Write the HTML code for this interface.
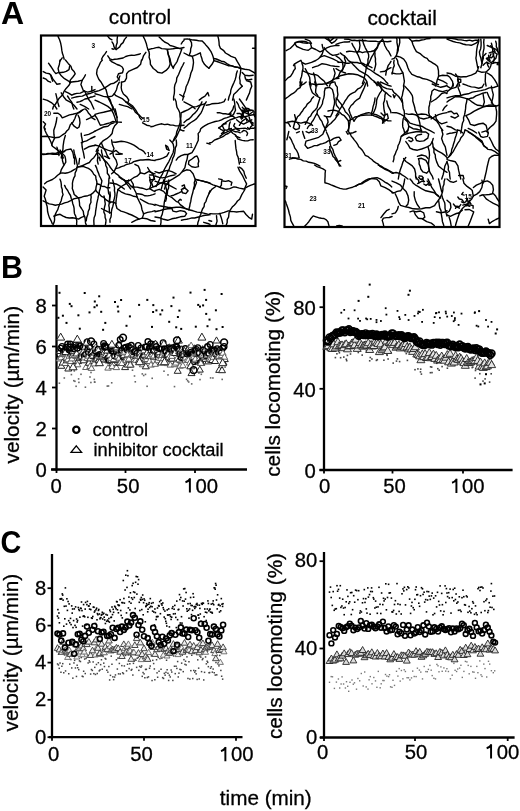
<!DOCTYPE html>
<html><head><meta charset="utf-8"><style>
html,body{margin:0;padding:0;background:#fff;width:520px;height:811px;overflow:hidden}
svg{display:block;font-family:"Liberation Sans",sans-serif;will-change:transform}
</style></head><body>
<svg width="520" height="811" viewBox="0 0 520 811">
<text transform="translate(1.1,24.3)" font-size="32" font-weight="bold">A</text>
<text transform="translate(1.07,278.1) scale(0.95,1)" font-size="32" font-weight="bold">B</text>
<text transform="translate(0.52,552.8) scale(0.9,1)" font-size="32" font-weight="bold">C</text>
<text x="140" y="23.5" font-size="20.8" text-anchor="middle" font-weight="normal" stroke="#000" stroke-width="0.3" >control</text>
<text x="402.1" y="24.5" font-size="20.8" text-anchor="middle" font-weight="normal" stroke="#000" stroke-width="0.3" >cocktail</text>
<text x="265.8" y="804.5" font-size="20.7" text-anchor="middle" font-weight="normal" stroke="#000" stroke-width="0.3" >time (min)</text>
<defs><clipPath id="cb1"><rect x="41" y="35.5" width="214.5" height="190.5"/></clipPath><clipPath id="cb2"><rect x="284.5" y="37.5" width="215" height="189.5"/></clipPath></defs>
<g fill="none" stroke="#000" stroke-width="1.4" stroke-linejoin="round" stroke-linecap="round" clip-path="url(#cb1)">
<polyline points="58.0,36.4 59.6,39.8 60.7,43.3 61.4,46.8 61.8,50.2 62.3,53.0 63.2,55.6 64.2,59.2"/>
<polyline points="62.2,57.8 59.7,61.3"/>
<polyline points="106.5,51.6 104.8,54.1 102.9,56.5 101.5,59.2"/>
<polyline points="107.8,36.4 109.8,38.7 112.0,39.8"/>
<polyline points="107.8,55.8 109.8,58.8 112.0,59.6"/>
<polyline points="117.5,36.4 117.1,39.5 117.2,42.7 116.2,45.4 116.0,48.3 113.5,49.2 112.0,48.8"/>
<polyline points="126.5,37.1 124.4,39.6 123.1,42.6 121.0,44.4 119.7,46.9 116.2,49.5"/>
<polyline points="112.0,41.9 113.4,44.2 114.0,46.8 116.2,49.5"/>
<polyline points="143.2,36.4 144.9,39.7 146.2,43.2 147.0,46.4 147.9,49.6 149.0,51.6 149.4,54.3 149.1,57.2 150.2,60.6 150.4,64.3 153.3,68.5 155.7,70.2 157.7,72.3 161.9,73.1 166.1,70.4 168.8,67.6 170.2,64.1 169.6,60.6 169.2,57.1 168.1,53.7 167.4,50.2"/>
<polyline points="148.7,49.5 151.1,48.8 153.6,48.4 156.3,47.6 159.1,47.3 161.7,48.6 164.6,48.9 167.4,49.2 170.0,49.1 172.9,48.8 175.7,48.2 179.7,48.4 184.0,47.5"/>
<polyline points="159.1,37.1 161.8,39.6 164.6,42.0 167.6,43.3 170.1,45.5 173.6,46.4 177.0,47.6 180.5,48.8"/>
<polyline points="181.2,44.0 182.5,41.8 184.0,40.5"/>
<polyline points="167.4,50.2 167.9,53.0 168.6,55.8 169.9,58.4 170.5,61.2 171.4,64.8 173.3,68.4 174.1,65.8 175.7,63.6 177.2,61.3 178.1,58.5 179.3,55.7 180.4,52.9 181.9,48.8"/>
<polyline points="184.0,62.7 182.7,65.5 181.2,68.2 180.0,71.1 178.6,74.5 176.8,77.9 176.4,81.5 174.9,84.8 174.4,87.6 174.5,90.4 174.3,93.6 173.6,96.8 173.6,100.1"/>
<polyline points="112.0,59.9 114.7,59.3 117.5,59.0 120.3,58.5 123.1,58.0 125.7,56.5 128.6,55.6 131.4,55.3 134.2,55.4 139.0,54.3 140.4,53.7"/>
<polyline points="145.9,52.3 143.6,55.6 142.1,60.0"/>
<polyline points="179.8,94.5 182.5,96.2 184.0,96.6"/>
<polyline points="184.0,39.2 187.3,38.9 191.6,39.8 196.4,40.2 199.1,40.9 202.2,41.0 204.6,43.4 206.3,45.6 208.1,47.5 211.0,51.6 212.2,54.3 213.2,57.1 214.0,60.7 212.0,64.3 208.9,68.2"/>
<polyline points="184.0,53.0 188.1,55.2 192.2,56.3 196.6,54.6 200.3,52.8 201.0,55.9 201.8,58.2 202.4,60.8 204.5,64.3 206.6,66.4 208.9,68.2"/>
<polyline points="189.5,39.2 191.5,42.6 191.7,45.8 190.7,48.8 190.5,51.7 189.5,54.4"/>
<polyline points="192.3,56.5 193.2,59.5 193.5,62.7 193.0,66.1 192.4,69.6 190.9,73.0 190.1,76.5 189.0,80.1 187.7,83.5 186.1,86.8 185.4,90.4 183.8,94.5 183.4,97.3 182.6,100.1"/>
<polyline points="213.8,58.5 216.3,59.0 218.6,60.0 221.3,61.2 224.3,61.7 226.8,63.6 229.6,65.1 232.4,66.1 235.2,67.1 237.8,67.1 240.1,68.3 244.8,69.2 249.3,69.9 253.3,72.2 256.0,73.8"/>
<polyline points="213.8,60.6 217.0,61.5 220.0,62.7 222.8,63.7 225.5,64.7 228.2,65.7 231.2,65.7 233.9,66.5 236.7,67.2 240.1,68.2"/>
<polyline points="217.9,36.4 218.6,39.1 219.0,41.8 219.2,45.2 220.5,48.4 223.4,50.3 225.5,53.0 228.4,54.6 231.1,56.3 235.3,57.8 237.2,61.4 239.3,64.8 240.9,68.2 240.4,73.1 239.5,77.9 240.1,80.7 240.0,83.5 242.2,86.2"/>
<polyline points="237.3,71.0 236.4,73.7 236.0,76.6 235.2,79.4 234.1,82.2 232.9,84.9 231.7,87.6 230.8,90.3 230.5,93.2 229.1,96.5 228.3,100.1"/>
<polyline points="242.2,72.4 244.9,75.3 249.1,75.8 253.2,75.2"/>
<polyline points="244.9,76.5 245.6,79.2 248.4,80.0 251.8,79.3"/>
<polyline points="242.2,86.2 239.3,88.9 236.7,91.8 233.7,94.5 233.2,97.3 232.5,100.1"/>
<polyline points="246.3,80.7 250.7,82.0 251.8,86.2 250.3,89.6 249.4,93.3 247.8,96.6 246.3,100.1"/>
<polyline points="199.2,100.1 202.0,97.9 205.0,96.2 207.8,92.5 208.9,95.9"/>
<polyline points="252.5,48.2 256.0,48.2"/>
<polyline points="97.7,157.6 97.4,160.9 98.2,164.1"/>
<polyline points="62.2,157.1 62.5,160.7 63.5,164.1"/>
<polyline points="79.6,158.5 79.2,161.3 78.8,164.1"/>
<polyline points="99.5,157.2 100.1,160.6"/>
<polyline points="74.8,157.2 74.5,160.6 74.6,164.1"/>
<polyline points="150.8,126.7 153.6,126.2 156.3,125.2 159.0,124.4 161.9,123.8 164.6,124.6 167.4,124.2 170.2,125.0 173.0,125.1 175.7,125.9 178.4,125.9 181.2,125.5 184.0,125.3"/>
<polyline points="173.9,140.3 175.9,137.9 177.2,135.1 178.5,132.2 179.9,129.5 180.5,126.7 181.0,124.0 180.9,120.5 180.1,117.1 179.8,112.8 178.6,110.0 177.0,107.3 176.4,104.5 176.1,101.7 175.0,99.0"/>
<polyline points="184.0,111.5 181.1,112.8 180.9,117.1 180.3,119.8 180.1,122.6 178.8,126.8 177.7,129.5 176.7,132.1 176.2,135.1 174.7,137.6 172.8,141.9"/>
<polyline points="179.8,129.5 182.6,130.7 184.0,130.8"/>
<polyline points="206.2,101.8 204.6,104.4 203.4,107.3 202.3,110.2 200.9,113.1 198.8,115.8 196.6,118.6 193.9,120.7 190.9,122.5 188.7,124.1 186.7,126.0 184.0,128.1"/>
<polyline points="202.0,101.8 200.7,104.6 199.1,107.2 197.3,110.2 195.1,112.9 192.8,114.8 191.0,117.1 189.0,119.0 186.6,120.2 184.0,122.5"/>
<polyline points="225.5,99.0 224.1,101.6 221.4,102.6 218.6,103.3 215.2,103.5 211.7,103.8 209.0,104.8 206.2,105.2"/>
<polyline points="184.0,101.8 188.4,104.1 192.5,106.4 195.1,108.7"/>
<polyline points="184.0,111.5 188.3,109.6 192.3,107.0 196.5,106.6 200.5,105.0 204.8,103.8"/>
<polyline points="233.8,99.0 234.5,101.7 234.8,104.5 235.0,107.3 235.5,110.2 233.4,114.6 229.8,116.6 227.0,117.6 224.2,118.4 221.5,119.8 218.7,120.9 215.2,121.5 211.7,122.6 208.2,123.8 205.0,125.6 202.7,127.1 200.7,128.8 200.0,131.4 198.1,133.6 198.4,136.4 198.2,139.2"/>
<polyline points="217.2,112.8 220.1,112.8 222.7,113.7 225.6,113.7 228.5,114.4 231.0,112.1 232.8,109.5 233.8,105.9"/>
<polyline points="218.6,128.1 222.7,125.2 224.7,123.4 226.8,121.7 229.8,120.0 233.9,118.5 236.6,117.6 239.3,116.6 242.2,116.8 245.0,116.7 247.7,116.0 250.4,115.2 253.2,114.8 256.0,114.9"/>
<polyline points="220.0,136.4 224.0,133.3 228.2,131.3 232.3,129.8 236.6,128.4 239.4,128.6 242.1,128.4 245.0,128.2 247.7,129.2 250.5,128.4 253.3,128.3 256.0,127.4"/>
<polyline points="209.4,143.0 211.9,142.3 214.3,140.2 217.2,139.0 220.0,137.9 222.9,136.7 225.4,134.7 228.2,133.5 231.1,131.5"/>
<polyline points="231.1,131.5 233.0,133.5 235.5,134.8 238.0,139.1 242.2,140.4 244.9,140.7 247.7,140.9 250.4,139.9 253.2,139.8"/>
<polyline points="235.2,140.5 235.4,143.3 235.7,146.1 236.0,148.9 236.6,151.6 236.9,154.5 238.1,157.1 238.8,160.6 239.4,164.1"/>
<polyline points="236.6,101.8 238.2,104.4 239.2,107.4 242.2,111.5 243.5,115.6"/>
<polyline points="239.4,99.0 242.3,103.0 245.2,107.1 247.7,111.5"/>
<polyline points="236.6,119.8 239.5,122.2 243.6,124.1 247.5,122.2 251.8,119.8"/>
<polyline points="239.4,125.3 242.1,121.1 246.1,118.5 248.3,120.6 250.7,122.3 253.2,125.3"/>
<polyline points="242.2,110.1 245.0,112.6 249.2,114.5 253.2,111.5"/>
<polyline points="249.1,117.0 250.4,121.3 253.2,123.2"/>
<polyline points="210.3,183.6 213.0,184.8 217.1,186.1 221.4,188.0 225.5,189.2 229.7,188.6 233.9,186.9 236.7,187.3 239.4,188.1 243.7,189.0 247.7,186.6 250.4,185.4 253.2,184.3 256.0,183.8"/>
<polyline points="218.6,178.9 222.1,179.6 221.5,182.4 221.4,185.2 220.0,187.2"/>
<polyline points="222.8,181.0 225.5,181.4 228.4,180.7 231.9,182.4 231.1,185.2"/>
<polyline points="215.8,186.5 211.7,189.3 209.0,193.5"/>
<polyline points="244.9,189.3 243.4,192.0 241.8,194.6 239.7,199.2 237.5,201.0 236.0,203.2 234.2,205.2 232.2,207.1 229.3,211.4 228.9,214.2 228.6,217.1 227.2,219.7 227.2,222.6 225.5,227.0"/>
<polyline points="229.7,211.5 233.8,211.6 236.6,212.0 239.4,211.6 243.7,211.3 246.0,214.5 248.8,217.3 251.7,219.1 252.5,214.2"/>
<polyline points="210.3,213.6 213.0,213.9 215.8,213.9 218.7,213.8 221.5,213.1 224.2,212.3 228.3,210.8"/>
<polyline points="208.9,220.5 211.7,221.2"/>
<polyline points="238.0,167.2 239.7,171.1 242.4,175.3 244.5,179.7 246.6,183.9 244.9,187.9"/>
<polyline points="239.4,167.2 241.8,168.7 243.8,171.2 244.5,174.2 246.3,178.2"/>
<polyline points="216.5,215.6 216.7,218.4 217.1,221.1 215.8,225.3"/>
<polyline points="220.0,214.2 221.0,216.9 221.8,219.6 222.8,223.9"/>
<polyline points="125.5,101.8 128.8,103.2 132.4,105.8 135.4,109.6 137.8,113.7 140.8,116.8 143.2,118.6"/>
<polyline points="60.1,60.0 59.4,64.2 58.1,68.5 59.0,72.7 61.3,75.8 64.5,78.7 68.6,81.1 70.7,82.2"/>
<polyline points="65.4,60.0 68.2,63.4 70.9,66.2 71.9,69.3 74.1,71.5 75.2,73.9 72.9,77.0 70.4,79.9 69.6,82.2"/>
<polyline points="59.0,72.7 63.2,72.3 66.2,71.4 69.0,69.6 69.6,66.3"/>
<polyline points="48.5,63.2 50.2,65.5 52.3,68.6 54.0,71.4 55.8,73.6 58.0,72.7"/>
<polyline points="43.2,71.6 46.2,73.1 49.5,73.7 51.4,76.0 52.8,78.9 55.1,81.9 56.9,84.2 60.1,83.8"/>
<polyline points="43.2,78.0 46.1,79.2 48.4,81.4 50.6,82.2"/>
<polyline points="50.6,74.8 51.5,78.0 52.7,81.2"/>
<polyline points="69.6,82.2 73.8,81.7 78.1,81.2 82.3,80.1 84.4,76.9 85.5,74.8"/>
<polyline points="82.3,80.1 80.9,84.4 82.5,88.5 83.4,90.8 87.7,92.1 91.9,91.0 95.0,89.6"/>
<polyline points="70.7,82.2 68.8,85.6 66.1,88.4 64.0,91.5 62.4,95.1 59.2,98.2 57.1,101.5 55.2,104.6 53.4,106.5 52.7,109.0"/>
<polyline points="65.4,91.7 68.6,93.2 71.8,95.2 74.3,94.0 76.9,93.4 80.3,93.1 83.4,91.7"/>
<polyline points="43.2,99.1 47.3,100.4 51.3,102.6 54.7,105.6 56.9,109.0"/>
<polyline points="55.9,93.8 56.9,98.1 57.8,102.4 59.0,106.5"/>
<polyline points="61.2,92.8 63.6,96.7 66.4,100.2 70.7,102.3 74.0,105.3 77.0,109.0"/>
<polyline points="67.5,96.0 69.5,99.1 71.9,102.3 72.8,106.5 73.8,109.0"/>
<polyline points="71.7,98.1 74.3,97.4 77.0,96.8 79.6,96.4 82.3,96.1 86.6,94.2 90.9,93.2 95.0,91.7"/>
<polyline points="77.0,102.3 79.8,101.6 82.4,100.5 84.9,99.0 87.7,98.5 90.2,97.3 92.8,96.7 95.0,96.0"/>
<polyline points="84.4,90.7 86.5,94.9 88.5,99.2 90.9,102.2 92.8,106.5 93.9,109.0"/>
<polyline points="91.8,86.4 91.8,90.7"/>
<polyline points="80.2,104.4 84.5,106.3 88.7,109.0"/>
<polyline points="102.4,60.0 100.4,62.4 99.2,65.3 97.1,69.5 96.6,73.7 97.6,76.5 98.8,79.2 100.8,81.7 102.4,84.3 103.9,87.0 106.0,89.5 106.7,92.2 107.4,95.0 108.5,97.6 110.2,100.0 111.6,104.5 113.0,106.7 113.6,109.1 115.2,113.1 117.2,117.5"/>
<polyline points="109.8,60.0 112.0,61.9 114.5,63.2 117.0,64.5 119.9,65.5 122.2,67.0 123.4,69.4 122.5,72.8 118.5,73.8 117.2,76.9 119.3,80.1"/>
<polyline points="141.5,60.0 140.6,64.3 137.4,67.5 133.0,69.4 128.6,71.4 126.6,73.7 126.5,78.1 124.7,81.4 121.4,82.2"/>
<polyline points="95.0,91.7 99.1,90.6 103.5,88.7 107.5,86.1 110.8,83.9 113.9,83.2 117.1,81.1 118.9,78.9 119.9,75.9"/>
<polyline points="95.0,93.8 99.2,94.9 103.4,96.4 107.7,97.0 112.1,96.1 114.3,93.9 116.5,89.7 117.5,85.6 119.3,82.2"/>
<polyline points="121.4,82.2 121.5,84.8 121.2,87.5 121.7,90.5 123.4,94.0 126.8,96.9 128.8,100.2 127.8,102.3"/>
<polyline points="114.0,93.8 115.9,95.7 118.4,96.8 122.7,98.9 125.5,101.5 128.7,104.5 132.3,107.4 133.9,109.7 135.3,112.1 138.8,115.0 139.7,117.6 141.5,119.6"/>
<polyline points="95.0,100.2 99.3,102.0 103.6,104.2 107.8,106.4 110.9,109.0"/>
<polyline points="107.7,97.0 109.8,101.3 112.0,105.5 113.0,109.0"/>
<polyline points="119.3,104.4 123.6,105.6 127.7,106.6 132.0,109.0"/>
<polyline points="53.8,113.2 58.0,113.2 60.4,115.0 62.3,117.9 65.4,116.6 69.5,114.9 72.8,114.3 76.1,113.4 79.3,112.6 82.3,110.1"/>
<polyline points="56.9,117.5 56.3,121.8 55.2,126.0 53.8,130.2 53.9,134.4 54.5,138.4 52.4,142.7 51.6,145.0"/>
<polyline points="42.1,136.5 46.3,136.3 50.6,136.9 54.8,137.7 59.2,137.3 62.1,135.2 65.3,133.2 66.7,131.0 68.7,129.2 70.3,124.7 73.1,121.9 74.9,118.5 76.0,115.3 77.9,112.9 81.1,110.9 84.4,109.0"/>
<polyline points="71.7,122.8 73.8,125.9 77.1,128.3 79.1,127.0 80.0,122.8 79.5,118.4 78.1,115.3"/>
<polyline points="44.2,128.0 45.1,130.7 46.3,133.3 48.7,137.5 50.8,141.7 52.4,146.3 56.1,148.9 59.0,151.3 61.1,153.4 62.4,155.6 63.3,158.0"/>
<polyline points="65.4,135.4 64.6,138.0 63.9,140.6 63.5,143.3 63.1,146.0 63.0,148.7 62.6,151.4 61.8,154.7 61.2,158.0"/>
<polyline points="56.9,147.1 58.2,151.3 59.0,155.5"/>
<polyline points="40.0,154.5 42.6,154.0 45.3,154.3 47.9,153.4 50.5,153.7 53.2,154.3 55.8,154.2 58.6,154.3 61.2,153.3 63.7,151.6 66.3,149.9 71.0,149.0 72.8,152.4 73.4,155.2 73.8,158.0"/>
<polyline points="81.2,133.3 81.4,136.0 82.0,138.6 82.4,141.3 81.9,143.9 82.1,146.5 82.6,149.1 83.6,153.4 84.4,158.0"/>
<polyline points="81.2,142.8 83.8,141.6 86.6,140.9 90.7,138.5 95.0,136.5"/>
<polyline points="84.4,149.2 88.6,146.8 92.8,145.8 95.0,145.5"/>
<polyline points="84.4,135.4 88.7,134.4 92.9,132.4 95.0,131.2"/>
<polyline points="85.5,109.0 87.3,111.0 88.6,113.3 90.5,115.2 91.7,117.6 95.0,119.6"/>
<polyline points="86.5,119.6 90.8,117.6 95.0,115.3"/>
<polyline points="43.2,121.7 45.6,123.9 44.0,127.1 45.3,129.1"/>
<polyline points="95.0,114.3 99.2,113.1 103.5,112.2 107.7,111.2 112.0,110.2 114.0,109.0"/>
<polyline points="95.0,115.3 97.1,118.5 98.5,121.5 100.3,125.2 103.6,124.6 106.6,123.8 109.8,122.9 113.0,121.5 116.2,122.1 118.8,122.1 121.4,122.2"/>
<polyline points="110.9,109.0 113.2,113.1 114.8,117.6 115.8,120.8 117.3,122.9 114.7,125.7 113.0,129.1 112.1,133.5 109.7,136.3 106.7,138.7 103.4,140.6 100.2,143.9 98.5,147.3 96.1,151.3"/>
<polyline points="115.1,109.0 116.2,113.2 116.9,117.5 117.2,121.7"/>
<polyline points="95.0,131.2 99.2,129.1 103.5,127.0 107.9,126.2 110.9,123.8 114.0,122.8"/>
<polyline points="142.6,122.8 146.7,125.2 150.0,125.9"/>
<polyline points="101.3,142.8 103.2,147.3 105.6,151.3 107.3,155.7 108.8,158.0"/>
<polyline points="95.0,145.0 99.1,146.1 103.4,148.3 107.7,150.1 111.9,151.3"/>
<polyline points="97.1,149.2 97.3,153.3 98.2,158.0"/>
<polyline points="76.9,166.9 80.0,166.7 83.1,166.3 85.7,167.4 88.4,168.4 90.8,170.0 92.5,172.0 93.7,174.3 95.7,176.1 96.0,178.7 96.7,181.2 97.0,183.8 96.1,186.9 95.7,190.3 93.4,192.6 90.8,194.6 87.8,195.7 84.6,196.2 81.6,197.2 78.3,198.0 76.2,196.1 74.2,194.5 73.4,191.5 72.3,188.5 72.5,185.9 72.4,183.3 72.9,180.7 73.7,178.2 75.0,175.8 75.1,173.0 76.5,170.1 76.9,166.9"/>
<polyline points="43.1,154.6 46.1,154.2 49.2,153.7 52.3,153.2 55.5,153.5 60.0,152.0 64.6,151.5"/>
<polyline points="60.0,150.0 61.5,152.1 63.1,154.1 64.9,156.1 65.6,159.2 65.8,162.1 64.4,164.5 62.9,166.8 61.2,169.8 60.3,173.4 57.6,175.3 55.3,177.5 52.4,179.5 49.2,180.8 46.7,181.9 44.6,183.8"/>
<polyline points="60.0,173.1 62.6,172.9 65.1,173.3 67.6,172.8 70.8,171.7 73.7,169.8 76.2,168.5 78.5,166.8 83.1,165.4"/>
<polyline points="73.8,150.0 74.3,153.2 75.2,156.3 76.1,159.3 76.7,162.3 77.7,166.9"/>
<polyline points="83.1,165.4 86.1,163.8 89.4,162.5 91.3,159.8 93.8,157.7 95.4,155.4 96.8,153.1 98.5,150.0"/>
<polyline points="60.0,179.2 60.9,181.7 61.3,184.3 61.4,186.9 62.3,189.4 62.3,192.1 63.1,194.6 61.9,197.6 61.2,200.7 59.8,203.8 58.6,206.9 57.8,209.6 56.4,212.0 55.2,214.6 54.5,217.1 54.6,219.8 54.1,222.3 53.0,225.1 53.0,228.0"/>
<polyline points="64.6,185.4 65.9,188.1 67.7,190.5 69.0,193.2 70.5,195.5 71.2,198.2 72.2,200.8 72.7,203.4 73.6,205.9 74.1,208.4 74.2,211.1 74.5,213.7 75.7,216.1 76.3,218.6 76.8,221.2 76.6,223.8 77.0,228.0"/>
<polyline points="78.5,197.7 79.1,200.2 79.5,202.8 79.6,205.6 81.5,208.5 83.3,211.4 83.7,214.6 85.0,217.6 85.3,220.2 85.5,222.9 86.5,225.4 86.5,228.0"/>
<polyline points="90.8,194.6 91.2,197.2 90.8,199.7 91.0,202.3 89.6,205.3 89.5,208.6 88.2,211.5 87.8,214.6 86.7,217.6 86.2,220.8"/>
<polyline points="43.1,200.8 46.2,202.3 49.2,203.9 52.3,204.4 55.3,205.2 58.4,204.6 61.6,204.1 64.6,202.9 67.6,202.1 70.7,200.7 73.7,198.9 78.5,197.7"/>
<polyline points="95.4,165.4 96.6,167.9 97.4,170.6 98.5,173.1 99.4,175.7 100.7,178.2 101.9,180.9 101.4,183.4 100.6,186.0 100.3,188.6 99.4,191.1 99.2,193.7 98.3,196.2 97.9,198.7 97.3,201.2 96.7,203.8 96.4,206.4 96.0,208.9 95.6,211.5 95.3,214.7 94.1,217.7 93.8,220.8 94.0,224.4 93.5,228.0"/>
<polyline points="101.5,150.0 101.7,152.6 102.5,155.1 103.0,157.7 104.2,160.2 105.5,162.7 105.8,165.5 107.0,167.9 107.3,170.5 107.3,173.3 109.0,175.5 109.8,178.2"/>
<polyline points="96.9,183.8 99.6,184.5 101.9,186.3 104.7,186.5 107.1,187.8 109.8,187.7"/>
<polyline points="95.4,190.0 97.3,192.2 99.5,194.1 101.4,196.3 103.8,197.4 105.5,199.4 107.7,200.8 110.6,202.7"/>
<polyline points="104.6,156.2 107.1,157.3 109.6,158.6"/>
<polyline points="98.5,153.1 100.5,155.3 102.4,157.7 104.2,160.1 106.5,162.0 108.2,164.1 109.8,166.3"/>
<polyline points="43.1,186.9 46.1,190.0 45.2,193.0 44.2,196.3 45.2,198.7 45.9,201.2 46.3,203.8 47.1,206.3 47.4,208.9 47.6,211.5 48.4,214.6 49.4,217.6 51.0,220.6 52.3,223.8"/>
<polyline points="53.8,216.2 56.8,215.0 60.1,214.3 63.1,216.2 66.2,217.5 69.2,218.0 72.3,217.8 75.4,218.3 78.5,219.1 81.4,217.3 84.6,216.2"/>
<polyline points="101.5,208.5 104.5,210.2 107.6,211.7 110.8,212.9"/>
<polyline points="104.0,196.0 104.6,198.6 104.9,201.3 105.3,204.0 104.6,206.7 104.2,209.3 103.8,212.0 105.0,214.6 105.1,217.4 106.0,220.0 105.8,222.7 105.3,225.3 105.0,228.0"/>
<polyline points="109.0,178.0 108.8,180.5 108.8,183.0 108.3,185.5 107.9,188.0 108.3,190.5 108.6,193.1 109.8,195.4 109.6,198.0 109.5,200.5 109.3,203.0 108.8,205.5 109.3,207.9 109.3,210.5 109.6,213.1"/>
<polyline points="109.9,225.5 110.0,228.0"/>
<polyline points="112.7,142.1 115.6,142.3 118.4,141.7 121.2,141.3 124.4,141.6 127.4,142.4 130.7,143.6 133.9,145.2 136.5,146.9 138.9,148.8 141.4,149.9 143.7,151.3 145.5,153.8"/>
<polyline points="111.6,140.0 112.3,144.3 114.0,148.6 112.8,151.6 113.4,156.1 116.1,160.1 117.3,164.4 115.6,168.4 114.0,171.9 111.6,173.8"/>
<polyline points="113.8,151.6 116.0,150.4 118.9,153.1 122.3,154.0 119.1,154.4 115.9,154.3"/>
<polyline points="110.0,154.2 112.7,152.7"/>
<polyline points="110.0,167.0 112.8,170.6 116.0,173.7 118.2,175.2 120.1,177.0 122.2,178.6 124.4,180.1 126.4,181.8 128.7,183.3 130.5,185.7 132.8,187.6"/>
<polyline points="115.9,168.6 118.7,167.9 121.3,166.6 123.9,165.9 126.3,164.5 129.0,163.9 131.6,163.1 133.7,161.7 136.1,161.0 140.2,160.0 142.8,160.0 145.5,159.7 148.2,159.5 150.8,160.0 155.0,160.6"/>
<polyline points="134.9,164.3 138.4,166.2 139.8,169.6 140.3,172.9 137.1,176.2 133.6,177.7 129.7,180.5 125.6,180.9 122.1,179.2 119.0,177.0"/>
<polyline points="140.2,172.8 144.5,173.9 148.8,171.4 152.7,173.1 155.0,173.8"/>
<polyline points="110.0,183.0 112.7,183.3 117.0,184.3 121.1,186.6 124.3,189.0"/>
<polyline points="124.3,180.2 126.3,183.4 128.8,186.4 130.7,189.0"/>
<polyline points="147.6,167.5 149.9,171.4 152.8,173.8 154.3,178.3 151.5,182.4 152.9,186.5"/>
<polyline points="149.5,175.0 153.6,175.0 154.6,179.3 150.4,180.0 149.5,177.0"/>
<polyline points="169.8,140.0 171.7,141.9 173.2,144.2 174.0,148.5 173.1,152.7 171.0,157.0 169.0,161.3 166.6,165.4 164.3,169.5 162.5,173.8 160.1,178.0 158.2,182.3 156.1,186.5"/>
<polyline points="176.2,140.0 176.5,142.7 176.5,145.4 175.3,147.9 175.1,150.6 174.7,153.3 174.0,155.9 172.7,158.4 172.0,161.2 171.0,163.8 169.9,166.4 169.2,169.2 167.7,171.7 166.7,174.4 165.6,177.0 164.6,179.7 163.5,182.3 162.2,185.6 161.3,189.0"/>
<polyline points="165.6,145.3 166.7,149.2 169.2,150.5 167.6,146.6 165.6,145.3"/>
<polyline points="155.0,160.1 159.3,159.3 163.3,157.8 166.8,156.1 168.8,152.7"/>
<polyline points="198.4,140.0 196.5,144.3 194.4,148.7 192.0,152.7 187.8,154.5 184.5,154.5 181.2,155.6 178.0,157.7 176.2,160.1"/>
<polyline points="187.8,154.8 187.1,159.1 185.8,163.3 184.9,167.7 182.3,171.5 179.3,174.9 176.1,176.8 172.9,178.9 169.5,180.9 166.5,184.3 165.2,186.6 164.5,189.0"/>
<polyline points="188.8,161.2 192.0,159.0 195.0,156.6 197.0,156.0 198.2,158.5 198.8,161.2 198.1,163.8 198.5,166.6 195.2,167.4 191.8,166.8 188.5,164.3 188.8,161.2"/>
<polyline points="182.5,171.7 186.6,169.8 190.2,170.4 193.1,173.8 194.8,178.2 196.5,182.4 195.0,186.4 194.1,189.0"/>
<polyline points="195.2,179.1 199.4,180.4 203.7,181.3 207.8,182.5 210.0,183.4"/>
<polyline points="155.0,171.7 159.2,173.0 163.4,171.3 167.8,170.4 171.9,171.7 176.2,173.8"/>
<polyline points="155.0,176.0 159.1,177.4 162.3,177.9 166.6,177.1 170.8,175.7 175.1,174.9"/>
<polyline points="155.0,181.2 159.1,182.6 163.5,183.4 167.7,184.4 171.8,186.6 176.2,189.0"/>
<polyline points="182.0,186.0 184.3,184.9 184.9,187.8 183.0,189.0"/>
<polyline points="206.8,143.2 210.0,144.2"/>
<polyline points="110.0,192.0 110.3,195.8 109.7,198.5 109.5,201.2"/>
<polyline points="112.7,180.0 113.4,182.6 114.0,185.3 114.6,187.9 114.4,190.6 114.9,193.2 114.9,195.9 114.3,198.5 113.6,201.2 113.4,203.8 112.8,206.4 111.9,209.0 111.4,211.7 111.3,214.4 111.0,217.0 109.9,219.6 110.0,222.3"/>
<polyline points="118.0,189.5 121.1,191.8 125.4,193.9 129.6,194.7 133.7,196.3 137.0,196.9"/>
<polyline points="118.0,189.5 117.0,193.8 116.7,196.4 116.3,199.0 116.0,201.7 115.8,204.3 117.0,208.5 121.0,211.1 123.7,211.9 126.4,212.8 129.0,214.0 131.7,215.0 135.9,217.1 139.1,219.1 142.3,218.1"/>
<polyline points="137.0,196.9 139.1,201.2 141.2,205.4 142.0,209.7 143.7,213.9 142.3,218.1"/>
<polyline points="118.0,189.5 121.3,186.5 125.3,184.1 127.8,182.2 128.6,180.0"/>
<polyline points="130.7,180.0 133.2,184.1 133.8,188.5 136.0,192.7 137.0,196.9"/>
<polyline points="131.7,186.3 134.3,187.0 137.1,187.1 139.7,187.7 142.4,188.2 146.5,189.6 149.7,188.6 152.7,187.0 155.0,186.3"/>
<polyline points="137.0,193.8 139.7,194.0 142.4,194.5 144.9,195.8 147.6,195.9 150.3,195.4 152.8,194.6 155.0,193.8"/>
<polyline points="140.2,199.0 144.3,201.3 148.6,203.6 152.8,204.4 155.0,205.4"/>
<polyline points="143.4,213.8 147.5,212.4 151.8,211.6 155.0,210.7"/>
<polyline points="131.7,222.3 136.0,220.2 139.1,219.1"/>
<polyline points="142.3,218.1 146.6,218.7 150.7,220.5 155.0,221.3"/>
<polyline points="110.0,202.0 112.8,202.0 115.9,203.3"/>
<polyline points="149.7,180.0 151.0,184.2 149.6,188.6 152.9,190.7 155.0,191.6"/>
<polyline points="163.5,180.0 164.6,182.6 165.3,185.4 166.1,188.0 166.7,190.6 166.5,193.3 165.6,195.9 165.2,198.6 164.5,201.2 164.1,203.8 163.9,206.5 163.4,209.1 162.7,211.8 162.2,214.4 161.0,217.0 161.0,219.6 161.0,222.3 160.3,226.5"/>
<polyline points="168.8,180.0 168.6,182.7 168.7,185.3 168.6,188.0 167.5,190.6 167.4,193.3 166.2,195.8 166.4,198.6 165.6,201.2"/>
<polyline points="155.0,190.6 159.3,189.3 163.6,191.4 165.4,193.5 167.5,195.0 169.8,196.5 172.1,197.7 174.1,199.5 176.1,201.3 178.5,202.4 180.2,204.6 182.3,206.1 184.4,207.8 188.8,209.8 193.1,210.8 197.2,212.1 201.5,212.6 205.8,213.6 210.0,214.9"/>
<polyline points="155.0,186.3 159.1,183.9 163.4,181.8 167.7,181.1"/>
<polyline points="181.4,189.5 184.4,187.6 188.1,190.8 185.8,193.6 182.4,192.7 181.4,189.5"/>
<polyline points="170.9,195.9 173.7,195.2 176.3,194.0 178.9,192.9 181.4,191.6"/>
<polyline points="195.2,180.0 194.3,182.6 194.5,185.4 193.8,188.0 193.2,190.6 192.6,193.3 191.8,195.9 191.2,198.5 190.8,201.2 190.1,203.7 189.7,206.3 188.8,209.6"/>
<polyline points="197.3,180.0 200.0,180.4 202.6,181.1 205.2,181.8 207.8,182.4 210.0,183.2"/>
<polyline points="210.0,190.6 209.1,193.3 208.0,195.9 206.8,198.5 206.0,201.3 204.4,203.7 204.1,206.6 202.5,209.0 201.5,211.7 200.7,214.5 199.3,217.0 198.9,219.7 198.0,222.2 197.3,226.5"/>
<polyline points="155.0,204.3 159.1,205.7 163.5,206.5 167.7,207.3 171.9,207.8 176.2,207.2 180.3,207.3 184.5,208.3 188.8,209.6"/>
<polyline points="171.9,208.6 172.9,211.1 176.3,211.9 180.4,210.6 184.8,211.5 186.6,213.7 184.7,216.3 180.3,216.8 176.2,218.0 171.8,218.8 167.7,220.3 163.5,219.3 159.3,217.7 155.0,217.0"/>
<polyline points="155.0,211.7 159.2,210.8 163.5,209.5 167.7,208.7 171.9,208.6"/>
<polyline points="181.4,220.2 184.0,219.6 186.7,219.2 189.4,218.6 192.0,217.9 194.7,218.0 197.4,217.3 200.0,216.7 202.6,215.8 205.2,215.2 208.0,215.1 210.0,213.8"/>
<polyline points="178.3,201.2 180.2,199.2 181.4,200.1"/>
<polyline points="203.7,222.3 207.8,223.5 210.0,224.4"/>
<polyline points="229.0,128.7 227.1,130.3 224.7,129.9 223.5,132.1 221.5,133.6"/>
<polyline points="246.8,135.6 247.6,133.2 246.1,131.1 243.7,130.4 241.8,132.0"/>
<polyline points="250.1,110.8 248.8,108.7 246.3,108.3 243.9,109.1 242.3,107.2"/>
<polyline points="226.1,123.7 223.6,123.8 221.8,125.4 223.2,127.4 224.2,129.8"/>
<polyline points="234.7,123.6 233.7,125.9 235.5,127.7 237.2,129.5 239.5,130.5"/>
<polyline points="249.0,110.3 246.6,110.1 244.1,109.8 244.0,112.3 242.0,113.8"/>
<polyline points="242.6,118.2 240.8,116.4 242.5,114.5 243.6,112.3 245.1,110.3"/>
<polyline points="254.1,111.8 253.9,114.3 254.8,116.7 256.9,115.5"/>
<polyline points="241.5,119.1 242.9,117.0 241.8,114.7 239.6,113.4 237.1,113.5"/>
<polyline points="235.4,135.8 237.7,136.8 240.0,137.8"/>
<polyline points="228.6,114.4 231.0,113.8 230.2,116.1 232.7,116.2 234.8,117.6"/>
<polyline points="249.1,115.4 248.3,113.0 248.3,110.5 250.7,110.0 253.2,110.4"/>
<polyline points="240.5,117.9 242.4,116.2 244.8,116.7 246.4,118.7 246.9,121.1"/>
<polyline points="251.2,123.0 252.4,125.2 250.6,127.0 249.5,129.2 247.6,127.5"/>
<polyline points="224.0,132.6 222.9,130.3 220.6,129.4 219.0,127.5"/>
<polyline points="242.7,110.7 243.9,112.9 245.7,111.2 248.1,111.9 249.4,109.8"/>
<polyline points="240.3,132.8 238.0,131.9 235.5,131.8 233.2,130.9 230.9,129.7"/>
<polyline points="230.2,122.0 229.4,124.3 229.1,126.8 229.0,129.3 231.4,128.5"/>
</g>
<g fill="none" stroke="#000" stroke-width="1.4" stroke-linejoin="round" stroke-linecap="round" clip-path="url(#cb2)">
<polyline points="288.8,131.5 288.2,134.2 287.6,137.0 286.8,139.8"/>
<polyline points="326.5,132.3 328.1,135.7 329.3,139.0 329.9,142.5 330.7,146.1 332.8,149.3 333.8,153.0 335.3,156.3 336.9,159.0 337.9,162.0 339.4,166.1"/>
<polyline points="324.0,131.4 322.8,134.2 318.7,137.3 314.5,138.6 310.3,139.9 306.0,141.1 305.0,145.1 307.6,148.3 311.7,146.8 314.4,145.6 317.3,145.5 319.9,144.3 322.6,143.6 325.6,142.6 328.2,140.9 331.2,140.1 333.8,138.4 336.6,137.5 339.1,137.1 341.1,140.1 338.5,141.7 336.8,144.3 333.8,145.3"/>
<polyline points="346.2,131.5 347.7,134.1 350.4,133.3 353.2,132.7 356.0,131.5"/>
<polyline points="302.6,131.5 303.3,134.3 304.8,138.4"/>
<polyline points="306.1,131.6 308.9,132.8 311.7,131.5"/>
<polyline points="299.4,131.7 296.5,132.8"/>
<polyline points="289.5,137.0 291.2,139.6 292.4,142.5 293.8,145.3 294.8,148.2 296.7,150.7 298.1,153.5 299.2,158.0 296.5,158.1 293.8,158.0 289.5,159.2"/>
<polyline points="292.3,157.8 295.1,158.2 297.9,159.1 300.7,159.4 303.3,160.9 306.2,161.1 308.8,162.3 311.7,162.8 314.4,163.4 317.2,164.7 320.0,166.1"/>
<polyline points="329.7,146.7 330.0,149.6 331.4,152.1 333.0,156.5 335.0,158.3 336.5,160.6 338.5,163.4 340.8,166.1"/>
<polyline points="335.2,159.2 337.9,161.7 340.8,160.5"/>
<polyline points="314.5,165.0 317.1,166.6 320.0,167.7 323.0,168.8 325.5,170.5 325.1,173.3 325.1,176.1 324.9,179.5 324.9,182.8 328.1,183.6 331.1,184.9 333.9,186.0 336.6,187.1 340.0,188.4 343.5,189.1 346.4,189.0 349.2,188.1 352.6,187.2 356.0,185.8"/>
<polyline points="285.4,201.0 286.3,203.8 287.3,206.6 288.5,210.0 289.3,213.5 290.4,216.9 290.8,220.4 292.2,223.2 293.7,225.9"/>
<polyline points="304.8,225.9 306.9,223.9 308.8,221.7 310.7,218.8 313.2,215.9 315.9,216.8 318.6,217.7 321.4,218.2 324.0,218.5 326.3,219.9 327.9,221.8 329.0,225.9"/>
<polyline points="284.0,185.8 287.0,186.5 286.1,188.5"/>
<polyline points="336.6,225.9 339.3,225.4 342.2,225.9"/>
<polyline points="356.0,185.8 358.6,184.4 361.7,183.9 364.4,182.1 367.3,180.6 371.2,178.5 374.0,178.7 376.6,179.1 379.3,181.7 380.9,185.9 385.2,187.6 389.2,189.9 393.1,192.9"/>
<polyline points="392.1,216.5 389.2,217.5 386.4,217.6 383.4,218.1 382.2,220.4 383.1,223.1 383.7,225.9"/>
<polyline points="378.2,165.0 381.1,166.1 383.6,167.9 386.4,169.2 389.1,170.7 393.4,173.2"/>
<polyline points="380.9,217.6 383.9,213.7 386.5,210.7 389.2,209.3"/>
<polyline points="286.1,50.7 290.2,48.5 293.7,45.1 295.5,42.5 298.8,41.8 302.9,42.7 307.3,43.3"/>
<polyline points="294.6,43.3 298.8,41.4 302.0,41.1 305.3,41.5 307.8,42.7 310.5,43.3 311.6,47.7 308.3,50.2 305.7,49.9 303.2,49.4 299.8,47.8 296.8,46.5 294.6,43.3"/>
<polyline points="311.5,47.6 315.8,49.5 320.0,51.8 322.2,51.0 326.2,48.2 330.5,46.4 334.8,45.6 339.0,45.5"/>
<polyline points="305.2,39.1 309.7,40.9 311.5,43.3"/>
<polyline points="324.2,37.0 326.2,38.8 328.5,40.1 331.6,43.3 334.9,41.3 336.9,39.1"/>
<polyline points="327.4,37.0 328.7,39.3 330.2,40.9 333.7,38.1"/>
<polyline points="322.1,44.4 322.6,47.1 323.5,49.8 322.2,54.0 320.1,57.2 318.1,59.0 315.8,60.5 311.5,62.4 308.3,63.3 305.4,64.2 301.9,62.5 300.9,60.3 297.6,62.2 294.3,64.2 293.5,65.6"/>
<polyline points="294.6,64.5 295.3,68.5 293.7,70.6 292.6,73.1 290.5,76.3 287.9,77.9 285.6,80.4"/>
<polyline points="302.0,63.4 302.9,66.0 303.0,68.7 302.3,71.3 302.0,74.0 301.5,76.7 300.5,79.2 300.6,82.7 299.9,86.0"/>
<polyline points="312.6,67.7 315.2,66.7 317.9,65.9 322.1,63.7 326.3,64.4 330.5,65.6 334.8,66.2 339.0,66.6"/>
<polyline points="320.0,57.1 324.3,55.7 328.4,57.1 332.9,58.8 337.1,61.0 339.0,62.4"/>
<polyline points="324.2,47.6 326.4,50.7 329.6,53.6 332.7,55.4 336.8,54.8 339.0,53.9"/>
<polyline points="303.0,70.8 307.3,72.8 311.5,74.3 315.6,74.7 318.0,75.7 319.8,77.4 322.0,79.4 324.3,81.3 325.7,83.6 327.4,85.7"/>
<polyline points="305.2,68.7 307.5,72.9 309.6,77.2 310.1,81.4 311.0,86.0"/>
<polyline points="313.6,73.0 314.8,77.2 315.4,81.5 316.8,86.0"/>
<polyline points="333.7,68.7 335.1,73.1 334.0,77.3 332.0,81.6 330.4,83.6 329.5,86.0"/>
<polyline points="326.3,83.5 330.5,81.4 334.7,78.9 339.0,78.2"/>
<polyline points="344.5,39.1 348.3,39.2 351.9,40.5 354.5,40.3 357.1,40.8 359.8,40.2 362.4,40.8 365.1,40.5 367.7,41.1 370.3,41.2 373.0,41.3 375.7,41.1 378.3,41.9 381.0,41.3 383.6,41.4 387.3,41.7 391.0,41.2"/>
<polyline points="336.0,44.4 340.1,42.9 344.5,41.9 347.1,42.0 349.8,41.8"/>
<polyline points="362.4,39.1 363.4,43.4 365.3,47.8 367.5,51.8 368.6,54.4 368.7,57.1 367.9,59.7 368.0,62.5 366.5,66.5 365.8,70.8 364.8,75.1 363.9,79.4 362.4,83.5"/>
<polyline points="351.9,43.3 353.1,45.9 354.7,48.3 355.8,50.9 357.2,53.4 358.5,55.9 359.5,58.6 360.5,61.2 361.6,63.7 363.7,65.4 365.8,66.9 367.8,68.6 370.5,70.0 373.0,71.8 375.6,73.6 378.2,75.2 381.1,77.0 383.8,79.1 385.7,81.4 387.8,83.5"/>
<polyline points="340.2,52.9 342.3,54.6 344.5,56.0 346.6,58.2 348.4,60.6 351.0,62.2 353.0,64.4 355.1,66.6 357.2,68.7 359.1,70.6 361.4,71.9 365.5,74.1 367.7,75.5 369.6,77.4 371.7,79.5 374.3,81.3 375.9,83.3 377.2,85.7"/>
<polyline points="338.1,62.4 342.3,62.2 346.6,63.3 349.3,63.2 351.9,62.2 354.5,62.5 357.2,62.5 359.7,63.3 362.5,63.1 365.0,64.7 367.8,65.5 372.0,67.7"/>
<polyline points="346.6,51.8 349.2,51.2 351.9,51.4 354.5,51.9 357.2,51.9 359.8,51.6 362.4,52.7 365.0,51.9 367.7,51.9 370.9,51.5 373.9,50.7 376.1,48.6 378.2,45.4 380.1,42.1 382.5,39.1"/>
<polyline points="374.1,50.8 375.0,53.3 374.9,56.0 375.5,58.6 375.4,61.3 375.8,64.0 375.3,66.6 374.1,70.8"/>
<polyline points="378.3,43.3 377.5,47.7 374.8,51.6 373.3,54.3 371.7,56.9 369.8,61.3 367.7,65.6"/>
<polyline points="382.5,39.1 383.9,42.2 384.8,45.5 387.0,49.6 388.7,51.5 389.9,53.9 391.0,56.0"/>
<polyline points="391.0,61.3 389.6,63.6 388.1,65.7 387.3,68.2 386.4,70.7 385.7,75.1"/>
<polyline points="380.4,71.9 384.9,71.2 388.9,68.7 391.0,67.7"/>
<polyline points="336.0,78.2 340.1,75.8 344.5,74.7 348.7,73.7 352.9,74.0 357.3,74.7 361.2,76.5 364.6,78.2 366.8,81.4 367.7,86.0"/>
<polyline points="336.0,68.7 339.3,70.6 342.3,71.9 345.5,73.0"/>
<polyline points="344.5,56.0 344.6,58.7 345.6,61.3 344.7,65.7 342.3,69.8 339.9,72.8 338.1,77.2"/>
<polyline points="336.0,56.0 339.3,58.1 342.2,61.3 343.0,65.5 343.0,68.2 342.3,70.8"/>
<polyline points="359.3,41.2 360.0,45.4 359.3,49.7 357.2,52.9"/>
<polyline points="302.0,82.0 301.3,84.8 300.2,87.6 297.5,89.1 295.6,91.5 293.5,93.1 291.2,94.4 288.2,96.7 285.1,98.9"/>
<polyline points="309.4,82.0 309.9,85.2 310.6,88.2 312.4,92.8 315.8,95.5 320.0,97.9 318.7,102.0 317.8,104.7 317.1,107.6 315.4,109.7 313.5,111.5 311.8,113.6 310.7,116.0 308.5,117.7 307.6,120.2 305.2,124.3"/>
<polyline points="314.7,82.0 315.5,84.6 316.1,87.3 315.7,89.9 315.6,92.7 317.8,95.7"/>
<polyline points="313.6,96.8 311.7,98.7 310.6,101.2 307.2,104.1 306.0,106.5 304.0,108.4 302.7,110.7 301.0,112.8 299.6,115.0 297.5,116.8 295.6,121.1"/>
<polyline points="309.4,84.1 312.6,84.0 315.7,84.8 318.9,84.2 322.1,84.2 325.3,83.7 328.4,83.1 331.1,82.9 333.7,82.0"/>
<polyline points="325.3,88.3 324.4,91.4 324.4,94.7 323.8,97.9 322.8,100.9 322.4,103.8 321.1,106.3 319.5,108.5 317.4,110.4 317.1,113.3 315.6,115.7 313.4,120.0 311.8,122.1 310.8,124.6 308.5,126.2 307.3,128.5"/>
<polyline points="325.3,88.3 329.6,87.2 332.4,89.5 333.1,92.1 333.8,94.7 334.0,97.9 334.6,101.0 334.4,104.2 333.5,107.4 333.2,110.0 332.5,112.6 330.5,116.8 326.4,116.7 324.2,115.8"/>
<polyline points="316.8,113.7 318.7,116.2 320.0,119.0 321.9,121.4 322.9,124.4 325.1,128.6 326.3,131.0"/>
<polyline points="334.8,82.0 335.6,84.8 337.3,87.2 337.4,91.0 337.9,94.7 337.2,97.5 336.1,99.9 335.9,102.7 336.6,105.5 339.0,108.4"/>
<polyline points="326.3,116.9 327.6,119.5 328.1,122.1 326.2,126.3 325.3,128.7 324.2,131.0"/>
<polyline points="339.0,113.7 336.8,116.3 335.0,119.2 332.8,121.2 330.8,123.5 328.3,125.3 326.3,127.5"/>
<polyline points="287.2,122.2 289.9,121.7 292.4,121.3 296.7,122.2 300.9,123.1 305.2,122.0 309.3,123.4 312.6,125.4"/>
<polyline points="294.6,114.8 295.7,119.0 294.5,123.2 293.3,127.7 295.6,129.6 299.0,128.6 299.6,125.7 297.7,123.2"/>
<polyline points="284.0,122.2 288.4,123.1 290.3,126.4"/>
<polyline points="299.9,82.0 301.0,85.5 303.9,83.9 306.2,82.0"/>
<polyline points="364.6,82.0 362.8,84.9 360.6,87.6 357.5,89.2 355.2,91.8 352.4,93.1 349.8,94.7 348.0,96.6 346.6,98.9 345.0,101.0 343.8,103.4 341.1,107.3 339.5,109.9 338.0,112.6 336.0,115.8"/>
<polyline points="366.7,82.0 365.4,84.5 364.5,87.3 363.3,89.9 362.1,92.4 360.8,95.2 359.6,98.2 356.9,99.8 354.7,101.7 353.1,103.9 351.1,105.5 348.8,109.5 350.1,113.5 352.0,117.9 354.0,121.1"/>
<polyline points="336.0,97.9 337.9,99.8 339.4,102.0 341.1,103.9 342.4,106.3 344.1,108.9 345.3,111.7 347.2,113.6 349.0,115.6 350.4,118.9 350.0,121.6 349.6,124.2 348.9,127.7 347.6,131.0"/>
<polyline points="354.0,121.1 355.5,118.9 357.2,116.9 361.4,114.7 365.5,113.3 368.8,112.7 372.9,113.9 377.1,115.0 381.2,117.1 383.4,120.0 382.5,123.2"/>
<polyline points="373.0,113.7 374.3,111.1 375.4,108.5 376.0,105.9 376.5,103.2 376.6,100.5 377.3,98.0 379.5,93.7 381.8,90.4 380.6,86.1 378.8,84.1 377.2,82.0"/>
<polyline points="374.1,82.0 376.4,83.4 378.4,85.1 380.6,87.1 382.4,89.5 384.5,91.7 387.0,93.4 388.9,95.2 391.0,96.8"/>
<polyline points="385.7,92.6 384.9,95.2 384.8,97.9 384.5,100.6 383.5,103.2 383.7,105.8 383.9,108.3 384.3,111.0 385.1,113.8 384.5,116.4 383.6,119.0"/>
<polyline points="386.8,101.0 387.4,103.6 388.1,106.1 390.4,110.4 391.0,112.7"/>
<polyline points="378.3,82.0 380.4,84.1 382.3,86.6 386.7,88.6 391.0,89.4"/>
<polyline points="380.4,82.0 384.7,83.9 388.7,85.5 391.0,86.2"/>
<polyline points="381.0,113.0 383.8,115.7 387.3,113.9 388.3,118.3 384.8,121.3 381.9,119.0 384.0,123.0"/>
<polyline points="348.5,121.0 351.8,119.2 354.8,117.0 357.7,116.5 360.5,115.5 363.3,115.2 366.1,115.0 368.9,115.1 371.8,114.9 374.6,116.1 377.4,117.0 380.1,118.3 382.9,118.8 385.5,119.9 388.1,120.9 391.0,120.9"/>
<polyline points="348.5,121.0 348.6,123.7 348.8,126.3 348.7,129.0 348.5,131.7 350.2,133.6 351.2,136.1 352.9,138.0 354.4,140.1 356.1,142.1 357.6,144.3 358.7,146.7 360.7,148.5 362.5,150.5 363.9,152.8 365.2,155.3 367.7,156.3 369.7,158.0 371.9,159.5 373.7,161.4 375.9,162.9 378.3,164.2 380.0,166.4 382.4,167.6 385.1,169.3 388.0,170.5 390.7,172.2"/>
<polyline points="356.0,185.8 358.5,184.4 361.2,183.3 363.6,181.7 366.0,180.2 368.6,178.9 371.4,178.5 374.3,178.0 377.1,177.6 380.1,178.8 382.7,180.5 385.3,182.3 387.7,183.5 389.8,185.1 391.8,186.9"/>
<polyline points="348.5,121.0 346.4,118.3 344.3,115.7 341.7,114.3 339.9,112.4 337.0,110.9 334.0,110.2 331.0,110.4 328.0,111.0"/>
<polyline points="371.7,115.2 371.7,112.5 372.5,110.0 373.0,106.9 373.9,104.0 374.7,101.0 375.0,98.0"/>
<polyline points="407.9,130.0 404.7,133.2 401.2,136.2 400.2,140.5 399.3,143.2 398.0,145.8 397.5,148.7 396.2,151.2 395.3,153.9 394.0,156.4 393.9,159.1 393.1,161.7"/>
<polyline points="401.5,136.3 404.8,134.5 408.9,133.1 413.3,132.3 417.4,131.5 421.6,132.0 425.9,132.0 428.7,134.1 427.8,138.1 423.8,140.9 419.6,141.4 416.5,140.5 415.3,137.4 417.3,135.1 421.6,134.2"/>
<polyline points="406.8,138.5 409.0,137.1 412.2,138.5 413.0,140.2 411.0,141.7 408.9,140.6"/>
<polyline points="405.8,141.6 408.1,144.7 410.0,148.1 413.2,149.5 417.4,150.2 421.6,149.0 424.7,147.8 427.7,146.6 430.3,145.0 432.3,141.6 433.2,138.5"/>
<polyline points="428.0,146.9 429.2,151.2 429.5,155.4 428.9,159.6 428.5,163.8 428.7,168.2 429.9,172.4 432.4,176.4 433.2,179.0"/>
<polyline points="432.2,141.6 432.8,144.2 433.1,146.9 434.0,149.5 433.9,152.3 435.3,154.8 435.4,157.5 436.6,161.6 438.5,166.0 441.9,168.8 445.0,171.1 447.0,172.3"/>
<polyline points="433.2,146.9 435.1,149.4 438.4,151.4 441.8,153.1 444.9,155.4 447.0,157.5"/>
<polyline points="417.4,156.4 421.7,155.0 426.0,156.2 428.0,158.6"/>
<polyline points="418.4,158.6 419.2,161.1 419.1,163.9 420.2,166.4 420.8,169.0 422.8,171.9 426.6,173.2 429.4,170.1 428.7,167.5 428.3,164.7 425.9,160.4 421.6,158.3 418.4,158.6"/>
<polyline points="403.6,158.6 405.9,161.5 409.1,163.6 412.3,165.9 414.6,169.0 415.6,173.3 415.6,176.2 416.3,179.0"/>
<polyline points="405.8,157.5 404.2,159.6 403.0,161.8 401.7,166.0 400.2,170.1 399.1,174.3 398.3,179.0"/>
<polyline points="392.0,173.4 396.1,172.5 400.4,173.6 402.4,175.2 404.7,176.5 407.9,179.0"/>
<polyline points="441.7,130.0 442.9,134.2 441.6,138.5 443.0,142.6 445.3,146.8 446.1,151.1 447.0,155.4"/>
<polyline points="447.0,161.7 444.9,166.0 444.1,170.3 443.2,174.5 441.7,179.0"/>
<polyline points="465.0,130.0 464.2,132.7 463.0,135.4 460.9,137.7 459.7,140.6 457.8,143.1 456.3,145.8 454.8,148.5 453.4,151.3 451.8,153.4 450.3,155.5 447.0,158.6"/>
<polyline points="457.6,130.0 456.9,132.6 456.2,135.2 455.2,137.9 454.6,140.7 453.6,143.8 452.7,147.0 451.7,149.5 451.4,152.3 449.1,156.4"/>
<polyline points="465.0,130.0 467.9,131.2 470.4,133.1 472.5,134.6 474.7,136.1 476.5,138.0 478.6,139.6 482.1,142.6 483.3,144.9 485.2,146.7 488.1,149.4 491.5,149.8 494.6,151.3 496.6,152.9 498.8,154.3"/>
<polyline points="478.7,132.1 480.7,136.5 483.0,137.4 487.5,136.4 488.3,133.1 486.1,130.9 481.9,132.1"/>
<polyline points="468.2,132.1 471.0,133.4 473.5,135.1 476.1,136.9 478.7,138.5 482.2,141.4 483.9,146.1 487.2,148.0"/>
<polyline points="489.3,137.4 491.5,141.5 493.5,145.9 495.7,149.0 498.8,151.2"/>
<polyline points="498.8,155.4 494.5,155.1 491.5,156.5 489.2,158.6 488.1,162.8 487.1,167.0 486.3,171.3 485.3,175.5 484.5,179.0 483.0,183.2"/>
<polyline points="447.0,159.6 451.2,160.8 455.4,161.8 457.9,165.9 458.6,170.2 459.6,174.4 460.8,179.0"/>
<polyline points="447.0,161.7 447.8,164.3 448.5,166.9 448.2,169.7 449.5,172.2 449.7,175.6 450.2,179.0"/>
<polyline points="458.6,175.5 463.1,175.4 463.9,178.7"/>
<polyline points="447.0,134.2 449.6,133.3 452.2,133.0 456.5,132.1"/>
<polyline points="392.0,181.1 396.3,182.9 400.6,185.2 403.3,188.7 406.1,191.5 408.0,195.9 408.7,200.2 407.8,204.3 405.8,206.5"/>
<polyline points="404.7,179.0 404.0,183.3 402.8,187.6 400.6,190.8 397.2,191.4 394.1,192.8 392.0,192.7"/>
<polyline points="410.0,179.0 411.8,181.0 413.2,183.2 415.3,184.8 417.5,186.1 421.5,188.6 425.8,190.8 430.1,191.7 434.3,192.7 436.3,194.5 438.2,196.2 440.7,198.0"/>
<polyline points="395.2,193.8 397.2,198.0 398.6,202.1 400.5,205.4 404.7,206.6 408.9,207.5 413.2,208.8 417.4,209.0 421.6,208.7 425.8,207.7 430.2,207.7 434.6,205.6 436.0,203.4 437.7,201.3 439.8,198.1 441.5,194.9 442.4,192.3 442.9,189.6 442.9,186.9 444.0,184.3 444.1,181.6 444.9,179.0"/>
<polyline points="414.2,191.7 414.2,195.9 415.3,200.2 417.2,204.5 419.5,207.6"/>
<polyline points="410.0,211.8 413.1,210.9 416.3,211.8 420.4,211.0 423.7,212.8 424.8,217.1 422.8,218.8 418.3,218.2 415.5,214.9 414.2,211.8"/>
<polyline points="422.7,219.2 426.7,221.7 431.3,223.1 434.3,225.5"/>
<polyline points="392.0,213.9 395.4,212.9 397.4,209.7 398.3,206.5"/>
<polyline points="438.5,200.2 439.0,202.8 439.3,205.5 439.8,208.1 441.0,210.6 441.2,213.3 441.6,216.0 442.1,218.7 442.4,221.4 443.8,225.5"/>
<polyline points="441.7,194.9 442.5,197.7 443.5,200.3 444.7,202.7 445.0,205.4 445.0,208.1 445.5,210.8 446.2,213.4 447.0,216.0"/>
<polyline points="436.4,211.8 440.7,212.7 445.0,212.0 447.0,210.7"/>
<polyline points="438.5,179.0 439.6,183.2 440.6,187.5 441.7,191.7"/>
<polyline points="428.0,179.0 430.0,183.3 431.9,187.7 434.1,190.7 436.1,194.1 438.5,195.9"/>
<polyline points="462.9,179.0 463.9,183.2 467.1,186.4 470.2,188.6 472.3,190.6 472.8,193.6 473.4,195.9"/>
<polyline points="473.4,195.9 476.8,194.1 479.7,191.6 481.9,187.5 482.6,183.3 481.9,180.1"/>
<polyline points="473.4,187.5 476.4,185.1 479.9,183.6 482.9,182.0 487.3,180.9 490.2,182.4 492.7,185.2 493.4,189.6 492.5,193.7 489.3,194.5 485.1,194.9 482.0,195.0 479.8,195.9"/>
<polyline points="473.4,195.9 471.5,199.3 468.3,202.4 465.3,205.7 462.1,208.8 460.0,211.9 458.8,215.0 457.4,219.1 456.1,223.2 455.5,225.5"/>
<polyline points="483.0,194.9 484.7,196.9 486.2,198.9 489.4,201.0 493.4,203.4 497.8,205.4 498.8,206.5"/>
<polyline points="493.5,193.8 495.4,195.7 496.7,198.0 498.8,201.2"/>
<polyline points="465.0,209.7 469.3,209.5 473.7,211.9 472.2,215.9 470.6,220.3 469.3,223.4 468.2,226.0"/>
<polyline points="488.2,219.2 489.4,223.6 492.5,221.3 495.8,219.5 498.8,218.1"/>
<polyline points="447.0,200.2 450.4,203.3 450.9,207.4 449.4,211.0 447.0,212.8"/>
<polyline points="447.0,215.0 450.3,216.3 453.3,214.9 456.4,213.5 459.7,212.8"/>
<polyline points="449.1,217.1 450.4,221.3 451.2,226.0"/>
<polyline points="447.0,179.0 450.1,181.5 453.4,182.4 456.5,181.1"/>
<polyline points="408.9,38.1 411.9,41.3 412.9,44.5 414.6,48.4 416.4,51.6 420.6,53.9 422.5,55.8 424.6,57.4 427.1,58.4 428.7,60.7 431.1,61.9 433.3,63.3 435.6,64.7 437.6,66.6 438.5,70.8 438.5,73.4 438.7,76.1 437.1,80.3 436.4,83.5 435.4,86.0"/>
<polyline points="412.1,41.2 416.3,40.5 419.0,40.7 421.6,40.0 424.2,39.6 426.8,38.7 430.1,38.6"/>
<polyline points="396.2,37.0 397.0,39.6 396.9,42.3 397.4,45.0 397.8,47.6 397.4,50.2 397.2,52.8 396.2,56.0 394.2,58.3 392.0,59.2"/>
<polyline points="399.4,37.0 399.7,39.6 399.8,42.4 399.2,45.0 398.4,47.6 398.2,50.3 397.3,52.9"/>
<polyline points="396.2,56.0 400.4,57.2 403.7,59.1 406.0,62.3 407.0,65.0 407.9,67.7 409.1,70.6 411.9,74.3 414.8,75.6 417.5,76.8 420.1,77.3 422.6,78.5 426.9,79.4 431.2,81.2 435.3,83.7 438.5,84.6"/>
<polyline points="396.2,58.2 397.6,60.6 398.0,63.6 400.1,67.8 401.4,70.4 403.0,72.9 403.7,77.2 404.4,81.3 403.5,86.0 403.9,88.3 402.8,92.5 402.4,95.2 401.5,97.8 402.3,100.3 402.6,103.0 402.8,105.7 403.2,108.4 404.2,110.9 404.4,113.5 404.5,116.3 403.2,118.8 402.8,121.5 402.6,124.2 402.8,126.9 403.8,129.4 404.7,133.0"/>
<polyline points="394.1,60.3 393.7,62.9 394.3,65.6 393.2,68.1 392.8,70.7 392.0,74.0"/>
<polyline points="392.0,73.0 396.2,73.9 400.5,73.7 402.6,73.0"/>
<polyline points="438.5,76.1 442.8,75.2 447.0,75.6"/>
<polyline points="438.5,79.3 442.9,81.2 447.0,83.5"/>
<polyline points="447.0,39.1 450.1,40.3 453.2,41.5 456.4,42.4 459.8,42.9 462.9,44.0 466.0,44.8 468.7,44.9 471.2,45.3 475.6,43.3 478.7,41.2"/>
<polyline points="447.0,38.1 449.8,38.3 452.7,38.6 455.5,39.0 458.2,39.9 461.1,39.9 463.9,40.4 466.7,40.8 469.6,40.1 472.4,41.0 475.5,40.1 478.7,40.2"/>
<polyline points="478.7,39.1 478.5,42.3 477.5,45.5 476.9,48.6 476.5,51.8 476.4,55.0 475.9,58.2 476.4,60.8 476.9,63.3 477.7,67.7"/>
<polyline points="480.8,39.1 481.1,42.3 481.1,45.6 480.7,48.7 479.4,51.9 479.9,55.1 480.9,58.2 481.4,60.8 482.1,63.4 480.8,67.7"/>
<polyline points="484.0,39.1 483.7,42.3 484.0,45.5 484.0,48.7 483.2,51.8 482.9,55.0 483.4,58.3 482.5,60.8 481.9,63.4"/>
<polyline points="447.0,73.0 451.3,73.8 455.5,76.2 458.2,76.5 460.8,77.0 463.4,76.8 466.0,76.8 468.7,75.9 471.3,75.1 475.7,73.1 477.7,69.8 478.7,66.6"/>
<polyline points="477.7,70.8 481.9,72.3 486.1,71.9 489.5,68.8 490.8,65.7 491.5,62.5 493.6,60.4 495.9,58.3 496.7,55.0"/>
<polyline points="486.1,71.9 485.4,74.5 485.4,77.2 485.2,81.4 486.1,86.0"/>
<polyline points="487.2,73.0 489.5,74.3 491.7,75.8 494.4,79.4 496.8,83.4 497.8,86.0"/>
<polyline points="487.2,45.5 491.5,47.4 496.0,49.4 498.8,52.9"/>
<polyline points="489.3,52.9 493.7,51.4 496.7,54.1 498.8,53.9"/>
<polyline points="491.4,43.3 492.1,45.9 492.6,48.6 492.8,51.3 493.1,54.0 494.4,58.2 493.5,62.4"/>
<polyline points="495.7,41.2 496.4,43.8 496.3,46.6 497.5,49.1 497.8,51.8"/>
<polyline points="487.2,58.2 489.3,61.4 492.5,63.5 495.7,62.4"/>
<polyline points="455.5,74.0 457.8,77.2 458.3,81.5 459.7,86.0"/>
<polyline points="457.6,79.3 460.7,79.3 460.8,82.3 458.3,82.6 457.6,79.3"/>
<polyline points="447.0,75.1 449.9,77.3 452.5,81.4 453.3,86.0"/>
<polyline points="404.7,86.1 406.7,88.3 408.7,90.4 410.6,92.9 412.3,95.6 412.8,98.2 412.8,101.0 414.1,105.2 414.8,107.8 415.2,110.4 417.4,114.7"/>
<polyline points="392.0,89.3 394.0,92.6 396.4,94.4 398.6,96.5 400.8,99.7 402.6,103.0"/>
<polyline points="393.1,94.6 394.2,97.8 395.2,95.6"/>
<polyline points="392.0,112.6 396.2,112.7 400.3,114.0 403.5,115.8 405.6,118.0 407.5,120.2 410.0,123.1 413.2,124.1 417.4,125.3 421.7,126.2 425.7,128.6 430.1,130.6 434.3,133.0"/>
<polyline points="405.8,113.6 408.8,114.4 412.0,114.0 415.3,114.7 417.2,115.9 419.5,117.8 423.7,119.0 428.0,117.9 431.1,116.8"/>
<polyline points="417.4,114.7 418.7,118.8 419.8,123.0 420.4,127.4 421.6,131.6"/>
<polyline points="417.4,114.7 421.6,114.0 425.9,114.4 428.9,116.0 431.0,117.0 434.1,119.1 436.5,120.9 438.8,124.0 440.5,127.5 442.8,130.5"/>
<polyline points="432.2,84.0 436.5,85.9 440.7,87.3 445.0,86.3 447.0,85.1"/>
<polyline points="447.0,90.3 442.7,91.6 438.4,90.7 434.2,89.2 431.9,91.3 431.6,94.0 430.7,96.6 430.8,99.4 429.9,102.0 429.6,104.7 428.9,107.3 428.9,110.0 428.7,112.5 429.5,115.7 431.1,116.8"/>
<polyline points="431.1,102.0 434.4,100.0 436.6,98.6 438.6,96.8 441.7,93.5 444.8,92.6 447.0,93.5"/>
<polyline points="431.1,118.9 434.4,116.9 438.5,114.6 442.8,113.4 447.0,112.6"/>
<polyline points="435.4,114.7 436.3,119.0 438.6,122.0 441.6,123.8 444.8,122.8 447.0,122.1"/>
<polyline points="442.8,110.4 444.8,107.2 447.0,105.2"/>
<polyline points="404.7,118.9 407.7,122.1 408.8,126.3 407.9,130.5 406.8,133.0"/>
<polyline points="408.9,126.3 413.1,128.7 417.4,129.3 421.6,130.5"/>
<polyline points="447.0,97.8 451.2,96.6 455.5,95.8 459.7,95.8 463.9,94.5 468.3,93.8 472.3,92.1 476.6,91.4 480.9,90.6 485.2,89.6 489.2,87.9 493.6,87.5 497.8,86.1"/>
<polyline points="447.0,102.0 449.1,100.4 451.4,99.2 455.5,96.5 459.7,96.8 463.9,97.9 468.3,99.2 470.8,98.2 473.3,97.7 475.9,95.9 478.7,94.8 482.9,93.1 486.1,92.5"/>
<polyline points="457.6,84.0 458.3,88.3 460.0,92.4 460.8,95.6"/>
<polyline points="453.3,84.0 451.4,88.4 447.8,91.1 447.0,92.5"/>
<polyline points="467.1,98.8 466.6,102.0 465.8,105.2 465.6,108.4 465.2,111.5 464.6,114.7 463.5,117.7 463.7,120.5 462.5,123.0 462.0,125.7 461.6,128.4 460.8,133.0"/>
<polyline points="467.1,98.8 469.9,100.2 472.3,102.2 474.9,103.9 477.7,105.3 480.4,105.5 483.0,106.3 485.7,106.1 488.2,105.3 492.6,104.9 496.6,106.0 498.8,105.2"/>
<polyline points="466.0,115.7 470.4,113.7 474.3,111.1 478.5,109.0 483.0,107.2 487.2,106.0 491.4,106.2 495.7,106.2"/>
<polyline points="466.0,115.7 468.5,119.8 470.3,124.3 474.5,125.5 478.7,124.0 483.0,123.2 486.1,125.3 486.9,128.5 488.2,133.0"/>
<polyline points="495.7,106.2 496.1,108.9 496.6,111.5 496.6,114.2 496.4,116.7 496.0,121.2 493.7,124.4 490.2,127.2 487.2,130.5"/>
<polyline points="483.0,93.5 483.7,97.8 484.4,102.1 483.0,106.2"/>
<polyline points="487.2,92.5 489.0,96.9 491.3,100.9 493.5,105.2"/>
<polyline points="491.4,86.1 492.2,90.4 493.3,94.6 492.6,98.8 491.4,103.0"/>
<polyline points="448.0,112.0 451.2,111.2 454.0,113.7 456.8,113.1 458.6,116.0 454.9,118.2 451.0,116.5"/>
<polyline points="447.0,126.3 451.3,127.3 455.4,129.9 459.7,130.5 462.9,133.0"/>
<polyline points="468.2,128.4 472.5,130.3 476.6,133.0"/>
<polyline points="447.0,86.1 451.3,88.6 455.9,87.4 457.6,84.0"/>
<polyline points="462.9,84.0 465.7,84.8 468.2,85.8 471.3,86.9 474.5,87.1 478.7,88.2 482.0,87.3 484.0,84.0"/>
<polyline points="488.6,55.1 488.7,57.6 486.4,58.5 488.1,60.4"/>
<polyline points="486.9,62.2 484.8,63.5 483.1,65.3"/>
<polyline points="489.1,63.6 487.0,62.3 487.6,64.7 488.6,67.0"/>
<polyline points="490.6,45.7 492.0,47.7 494.0,49.3 495.0,51.6"/>
<polyline points="493.8,53.5 493.2,55.9 491.5,57.7 489.0,57.6"/>
<polyline points="486.0,53.5 484.3,55.3 482.4,57.0 482.2,59.5"/>
<polyline points="496.1,62.8 498.6,62.5 497.2,64.6 499.7,64.9"/>
<polyline points="491.0,53.9 490.0,56.2 488.9,58.4 490.1,60.6"/>
<polyline points="469.8,206.3 467.4,205.5 465.2,204.3 462.9,205.2"/>
<polyline points="464.1,195.1 461.7,194.4 463.1,192.4"/>
<polyline points="466.1,206.0 468.0,204.3 469.8,202.6 469.1,200.3"/>
<polyline points="470.9,203.8 469.3,201.9 467.0,200.9 467.5,198.5"/>
<polyline points="462.3,210.1 460.4,211.7 458.5,213.4"/>
<polyline points="459.4,208.2 457.2,207.1 455.0,206.0 453.4,204.0"/>
<polyline points="457.8,197.0 459.3,199.0 461.8,199.5 463.3,201.5"/>
<polyline points="455.5,208.3 456.8,206.2 459.3,206.7 460.8,204.6"/>
<polyline points="466.9,199.3 466.0,201.6 463.8,202.9 461.5,201.9"/>
<polyline points="468.2,205.1 470.7,205.0 473.1,205.7 473.1,208.2"/>
<polyline points="427.1,181.1 428.8,182.8 428.9,185.3 431.1,184.3"/>
<polyline points="424.5,181.5 422.0,181.2 419.8,182.4 417.6,183.6"/>
<polyline points="421.5,179.6 423.4,177.9 421.7,176.1 419.2,176.0"/>
<polyline points="423.8,184.0 426.0,185.3 428.1,183.9 429.6,182.0"/>
<polyline points="418.8,183.0 418.7,180.5 417.1,178.6 415.6,176.6"/>
<polyline points="423.7,181.7 422.9,179.3 420.4,179.2 418.7,177.3"/>
</g>
<text x="93.3" y="47.9" font-size="6.5" font-weight="bold" text-anchor="middle">3</text>
<text x="145.9" y="122.3" font-size="6.5" font-weight="bold" text-anchor="middle">15</text>
<text x="150.1" y="156.9" font-size="6.5" font-weight="bold" text-anchor="middle">14</text>
<text x="127.9" y="163.1" font-size="6.5" font-weight="bold" text-anchor="middle">17</text>
<text x="189.5" y="147.9" font-size="6.5" font-weight="bold" text-anchor="middle">11</text>
<text x="242.2" y="163.1" font-size="6.5" font-weight="bold" text-anchor="middle">12</text>
<text x="47.6" y="116.0" font-size="6.5" font-weight="bold" text-anchor="middle">20</text>
<text x="313.1" y="200.7" font-size="6.5" font-weight="bold" text-anchor="middle">23</text>
<text x="361.5" y="208.3" font-size="6.5" font-weight="bold" text-anchor="middle">21</text>
<text x="468.2" y="199.3" font-size="6.5" font-weight="bold" text-anchor="middle">15</text>
<text x="288.2" y="158.2" font-size="6.5" font-weight="bold" text-anchor="middle">31</text>
<text x="326.9" y="154.0" font-size="6.5" font-weight="bold" text-anchor="middle">33</text>
<text x="314.5" y="133.3" font-size="6.5" font-weight="bold" text-anchor="middle">33</text>
<rect x="41" y="35.5" width="214.5" height="190.5" fill="none" stroke="#000" stroke-width="2.2"/>
<rect x="284.5" y="37.5" width="215" height="189.5" fill="none" stroke="#000" stroke-width="2.2"/>
<line x1="56.5" y1="285" x2="56.5" y2="470.5" stroke="#000" stroke-width="2.3"/>
<line x1="51" y1="469.5" x2="247" y2="469.5" stroke="#000" stroke-width="2.3"/>
<line x1="52.0" y1="469.5" x2="56.5" y2="469.5" stroke="#000" stroke-width="1.8"/>
<text x="46.8" y="477.3" font-size="20.3" text-anchor="end" font-weight="normal" stroke="#000" stroke-width="0.3" >0</text>
<line x1="52.0" y1="428.5" x2="56.5" y2="428.5" stroke="#000" stroke-width="1.8"/>
<text x="46.8" y="436.3" font-size="20.3" text-anchor="end" font-weight="normal" stroke="#000" stroke-width="0.3" >2</text>
<line x1="52.0" y1="387.5" x2="56.5" y2="387.5" stroke="#000" stroke-width="1.8"/>
<text x="46.8" y="395.3" font-size="20.3" text-anchor="end" font-weight="normal" stroke="#000" stroke-width="0.3" >4</text>
<line x1="52.0" y1="346.5" x2="56.5" y2="346.5" stroke="#000" stroke-width="1.8"/>
<text x="46.8" y="354.3" font-size="20.3" text-anchor="end" font-weight="normal" stroke="#000" stroke-width="0.3" >6</text>
<line x1="52.0" y1="305.5" x2="56.5" y2="305.5" stroke="#000" stroke-width="1.8"/>
<text x="46.8" y="313.3" font-size="20.3" text-anchor="end" font-weight="normal" stroke="#000" stroke-width="0.3" >8</text>
<line x1="56.5" y1="469.5" x2="56.5" y2="473.0" stroke="#000" stroke-width="1.8"/>
<text x="56.05" y="492.5" font-size="20.3" text-anchor="middle" font-weight="normal" stroke="#000" stroke-width="0.3" >0</text>
<line x1="125.5" y1="469.5" x2="125.5" y2="473.0" stroke="#000" stroke-width="1.8"/>
<text x="128.15" y="492.5" font-size="20.3" text-anchor="middle" font-weight="normal" stroke="#000" stroke-width="0.3" >50</text>
<line x1="195" y1="469.5" x2="195" y2="473.0" stroke="#000" stroke-width="1.8"/>
<text x="195.45659999999998" y="492.5" font-size="20.3" text-anchor="start" font-weight="normal" stroke="#000" stroke-width="0.3" >00</text>
<path d="M189.87 492.50V478.20M190.37 478.60Q188.37 481.40 185.47 482.30" fill="none" stroke="#000" stroke-width="1.95"/>
<text transform="translate(18.9,384.7) rotate(-90)" font-size="20.8" text-anchor="middle" stroke="#000" stroke-width="0.3">velocity (µm/min)</text>
<line x1="324" y1="286" x2="324" y2="471" stroke="#000" stroke-width="2.3"/>
<line x1="319.5" y1="470" x2="512.6" y2="470" stroke="#000" stroke-width="2.3"/>
<line x1="319.5" y1="470" x2="324" y2="470" stroke="#000" stroke-width="1.8"/>
<text x="315.8" y="478" font-size="20.3" text-anchor="end" font-weight="normal" stroke="#000" stroke-width="0.3" >0</text>
<line x1="319.5" y1="388.8" x2="324" y2="388.8" stroke="#000" stroke-width="1.8"/>
<text x="315.8" y="396.8" font-size="20.3" text-anchor="end" font-weight="normal" stroke="#000" stroke-width="0.3" >40</text>
<line x1="319.5" y1="307.2" x2="324" y2="307.2" stroke="#000" stroke-width="1.8"/>
<text x="315.8" y="315.2" font-size="20.3" text-anchor="end" font-weight="normal" stroke="#000" stroke-width="0.3" >80</text>
<line x1="324" y1="470" x2="324" y2="473.5" stroke="#000" stroke-width="1.8"/>
<text x="324.65" y="493" font-size="20.3" text-anchor="middle" font-weight="normal" stroke="#000" stroke-width="0.3" >0</text>
<line x1="392.5" y1="470" x2="392.5" y2="473.5" stroke="#000" stroke-width="1.8"/>
<text x="394.45" y="493" font-size="20.3" text-anchor="middle" font-weight="normal" stroke="#000" stroke-width="0.3" >50</text>
<line x1="463" y1="470" x2="463" y2="473.5" stroke="#000" stroke-width="1.8"/>
<text x="462.0066" y="493" font-size="20.3" text-anchor="start" font-weight="normal" stroke="#000" stroke-width="0.3" >00</text>
<path d="M456.42 493.00V478.70M456.92 479.10Q454.92 481.90 452.02 482.80" fill="none" stroke="#000" stroke-width="1.95"/>
<text transform="translate(279.6,383.75) rotate(-90)" font-size="20.8" text-anchor="middle" stroke="#000" stroke-width="0.3">cells locomoting (%)</text>
<line x1="52" y1="554" x2="52" y2="738.2" stroke="#000" stroke-width="2.3"/>
<line x1="49" y1="737.2" x2="242.5" y2="737.2" stroke="#000" stroke-width="2.3"/>
<line x1="47.5" y1="737.2" x2="52" y2="737.2" stroke="#000" stroke-width="1.8"/>
<text x="46.3" y="743.7" font-size="20.3" text-anchor="end" font-weight="normal" stroke="#000" stroke-width="0.3" >0</text>
<line x1="47.5" y1="699.8" x2="52" y2="699.8" stroke="#000" stroke-width="1.8"/>
<text x="46.3" y="706.3" font-size="20.3" text-anchor="end" font-weight="normal" stroke="#000" stroke-width="0.3" >2</text>
<line x1="47.5" y1="662.6" x2="52" y2="662.6" stroke="#000" stroke-width="1.8"/>
<text x="46.3" y="669.1" font-size="20.3" text-anchor="end" font-weight="normal" stroke="#000" stroke-width="0.3" >4</text>
<line x1="47.5" y1="625.6" x2="52" y2="625.6" stroke="#000" stroke-width="1.8"/>
<text x="46.3" y="632.1" font-size="20.3" text-anchor="end" font-weight="normal" stroke="#000" stroke-width="0.3" >6</text>
<line x1="47.5" y1="588.2" x2="52" y2="588.2" stroke="#000" stroke-width="1.8"/>
<text x="46.3" y="594.7" font-size="20.3" text-anchor="end" font-weight="normal" stroke="#000" stroke-width="0.3" >8</text>
<line x1="52" y1="737.2" x2="52" y2="740.7" stroke="#000" stroke-width="1.8"/>
<text x="53.7" y="761.3" font-size="20.3" text-anchor="middle" font-weight="normal" stroke="#000" stroke-width="0.3" >0</text>
<line x1="144" y1="737.2" x2="144" y2="740.7" stroke="#000" stroke-width="1.8"/>
<text x="141.55" y="761.3" font-size="20.3" text-anchor="middle" font-weight="normal" stroke="#000" stroke-width="0.3" >50</text>
<line x1="236" y1="737.2" x2="236" y2="740.7" stroke="#000" stroke-width="1.8"/>
<text x="230.95659999999998" y="761.3" font-size="20.3" text-anchor="start" font-weight="normal" stroke="#000" stroke-width="0.3" >00</text>
<path d="M225.37 761.30V747.00M225.87 747.40Q223.87 750.20 220.97 751.10" fill="none" stroke="#000" stroke-width="1.95"/>
<text transform="translate(17.9,652.6) rotate(-90)" font-size="20.8" text-anchor="middle" stroke="#000" stroke-width="0.3">velocity (µm/min)</text>
<line x1="324" y1="552" x2="324" y2="738.5" stroke="#000" stroke-width="2.3"/>
<line x1="320" y1="737.5" x2="514.6" y2="737.5" stroke="#000" stroke-width="2.3"/>
<line x1="319.5" y1="737.5" x2="324" y2="737.5" stroke="#000" stroke-width="1.8"/>
<text x="317.3" y="743.5" font-size="20.3" text-anchor="end" font-weight="normal" stroke="#000" stroke-width="0.3" >0</text>
<line x1="319.5" y1="648.5" x2="324" y2="648.5" stroke="#000" stroke-width="1.8"/>
<text x="317.3" y="654.5" font-size="20.3" text-anchor="end" font-weight="normal" stroke="#000" stroke-width="0.3" >40</text>
<line x1="319.5" y1="561.2" x2="324" y2="561.2" stroke="#000" stroke-width="1.8"/>
<text x="317.3" y="567.2" font-size="20.3" text-anchor="end" font-weight="normal" stroke="#000" stroke-width="0.3" >80</text>
<line x1="324" y1="737.5" x2="324" y2="741.0" stroke="#000" stroke-width="1.8"/>
<text x="322.6" y="758.5" font-size="20.3" text-anchor="middle" font-weight="normal" stroke="#000" stroke-width="0.3" >0</text>
<line x1="415" y1="737.5" x2="415" y2="741.0" stroke="#000" stroke-width="1.8"/>
<text x="416.1" y="758.5" font-size="20.3" text-anchor="middle" font-weight="normal" stroke="#000" stroke-width="0.3" >50</text>
<line x1="507.7" y1="737.5" x2="507.7" y2="741.0" stroke="#000" stroke-width="1.8"/>
<text x="496.6566" y="758.5" font-size="20.3" text-anchor="start" font-weight="normal" stroke="#000" stroke-width="0.3" >00</text>
<path d="M491.07 758.50V744.20M491.57 744.60Q489.57 747.40 486.67 748.30" fill="none" stroke="#000" stroke-width="1.95"/>
<text transform="translate(282,646) rotate(-90)" font-size="20.8" text-anchor="middle" stroke="#000" stroke-width="0.3">cells locomoting (%)</text>
<rect x="133.7" y="375.2" width="1.6" height="1.6" fill="#666"/>
<rect x="212.1" y="377.2" width="1.6" height="1.6" fill="#666"/>
<rect x="142.9" y="374.7" width="1.6" height="1.6" fill="#666"/>
<rect x="89.2" y="376.2" width="1.6" height="1.6" fill="#666"/>
<rect x="163.2" y="370.4" width="1.6" height="1.6" fill="#666"/>
<rect x="74.1" y="380.5" width="1.6" height="1.6" fill="#666"/>
<rect x="73.5" y="370.1" width="1.6" height="1.6" fill="#666"/>
<rect x="173.7" y="385.8" width="1.6" height="1.6" fill="#666"/>
<rect x="221.7" y="366.9" width="1.6" height="1.6" fill="#666"/>
<rect x="167.2" y="374.1" width="1.6" height="1.6" fill="#666"/>
<rect x="84.6" y="386.4" width="1.6" height="1.6" fill="#666"/>
<rect x="146.3" y="385.5" width="1.6" height="1.6" fill="#666"/>
<rect x="90.1" y="381.7" width="1.6" height="1.6" fill="#666"/>
<rect x="63.5" y="377.2" width="1.6" height="1.6" fill="#666"/>
<rect x="131.7" y="369.4" width="1.6" height="1.6" fill="#666"/>
<rect x="144.7" y="373.6" width="1.6" height="1.6" fill="#666"/>
<rect x="141.5" y="373.1" width="1.6" height="1.6" fill="#666"/>
<rect x="134.5" y="381.0" width="1.6" height="1.6" fill="#666"/>
<rect x="224.3" y="366.3" width="1.6" height="1.6" fill="#666"/>
<rect x="198.1" y="372.2" width="1.6" height="1.6" fill="#666"/>
<rect x="110.9" y="382.0" width="1.6" height="1.6" fill="#666"/>
<rect x="106.5" y="385.3" width="1.6" height="1.6" fill="#666"/>
<rect x="185.8" y="378.5" width="1.6" height="1.6" fill="#666"/>
<rect x="199.2" y="378.8" width="1.6" height="1.6" fill="#666"/>
<rect x="217.7" y="369.3" width="1.6" height="1.6" fill="#666"/>
<rect x="58.6" y="382.4" width="1.6" height="1.6" fill="#666"/>
<rect x="209.8" y="377.1" width="1.6" height="1.6" fill="#666"/>
<rect x="221.4" y="378.6" width="1.6" height="1.6" fill="#666"/>
<rect x="70.6" y="373.8" width="1.6" height="1.6" fill="#666"/>
<rect x="187.9" y="381.2" width="1.6" height="1.6" fill="#666"/>
<rect x="73.0" y="379.9" width="1.6" height="1.6" fill="#666"/>
<rect x="218.7" y="371.2" width="1.6" height="1.6" fill="#666"/>
<rect x="78.1" y="381.6" width="1.6" height="1.6" fill="#666"/>
<rect x="75.3" y="385.5" width="1.6" height="1.6" fill="#666"/>
<rect x="190.9" y="383.1" width="1.6" height="1.6" fill="#666"/>
<rect x="151.4" y="377.5" width="1.6" height="1.6" fill="#666"/>
<rect x="90.2" y="371.7" width="1.6" height="1.6" fill="#666"/>
<rect x="80.2" y="373.5" width="1.6" height="1.6" fill="#666"/>
<rect x="77.8" y="378.1" width="1.6" height="1.6" fill="#666"/>
<rect x="93.8" y="381.2" width="1.6" height="1.6" fill="#666"/>
<rect x="219.8" y="370.2" width="1.6" height="1.6" fill="#666"/>
<rect x="109.0" y="368.6" width="1.6" height="1.6" fill="#666"/>
<rect x="93.5" y="378.6" width="1.6" height="1.6" fill="#666"/>
<rect x="200.5" y="373.5" width="1.6" height="1.6" fill="#666"/>
<rect x="75.1" y="366.4" width="1.6" height="1.6" fill="#666"/>
<rect x="93.9" y="381.4" width="1.6" height="1.6" fill="#666"/>
<rect x="186.9" y="380.0" width="1.6" height="1.6" fill="#666"/>
<rect x="107.7" y="385.2" width="1.6" height="1.6" fill="#666"/>
<rect x="70.5" y="305.2" width="2.0" height="2.0" fill="#000"/>
<rect x="95.9" y="304.4" width="2.0" height="2.0" fill="#000"/>
<rect x="117.3" y="310.5" width="2.0" height="2.0" fill="#000"/>
<rect x="214.9" y="309.3" width="2.0" height="2.0" fill="#000"/>
<rect x="151.0" y="325.9" width="2.0" height="2.0" fill="#000"/>
<rect x="206.5" y="325.2" width="2.0" height="2.0" fill="#000"/>
<rect x="178.4" y="309.6" width="2.0" height="2.0" fill="#000"/>
<rect x="202.1" y="304.4" width="2.0" height="2.0" fill="#000"/>
<rect x="125.5" y="324.8" width="2.0" height="2.0" fill="#000"/>
<rect x="61.9" y="314.7" width="2.0" height="2.0" fill="#000"/>
<rect x="98.2" y="295.3" width="2.0" height="2.0" fill="#000"/>
<rect x="104.3" y="321.9" width="2.0" height="2.0" fill="#000"/>
<rect x="175.2" y="326.3" width="2.0" height="2.0" fill="#000"/>
<rect x="93.5" y="306.2" width="2.0" height="2.0" fill="#000"/>
<rect x="197.2" y="303.9" width="2.0" height="2.0" fill="#000"/>
<rect x="102.1" y="328.8" width="2.0" height="2.0" fill="#000"/>
<rect x="100.2" y="310.8" width="2.0" height="2.0" fill="#000"/>
<rect x="65.5" y="321.9" width="2.0" height="2.0" fill="#000"/>
<rect x="116.8" y="305.6" width="2.0" height="2.0" fill="#000"/>
<rect x="77.4" y="314.3" width="2.0" height="2.0" fill="#000"/>
<rect x="203.6" y="288.9" width="2.0" height="2.0" fill="#000"/>
<rect x="170.4" y="305.1" width="2.0" height="2.0" fill="#000"/>
<rect x="78.8" y="327.7" width="2.0" height="2.0" fill="#000"/>
<rect x="58.5" y="291.8" width="2.0" height="2.0" fill="#000"/>
<rect x="215.5" y="328.2" width="2.0" height="2.0" fill="#000"/>
<rect x="161.2" y="309.3" width="2.0" height="2.0" fill="#000"/>
<rect x="176.9" y="316.0" width="2.0" height="2.0" fill="#000"/>
<rect x="221.6" y="326.0" width="2.0" height="2.0" fill="#000"/>
<rect x="146.3" y="298.9" width="2.0" height="2.0" fill="#000"/>
<rect x="205.1" y="298.9" width="2.0" height="2.0" fill="#000"/>
<rect x="172.5" y="296.6" width="2.0" height="2.0" fill="#000"/>
<rect x="114.0" y="301.0" width="2.0" height="2.0" fill="#000"/>
<rect x="205.2" y="312.9" width="2.0" height="2.0" fill="#000"/>
<rect x="199.0" y="305.6" width="2.0" height="2.0" fill="#000"/>
<rect x="159.4" y="313.4" width="2.0" height="2.0" fill="#000"/>
<rect x="152.3" y="304.1" width="2.0" height="2.0" fill="#000"/>
<rect x="68.8" y="302.9" width="2.0" height="2.0" fill="#000"/>
<rect x="220.6" y="293.0" width="2.0" height="2.0" fill="#000"/>
<rect x="120.1" y="299.0" width="2.0" height="2.0" fill="#000"/>
<rect x="152.1" y="311.0" width="2.0" height="2.0" fill="#000"/>
<rect x="194.8" y="325.7" width="2.0" height="2.0" fill="#000"/>
<rect x="180.2" y="327.9" width="2.0" height="2.0" fill="#000"/>
<rect x="155.4" y="309.4" width="2.0" height="2.0" fill="#000"/>
<rect x="93.8" y="300.5" width="2.0" height="2.0" fill="#000"/>
<rect x="138.1" y="303.9" width="2.0" height="2.0" fill="#000"/>
<rect x="208.5" y="318.6" width="2.0" height="2.0" fill="#000"/>
<rect x="57.4" y="316.8" width="2.0" height="2.0" fill="#000"/>
<rect x="168.2" y="320.8" width="2.0" height="2.0" fill="#000"/>
<rect x="83.7" y="292.0" width="2.0" height="2.0" fill="#000"/>
<rect x="128.9" y="315.4" width="2.0" height="2.0" fill="#000"/>
<rect x="88.5" y="311.4" width="2.0" height="2.0" fill="#000"/>
<rect x="189.5" y="291.6" width="2.0" height="2.0" fill="#000"/>
<circle cx="59.3" cy="354.2" r="2.8" fill="none" stroke="#000" stroke-width="1.4"/>
<path d="M60.0 347.4L63.5 353.5L56.5 353.5Z" fill="#fff" stroke="#222" stroke-width="1.0"/>
<path d="M59.5 355.4L62.8 361.0L56.3 361.0Z" fill="#fff" stroke="#555" stroke-width="0.9"/>
<circle cx="60.7" cy="348.2" r="2.8" fill="none" stroke="#000" stroke-width="1.4"/>
<path d="M61.3 362.2L64.8 368.3L57.8 368.3Z" fill="#fff" stroke="#222" stroke-width="1.0"/>
<path d="M60.9 354.2L64.2 359.8L57.7 359.8Z" fill="#fff" stroke="#555" stroke-width="0.9"/>
<circle cx="62.0" cy="346.4" r="2.8" fill="none" stroke="#000" stroke-width="1.4"/>
<path d="M62.7 358.9L66.2 365.0L59.2 365.0Z" fill="#fff" stroke="#222" stroke-width="1.0"/>
<path d="M62.3 350.9L65.6 356.6L59.1 356.6Z" fill="#fff" stroke="#555" stroke-width="0.9"/>
<circle cx="63.4" cy="351.2" r="2.8" fill="none" stroke="#000" stroke-width="1.4"/>
<path d="M64.1 349.2L67.6 355.3L60.6 355.3Z" fill="#fff" stroke="#222" stroke-width="1.0"/>
<path d="M63.7 350.1L67.0 355.7L60.5 355.7Z" fill="#fff" stroke="#555" stroke-width="0.9"/>
<circle cx="64.8" cy="350.6" r="2.8" fill="none" stroke="#000" stroke-width="1.4"/>
<path d="M65.5 348.4L69.0 354.5L62.0 354.5Z" fill="#fff" stroke="#222" stroke-width="1.0"/>
<path d="M65.1 359.8L68.3 365.5L61.8 365.5Z" fill="#fff" stroke="#555" stroke-width="0.9"/>
<circle cx="66.2" cy="347.2" r="2.8" fill="none" stroke="#000" stroke-width="1.4"/>
<path d="M66.9 356.7L70.4 362.8L63.4 362.8Z" fill="#fff" stroke="#222" stroke-width="1.0"/>
<path d="M66.5 354.2L69.7 359.9L63.2 359.9Z" fill="#fff" stroke="#555" stroke-width="0.9"/>
<circle cx="67.6" cy="344.0" r="2.8" fill="none" stroke="#000" stroke-width="1.4"/>
<path d="M68.3 364.9L71.8 371.0L64.8 371.0Z" fill="#fff" stroke="#222" stroke-width="1.0"/>
<path d="M67.9 356.1L71.1 361.7L64.6 361.7Z" fill="#fff" stroke="#555" stroke-width="0.9"/>
<circle cx="69.0" cy="349.7" r="2.8" fill="none" stroke="#000" stroke-width="1.4"/>
<path d="M69.7 341.5L73.2 347.5L66.2 347.5Z" fill="#fff" stroke="#222" stroke-width="1.0"/>
<path d="M69.2 352.6L72.5 358.2L66.0 358.2Z" fill="#fff" stroke="#555" stroke-width="0.9"/>
<circle cx="70.3" cy="344.0" r="2.8" fill="none" stroke="#000" stroke-width="1.4"/>
<path d="M71.0 349.9L74.5 356.0L67.5 356.0Z" fill="#fff" stroke="#222" stroke-width="1.0"/>
<path d="M70.6 357.9L73.9 363.5L67.4 363.5Z" fill="#fff" stroke="#555" stroke-width="0.9"/>
<circle cx="71.7" cy="351.7" r="2.8" fill="none" stroke="#000" stroke-width="1.4"/>
<path d="M72.4 351.8L75.9 357.9L68.9 357.9Z" fill="#fff" stroke="#222" stroke-width="1.0"/>
<path d="M72.0 355.2L75.3 360.9L68.8 360.9Z" fill="#fff" stroke="#555" stroke-width="0.9"/>
<circle cx="73.1" cy="347.2" r="2.8" fill="none" stroke="#000" stroke-width="1.4"/>
<path d="M73.8 347.6L77.3 353.7L70.3 353.7Z" fill="#fff" stroke="#222" stroke-width="1.0"/>
<path d="M73.4 346.0L76.6 351.7L70.1 351.7Z" fill="#fff" stroke="#555" stroke-width="0.9"/>
<circle cx="74.5" cy="349.0" r="2.8" fill="none" stroke="#000" stroke-width="1.4"/>
<path d="M75.2 351.8L78.7 357.9L71.7 357.9Z" fill="#fff" stroke="#222" stroke-width="1.0"/>
<path d="M74.8 351.9L78.0 357.6L71.5 357.6Z" fill="#fff" stroke="#555" stroke-width="0.9"/>
<circle cx="75.9" cy="344.7" r="2.8" fill="none" stroke="#000" stroke-width="1.4"/>
<path d="M76.6 349.9L80.1 356.0L73.1 356.0Z" fill="#fff" stroke="#222" stroke-width="1.0"/>
<path d="M76.2 360.4L79.4 366.0L72.9 366.0Z" fill="#fff" stroke="#555" stroke-width="0.9"/>
<circle cx="77.3" cy="348.3" r="2.8" fill="none" stroke="#000" stroke-width="1.4"/>
<path d="M78.0 357.5L81.5 363.6L74.5 363.6Z" fill="#fff" stroke="#222" stroke-width="1.0"/>
<path d="M77.6 361.2L80.8 366.8L74.3 366.8Z" fill="#fff" stroke="#555" stroke-width="0.9"/>
<circle cx="78.7" cy="344.2" r="2.8" fill="none" stroke="#000" stroke-width="1.4"/>
<path d="M79.4 354.2L82.9 360.3L75.9 360.3Z" fill="#fff" stroke="#222" stroke-width="1.0"/>
<path d="M78.9 352.8L82.2 358.4L75.7 358.4Z" fill="#fff" stroke="#555" stroke-width="0.9"/>
<circle cx="80.0" cy="345.8" r="2.8" fill="none" stroke="#000" stroke-width="1.4"/>
<path d="M80.7 351.7L84.2 357.8L77.2 357.8Z" fill="#fff" stroke="#222" stroke-width="1.0"/>
<path d="M80.3 353.8L83.6 359.4L77.1 359.4Z" fill="#fff" stroke="#555" stroke-width="0.9"/>
<circle cx="81.4" cy="356.6" r="2.8" fill="none" stroke="#000" stroke-width="1.4"/>
<path d="M82.1 350.6L85.6 356.7L78.6 356.7Z" fill="#fff" stroke="#222" stroke-width="1.0"/>
<path d="M81.7 352.8L85.0 358.5L78.5 358.5Z" fill="#fff" stroke="#555" stroke-width="0.9"/>
<circle cx="82.8" cy="347.2" r="2.8" fill="none" stroke="#000" stroke-width="1.4"/>
<path d="M83.5 356.7L87.0 362.8L80.0 362.8Z" fill="#fff" stroke="#222" stroke-width="1.0"/>
<path d="M83.1 348.6L86.3 354.3L79.8 354.3Z" fill="#fff" stroke="#555" stroke-width="0.9"/>
<circle cx="84.2" cy="355.8" r="2.8" fill="none" stroke="#000" stroke-width="1.4"/>
<path d="M84.9 353.0L88.4 359.1L81.4 359.1Z" fill="#fff" stroke="#222" stroke-width="1.0"/>
<path d="M84.5 354.2L87.7 359.9L81.2 359.9Z" fill="#fff" stroke="#555" stroke-width="0.9"/>
<circle cx="85.6" cy="354.3" r="2.8" fill="none" stroke="#000" stroke-width="1.4"/>
<path d="M86.3 349.1L89.8 355.1L82.8 355.1Z" fill="#fff" stroke="#222" stroke-width="1.0"/>
<path d="M85.9 363.9L89.1 369.5L82.6 369.5Z" fill="#fff" stroke="#555" stroke-width="0.9"/>
<circle cx="87.0" cy="342.1" r="2.8" fill="none" stroke="#000" stroke-width="1.4"/>
<path d="M87.7 345.6L91.2 351.7L84.2 351.7Z" fill="#fff" stroke="#222" stroke-width="1.0"/>
<path d="M87.2 354.8L90.5 360.4L84.0 360.4Z" fill="#fff" stroke="#555" stroke-width="0.9"/>
<circle cx="88.4" cy="352.3" r="2.8" fill="none" stroke="#000" stroke-width="1.4"/>
<path d="M89.0 359.2L92.5 365.3L85.5 365.3Z" fill="#fff" stroke="#222" stroke-width="1.0"/>
<path d="M88.6 352.6L91.9 358.2L85.4 358.2Z" fill="#fff" stroke="#555" stroke-width="0.9"/>
<circle cx="89.7" cy="346.8" r="2.8" fill="none" stroke="#000" stroke-width="1.4"/>
<path d="M90.4 354.8L93.9 360.9L86.9 360.9Z" fill="#fff" stroke="#222" stroke-width="1.0"/>
<path d="M90.0 362.8L93.3 368.5L86.8 368.5Z" fill="#fff" stroke="#555" stroke-width="0.9"/>
<circle cx="91.1" cy="353.7" r="2.8" fill="none" stroke="#000" stroke-width="1.4"/>
<path d="M91.8 348.4L95.3 354.5L88.3 354.5Z" fill="#fff" stroke="#222" stroke-width="1.0"/>
<path d="M91.4 364.8L94.7 370.4L88.2 370.4Z" fill="#fff" stroke="#555" stroke-width="0.9"/>
<circle cx="92.5" cy="356.0" r="2.8" fill="none" stroke="#000" stroke-width="1.4"/>
<path d="M93.2 350.3L96.7 356.4L89.7 356.4Z" fill="#fff" stroke="#222" stroke-width="1.0"/>
<path d="M92.8 352.4L96.0 358.0L89.5 358.0Z" fill="#fff" stroke="#555" stroke-width="0.9"/>
<circle cx="93.9" cy="343.9" r="2.8" fill="none" stroke="#000" stroke-width="1.4"/>
<path d="M94.6 348.9L98.1 355.0L91.1 355.0Z" fill="#fff" stroke="#222" stroke-width="1.0"/>
<path d="M94.2 360.3L97.4 365.9L90.9 365.9Z" fill="#fff" stroke="#555" stroke-width="0.9"/>
<circle cx="95.3" cy="350.8" r="2.8" fill="none" stroke="#000" stroke-width="1.4"/>
<path d="M96.0 355.7L99.5 361.8L92.5 361.8Z" fill="#fff" stroke="#222" stroke-width="1.0"/>
<path d="M95.6 344.1L98.8 349.8L92.3 349.8Z" fill="#fff" stroke="#555" stroke-width="0.9"/>
<circle cx="96.7" cy="357.0" r="2.8" fill="none" stroke="#000" stroke-width="1.4"/>
<path d="M97.4 345.5L100.9 351.6L93.9 351.6Z" fill="#fff" stroke="#222" stroke-width="1.0"/>
<path d="M96.9 355.2L100.2 360.8L93.7 360.8Z" fill="#fff" stroke="#555" stroke-width="0.9"/>
<circle cx="98.0" cy="349.3" r="2.8" fill="none" stroke="#000" stroke-width="1.4"/>
<path d="M98.7 356.6L102.2 362.7L95.2 362.7Z" fill="#fff" stroke="#222" stroke-width="1.0"/>
<path d="M98.3 346.9L101.6 352.5L95.1 352.5Z" fill="#fff" stroke="#555" stroke-width="0.9"/>
<circle cx="99.4" cy="354.5" r="2.8" fill="none" stroke="#000" stroke-width="1.4"/>
<path d="M100.1 353.4L103.6 359.4L96.6 359.4Z" fill="#fff" stroke="#222" stroke-width="1.0"/>
<path d="M99.7 352.9L103.0 358.5L96.5 358.5Z" fill="#fff" stroke="#555" stroke-width="0.9"/>
<circle cx="100.8" cy="355.0" r="2.8" fill="none" stroke="#000" stroke-width="1.4"/>
<path d="M101.5 349.6L105.0 355.7L98.0 355.7Z" fill="#fff" stroke="#222" stroke-width="1.0"/>
<path d="M101.1 353.8L104.3 359.4L97.8 359.4Z" fill="#fff" stroke="#555" stroke-width="0.9"/>
<circle cx="102.2" cy="354.9" r="2.8" fill="none" stroke="#000" stroke-width="1.4"/>
<path d="M102.9 342.5L106.4 348.6L99.4 348.6Z" fill="#fff" stroke="#222" stroke-width="1.0"/>
<path d="M102.5 352.9L105.7 358.6L99.2 358.6Z" fill="#fff" stroke="#555" stroke-width="0.9"/>
<circle cx="103.6" cy="343.4" r="2.8" fill="none" stroke="#000" stroke-width="1.4"/>
<path d="M104.3 348.3L107.8 354.4L100.8 354.4Z" fill="#fff" stroke="#222" stroke-width="1.0"/>
<path d="M103.9 352.5L107.1 358.1L100.6 358.1Z" fill="#fff" stroke="#555" stroke-width="0.9"/>
<circle cx="105.0" cy="346.9" r="2.8" fill="none" stroke="#000" stroke-width="1.4"/>
<path d="M105.7 351.4L109.2 357.5L102.2 357.5Z" fill="#fff" stroke="#222" stroke-width="1.0"/>
<path d="M105.3 356.8L108.5 362.4L102.0 362.4Z" fill="#fff" stroke="#555" stroke-width="0.9"/>
<circle cx="106.4" cy="347.3" r="2.8" fill="none" stroke="#000" stroke-width="1.4"/>
<path d="M107.1 346.9L110.6 353.0L103.6 353.0Z" fill="#fff" stroke="#222" stroke-width="1.0"/>
<path d="M106.6 355.8L109.9 361.5L103.4 361.5Z" fill="#fff" stroke="#555" stroke-width="0.9"/>
<circle cx="107.7" cy="357.9" r="2.8" fill="none" stroke="#000" stroke-width="1.4"/>
<path d="M108.4 356.9L111.9 362.9L104.9 362.9Z" fill="#fff" stroke="#222" stroke-width="1.0"/>
<path d="M108.0 364.5L111.3 370.1L104.8 370.1Z" fill="#fff" stroke="#555" stroke-width="0.9"/>
<circle cx="109.1" cy="360.2" r="2.8" fill="none" stroke="#000" stroke-width="1.4"/>
<path d="M109.8 351.5L113.3 357.6L106.3 357.6Z" fill="#fff" stroke="#222" stroke-width="1.0"/>
<path d="M109.4 351.6L112.7 357.3L106.2 357.3Z" fill="#fff" stroke="#555" stroke-width="0.9"/>
<circle cx="110.5" cy="348.7" r="2.8" fill="none" stroke="#000" stroke-width="1.4"/>
<path d="M111.2 356.4L114.7 362.5L107.7 362.5Z" fill="#fff" stroke="#222" stroke-width="1.0"/>
<path d="M110.8 355.0L114.0 360.7L107.5 360.7Z" fill="#fff" stroke="#555" stroke-width="0.9"/>
<circle cx="111.9" cy="351.0" r="2.8" fill="none" stroke="#000" stroke-width="1.4"/>
<path d="M112.6 359.6L116.1 365.7L109.1 365.7Z" fill="#fff" stroke="#222" stroke-width="1.0"/>
<path d="M112.2 363.0L115.4 368.6L108.9 368.6Z" fill="#fff" stroke="#555" stroke-width="0.9"/>
<circle cx="113.3" cy="351.3" r="2.8" fill="none" stroke="#000" stroke-width="1.4"/>
<path d="M114.0 356.4L117.5 362.4L110.5 362.4Z" fill="#fff" stroke="#222" stroke-width="1.0"/>
<path d="M113.6 355.8L116.8 361.5L110.3 361.5Z" fill="#fff" stroke="#555" stroke-width="0.9"/>
<circle cx="114.7" cy="356.0" r="2.8" fill="none" stroke="#000" stroke-width="1.4"/>
<path d="M115.4 345.1L118.9 351.2L111.9 351.2Z" fill="#fff" stroke="#222" stroke-width="1.0"/>
<path d="M114.9 351.9L118.2 357.5L111.7 357.5Z" fill="#fff" stroke="#555" stroke-width="0.9"/>
<circle cx="116.1" cy="351.8" r="2.8" fill="none" stroke="#000" stroke-width="1.4"/>
<path d="M116.7 343.8L120.2 349.9L113.2 349.9Z" fill="#fff" stroke="#222" stroke-width="1.0"/>
<path d="M116.3 363.9L119.6 369.6L113.1 369.6Z" fill="#fff" stroke="#555" stroke-width="0.9"/>
<circle cx="117.4" cy="355.5" r="2.8" fill="none" stroke="#000" stroke-width="1.4"/>
<path d="M118.1 353.1L121.6 359.2L114.6 359.2Z" fill="#fff" stroke="#222" stroke-width="1.0"/>
<path d="M117.7 352.7L121.0 358.3L114.5 358.3Z" fill="#fff" stroke="#555" stroke-width="0.9"/>
<circle cx="118.8" cy="345.3" r="2.8" fill="none" stroke="#000" stroke-width="1.4"/>
<path d="M119.5 359.3L123.0 365.4L116.0 365.4Z" fill="#fff" stroke="#222" stroke-width="1.0"/>
<path d="M119.1 354.5L122.4 360.2L115.9 360.2Z" fill="#fff" stroke="#555" stroke-width="0.9"/>
<circle cx="120.2" cy="339.5" r="2.8" fill="none" stroke="#000" stroke-width="1.4"/>
<path d="M120.9 349.6L124.4 355.7L117.4 355.7Z" fill="#fff" stroke="#222" stroke-width="1.0"/>
<path d="M120.5 358.9L123.7 364.6L117.2 364.6Z" fill="#fff" stroke="#555" stroke-width="0.9"/>
<circle cx="121.6" cy="350.6" r="2.8" fill="none" stroke="#000" stroke-width="1.4"/>
<path d="M122.3 349.9L125.8 356.0L118.8 356.0Z" fill="#fff" stroke="#222" stroke-width="1.0"/>
<path d="M121.9 359.9L125.1 365.5L118.6 365.5Z" fill="#fff" stroke="#555" stroke-width="0.9"/>
<circle cx="123.0" cy="356.5" r="2.8" fill="none" stroke="#000" stroke-width="1.4"/>
<path d="M123.7 351.6L127.2 357.7L120.2 357.7Z" fill="#fff" stroke="#222" stroke-width="1.0"/>
<path d="M123.3 349.2L126.5 354.9L120.0 354.9Z" fill="#fff" stroke="#555" stroke-width="0.9"/>
<circle cx="124.4" cy="348.1" r="2.8" fill="none" stroke="#000" stroke-width="1.4"/>
<path d="M125.1 363.5L128.6 369.6L121.6 369.6Z" fill="#fff" stroke="#222" stroke-width="1.0"/>
<path d="M124.6 348.6L127.9 354.2L121.4 354.2Z" fill="#fff" stroke="#555" stroke-width="0.9"/>
<circle cx="125.8" cy="347.3" r="2.8" fill="none" stroke="#000" stroke-width="1.4"/>
<path d="M126.4 354.0L129.9 360.1L122.9 360.1Z" fill="#fff" stroke="#222" stroke-width="1.0"/>
<path d="M126.0 356.7L129.3 362.4L122.8 362.4Z" fill="#fff" stroke="#555" stroke-width="0.9"/>
<circle cx="127.1" cy="349.8" r="2.8" fill="none" stroke="#000" stroke-width="1.4"/>
<path d="M127.8 361.0L131.3 367.1L124.3 367.1Z" fill="#fff" stroke="#222" stroke-width="1.0"/>
<path d="M127.4 351.0L130.7 356.7L124.2 356.7Z" fill="#fff" stroke="#555" stroke-width="0.9"/>
<circle cx="128.5" cy="346.4" r="2.8" fill="none" stroke="#000" stroke-width="1.4"/>
<path d="M129.2 355.6L132.7 361.7L125.7 361.7Z" fill="#fff" stroke="#222" stroke-width="1.0"/>
<path d="M128.8 355.6L132.0 361.2L125.5 361.2Z" fill="#fff" stroke="#555" stroke-width="0.9"/>
<circle cx="129.9" cy="347.8" r="2.8" fill="none" stroke="#000" stroke-width="1.4"/>
<path d="M130.6 361.0L134.1 367.1L127.1 367.1Z" fill="#fff" stroke="#222" stroke-width="1.0"/>
<path d="M130.2 361.3L133.4 367.0L126.9 367.0Z" fill="#fff" stroke="#555" stroke-width="0.9"/>
<circle cx="131.3" cy="345.3" r="2.8" fill="none" stroke="#000" stroke-width="1.4"/>
<path d="M132.0 345.3L135.5 351.4L128.5 351.4Z" fill="#fff" stroke="#222" stroke-width="1.0"/>
<path d="M131.6 351.4L134.8 357.1L128.3 357.1Z" fill="#fff" stroke="#555" stroke-width="0.9"/>
<circle cx="132.7" cy="349.8" r="2.8" fill="none" stroke="#000" stroke-width="1.4"/>
<path d="M133.4 350.9L136.9 357.0L129.9 357.0Z" fill="#fff" stroke="#222" stroke-width="1.0"/>
<path d="M133.0 347.6L136.2 353.2L129.7 353.2Z" fill="#fff" stroke="#555" stroke-width="0.9"/>
<circle cx="134.1" cy="351.9" r="2.8" fill="none" stroke="#000" stroke-width="1.4"/>
<path d="M134.8 347.6L138.3 353.7L131.3 353.7Z" fill="#fff" stroke="#222" stroke-width="1.0"/>
<path d="M134.3 355.9L137.6 361.6L131.1 361.6Z" fill="#fff" stroke="#555" stroke-width="0.9"/>
<circle cx="135.4" cy="351.5" r="2.8" fill="none" stroke="#000" stroke-width="1.4"/>
<path d="M136.1 352.4L139.6 358.5L132.6 358.5Z" fill="#fff" stroke="#222" stroke-width="1.0"/>
<path d="M135.7 356.7L139.0 362.3L132.5 362.3Z" fill="#fff" stroke="#555" stroke-width="0.9"/>
<circle cx="136.8" cy="353.3" r="2.8" fill="none" stroke="#000" stroke-width="1.4"/>
<path d="M137.5 352.3L141.0 358.4L134.0 358.4Z" fill="#fff" stroke="#222" stroke-width="1.0"/>
<path d="M137.1 352.6L140.4 358.2L133.9 358.2Z" fill="#fff" stroke="#555" stroke-width="0.9"/>
<circle cx="138.2" cy="345.4" r="2.8" fill="none" stroke="#000" stroke-width="1.4"/>
<path d="M138.9 356.8L142.4 362.9L135.4 362.9Z" fill="#fff" stroke="#222" stroke-width="1.0"/>
<path d="M138.5 352.7L141.7 358.3L135.2 358.3Z" fill="#fff" stroke="#555" stroke-width="0.9"/>
<circle cx="139.6" cy="354.5" r="2.8" fill="none" stroke="#000" stroke-width="1.4"/>
<path d="M140.3 348.7L143.8 354.8L136.8 354.8Z" fill="#fff" stroke="#222" stroke-width="1.0"/>
<path d="M139.9 352.7L143.1 358.4L136.6 358.4Z" fill="#fff" stroke="#555" stroke-width="0.9"/>
<circle cx="141.0" cy="347.9" r="2.8" fill="none" stroke="#000" stroke-width="1.4"/>
<path d="M141.7 357.2L145.2 363.3L138.2 363.3Z" fill="#fff" stroke="#222" stroke-width="1.0"/>
<path d="M141.3 359.1L144.5 364.8L138.0 364.8Z" fill="#fff" stroke="#555" stroke-width="0.9"/>
<circle cx="142.4" cy="358.1" r="2.8" fill="none" stroke="#000" stroke-width="1.4"/>
<path d="M143.1 354.0L146.6 360.1L139.6 360.1Z" fill="#fff" stroke="#222" stroke-width="1.0"/>
<path d="M142.6 361.2L145.9 366.8L139.4 366.8Z" fill="#fff" stroke="#555" stroke-width="0.9"/>
<circle cx="143.8" cy="355.4" r="2.8" fill="none" stroke="#000" stroke-width="1.4"/>
<path d="M144.4 351.1L147.9 357.2L140.9 357.2Z" fill="#fff" stroke="#222" stroke-width="1.0"/>
<path d="M144.0 347.0L147.3 352.7L140.8 352.7Z" fill="#fff" stroke="#555" stroke-width="0.9"/>
<circle cx="145.1" cy="346.9" r="2.8" fill="none" stroke="#000" stroke-width="1.4"/>
<path d="M145.8 362.8L149.3 368.8L142.3 368.8Z" fill="#fff" stroke="#222" stroke-width="1.0"/>
<path d="M145.4 356.0L148.7 361.6L142.2 361.6Z" fill="#fff" stroke="#555" stroke-width="0.9"/>
<circle cx="146.5" cy="346.9" r="2.8" fill="none" stroke="#000" stroke-width="1.4"/>
<path d="M147.2 348.8L150.7 354.9L143.7 354.9Z" fill="#fff" stroke="#222" stroke-width="1.0"/>
<path d="M146.8 355.9L150.1 361.5L143.6 361.5Z" fill="#fff" stroke="#555" stroke-width="0.9"/>
<circle cx="147.9" cy="341.6" r="2.8" fill="none" stroke="#000" stroke-width="1.4"/>
<path d="M148.6 352.2L152.1 358.3L145.1 358.3Z" fill="#fff" stroke="#222" stroke-width="1.0"/>
<path d="M148.2 352.2L151.4 357.8L144.9 357.8Z" fill="#fff" stroke="#555" stroke-width="0.9"/>
<circle cx="149.3" cy="347.9" r="2.8" fill="none" stroke="#000" stroke-width="1.4"/>
<path d="M150.0 352.7L153.5 358.8L146.5 358.8Z" fill="#fff" stroke="#222" stroke-width="1.0"/>
<path d="M149.6 357.8L152.8 363.5L146.3 363.5Z" fill="#fff" stroke="#555" stroke-width="0.9"/>
<circle cx="150.7" cy="343.8" r="2.8" fill="none" stroke="#000" stroke-width="1.4"/>
<path d="M151.4 346.3L154.9 352.4L147.9 352.4Z" fill="#fff" stroke="#222" stroke-width="1.0"/>
<path d="M151.0 361.4L154.2 367.1L147.7 367.1Z" fill="#fff" stroke="#555" stroke-width="0.9"/>
<circle cx="152.1" cy="346.8" r="2.8" fill="none" stroke="#000" stroke-width="1.4"/>
<path d="M152.8 348.3L156.3 354.4L149.3 354.4Z" fill="#fff" stroke="#222" stroke-width="1.0"/>
<path d="M152.3 351.1L155.6 356.8L149.1 356.8Z" fill="#fff" stroke="#555" stroke-width="0.9"/>
<circle cx="153.4" cy="350.5" r="2.8" fill="none" stroke="#000" stroke-width="1.4"/>
<path d="M154.1 353.0L157.6 359.1L150.6 359.1Z" fill="#fff" stroke="#222" stroke-width="1.0"/>
<path d="M153.7 352.3L157.0 358.0L150.5 358.0Z" fill="#fff" stroke="#555" stroke-width="0.9"/>
<circle cx="154.8" cy="344.3" r="2.8" fill="none" stroke="#000" stroke-width="1.4"/>
<path d="M155.5 340.2L159.0 346.3L152.0 346.3Z" fill="#fff" stroke="#222" stroke-width="1.0"/>
<path d="M155.1 360.6L158.4 366.3L151.9 366.3Z" fill="#fff" stroke="#555" stroke-width="0.9"/>
<circle cx="156.2" cy="346.5" r="2.8" fill="none" stroke="#000" stroke-width="1.4"/>
<path d="M156.9 347.9L160.4 354.0L153.4 354.0Z" fill="#fff" stroke="#222" stroke-width="1.0"/>
<path d="M156.5 354.1L159.7 359.8L153.2 359.8Z" fill="#fff" stroke="#555" stroke-width="0.9"/>
<circle cx="157.6" cy="355.0" r="2.8" fill="none" stroke="#000" stroke-width="1.4"/>
<path d="M158.3 353.4L161.8 359.5L154.8 359.5Z" fill="#fff" stroke="#222" stroke-width="1.0"/>
<path d="M157.9 357.1L161.1 362.7L154.6 362.7Z" fill="#fff" stroke="#555" stroke-width="0.9"/>
<circle cx="159.0" cy="348.4" r="2.8" fill="none" stroke="#000" stroke-width="1.4"/>
<path d="M159.7 351.0L163.2 357.1L156.2 357.1Z" fill="#fff" stroke="#222" stroke-width="1.0"/>
<path d="M159.3 348.8L162.5 354.5L156.0 354.5Z" fill="#fff" stroke="#555" stroke-width="0.9"/>
<circle cx="160.4" cy="349.0" r="2.8" fill="none" stroke="#000" stroke-width="1.4"/>
<path d="M161.1 359.0L164.6 365.0L157.6 365.0Z" fill="#fff" stroke="#222" stroke-width="1.0"/>
<path d="M160.7 354.9L163.9 360.6L157.4 360.6Z" fill="#fff" stroke="#555" stroke-width="0.9"/>
<circle cx="161.8" cy="348.6" r="2.8" fill="none" stroke="#000" stroke-width="1.4"/>
<path d="M162.5 349.4L166.0 355.5L159.0 355.5Z" fill="#fff" stroke="#222" stroke-width="1.0"/>
<path d="M162.0 351.9L165.3 357.6L158.8 357.6Z" fill="#fff" stroke="#555" stroke-width="0.9"/>
<circle cx="163.1" cy="342.7" r="2.8" fill="none" stroke="#000" stroke-width="1.4"/>
<path d="M163.8 339.9L167.3 346.0L160.3 346.0Z" fill="#fff" stroke="#222" stroke-width="1.0"/>
<path d="M163.4 355.0L166.7 360.7L160.2 360.7Z" fill="#fff" stroke="#555" stroke-width="0.9"/>
<circle cx="164.5" cy="349.0" r="2.8" fill="none" stroke="#000" stroke-width="1.4"/>
<path d="M165.2 351.0L168.7 357.1L161.7 357.1Z" fill="#fff" stroke="#222" stroke-width="1.0"/>
<path d="M164.8 349.6L168.1 355.2L161.6 355.2Z" fill="#fff" stroke="#555" stroke-width="0.9"/>
<circle cx="165.9" cy="351.6" r="2.8" fill="none" stroke="#000" stroke-width="1.4"/>
<path d="M166.6 351.6L170.1 357.7L163.1 357.7Z" fill="#fff" stroke="#222" stroke-width="1.0"/>
<path d="M166.2 358.4L169.4 364.0L162.9 364.0Z" fill="#fff" stroke="#555" stroke-width="0.9"/>
<circle cx="167.3" cy="355.0" r="2.8" fill="none" stroke="#000" stroke-width="1.4"/>
<path d="M168.0 350.7L171.5 356.8L164.5 356.8Z" fill="#fff" stroke="#222" stroke-width="1.0"/>
<path d="M167.6 359.9L170.8 365.6L164.3 365.6Z" fill="#fff" stroke="#555" stroke-width="0.9"/>
<circle cx="168.7" cy="347.8" r="2.8" fill="none" stroke="#000" stroke-width="1.4"/>
<path d="M169.4 343.8L172.9 349.9L165.9 349.9Z" fill="#fff" stroke="#222" stroke-width="1.0"/>
<path d="M169.0 353.8L172.2 359.5L165.7 359.5Z" fill="#fff" stroke="#555" stroke-width="0.9"/>
<circle cx="170.1" cy="348.7" r="2.8" fill="none" stroke="#000" stroke-width="1.4"/>
<path d="M170.8 354.9L174.3 361.0L167.3 361.0Z" fill="#fff" stroke="#222" stroke-width="1.0"/>
<path d="M170.3 361.5L173.6 367.1L167.1 367.1Z" fill="#fff" stroke="#555" stroke-width="0.9"/>
<circle cx="171.5" cy="348.3" r="2.8" fill="none" stroke="#000" stroke-width="1.4"/>
<path d="M172.1 355.0L175.6 361.1L168.6 361.1Z" fill="#fff" stroke="#222" stroke-width="1.0"/>
<path d="M171.7 352.7L175.0 358.4L168.5 358.4Z" fill="#fff" stroke="#555" stroke-width="0.9"/>
<circle cx="172.8" cy="347.7" r="2.8" fill="none" stroke="#000" stroke-width="1.4"/>
<path d="M173.5 346.6L177.0 352.7L170.0 352.7Z" fill="#fff" stroke="#222" stroke-width="1.0"/>
<path d="M173.1 344.9L176.4 350.5L169.9 350.5Z" fill="#fff" stroke="#555" stroke-width="0.9"/>
<circle cx="174.2" cy="349.4" r="2.8" fill="none" stroke="#000" stroke-width="1.4"/>
<path d="M174.9 349.4L178.4 355.5L171.4 355.5Z" fill="#fff" stroke="#222" stroke-width="1.0"/>
<path d="M174.5 361.1L177.8 366.7L171.3 366.7Z" fill="#fff" stroke="#555" stroke-width="0.9"/>
<circle cx="175.6" cy="346.5" r="2.8" fill="none" stroke="#000" stroke-width="1.4"/>
<path d="M176.3 357.8L179.8 363.9L172.8 363.9Z" fill="#fff" stroke="#222" stroke-width="1.0"/>
<path d="M175.9 359.4L179.1 365.1L172.6 365.1Z" fill="#fff" stroke="#555" stroke-width="0.9"/>
<circle cx="177.0" cy="347.1" r="2.8" fill="none" stroke="#000" stroke-width="1.4"/>
<path d="M177.7 367.2L181.2 373.3L174.2 373.3Z" fill="#fff" stroke="#222" stroke-width="1.0"/>
<path d="M177.3 354.7L180.5 360.4L174.0 360.4Z" fill="#fff" stroke="#555" stroke-width="0.9"/>
<circle cx="178.4" cy="349.1" r="2.8" fill="none" stroke="#000" stroke-width="1.4"/>
<path d="M179.1 355.9L182.6 362.0L175.6 362.0Z" fill="#fff" stroke="#222" stroke-width="1.0"/>
<path d="M178.7 348.1L181.9 353.7L175.4 353.7Z" fill="#fff" stroke="#555" stroke-width="0.9"/>
<circle cx="179.8" cy="353.8" r="2.8" fill="none" stroke="#000" stroke-width="1.4"/>
<path d="M180.5 350.4L184.0 356.4L177.0 356.4Z" fill="#fff" stroke="#222" stroke-width="1.0"/>
<path d="M180.0 362.5L183.3 368.2L176.8 368.2Z" fill="#fff" stroke="#555" stroke-width="0.9"/>
<circle cx="181.2" cy="357.4" r="2.8" fill="none" stroke="#000" stroke-width="1.4"/>
<path d="M181.8 345.7L185.3 351.8L178.3 351.8Z" fill="#fff" stroke="#222" stroke-width="1.0"/>
<path d="M181.4 349.3L184.7 355.0L178.2 355.0Z" fill="#fff" stroke="#555" stroke-width="0.9"/>
<circle cx="182.5" cy="354.5" r="2.8" fill="none" stroke="#000" stroke-width="1.4"/>
<path d="M183.2 351.1L186.7 357.2L179.7 357.2Z" fill="#fff" stroke="#222" stroke-width="1.0"/>
<path d="M182.8 362.0L186.1 367.7L179.6 367.7Z" fill="#fff" stroke="#555" stroke-width="0.9"/>
<circle cx="183.9" cy="355.6" r="2.8" fill="none" stroke="#000" stroke-width="1.4"/>
<path d="M184.6 347.3L188.1 353.4L181.1 353.4Z" fill="#fff" stroke="#222" stroke-width="1.0"/>
<path d="M184.2 350.7L187.4 356.3L180.9 356.3Z" fill="#fff" stroke="#555" stroke-width="0.9"/>
<circle cx="185.3" cy="348.6" r="2.8" fill="none" stroke="#000" stroke-width="1.4"/>
<path d="M186.0 352.8L189.5 358.9L182.5 358.9Z" fill="#fff" stroke="#222" stroke-width="1.0"/>
<path d="M185.6 354.3L188.8 359.9L182.3 359.9Z" fill="#fff" stroke="#555" stroke-width="0.9"/>
<circle cx="186.7" cy="353.8" r="2.8" fill="none" stroke="#000" stroke-width="1.4"/>
<path d="M187.4 346.1L190.9 352.2L183.9 352.2Z" fill="#fff" stroke="#222" stroke-width="1.0"/>
<path d="M187.0 356.7L190.2 362.4L183.7 362.4Z" fill="#fff" stroke="#555" stroke-width="0.9"/>
<circle cx="188.1" cy="352.3" r="2.8" fill="none" stroke="#000" stroke-width="1.4"/>
<path d="M188.8 344.6L192.3 350.7L185.3 350.7Z" fill="#fff" stroke="#222" stroke-width="1.0"/>
<path d="M188.4 356.7L191.6 362.3L185.1 362.3Z" fill="#fff" stroke="#555" stroke-width="0.9"/>
<circle cx="189.5" cy="353.3" r="2.8" fill="none" stroke="#000" stroke-width="1.4"/>
<path d="M190.2 345.4L193.7 351.5L186.7 351.5Z" fill="#fff" stroke="#222" stroke-width="1.0"/>
<path d="M189.7 359.4L193.0 365.1L186.5 365.1Z" fill="#fff" stroke="#555" stroke-width="0.9"/>
<circle cx="190.8" cy="352.3" r="2.8" fill="none" stroke="#000" stroke-width="1.4"/>
<path d="M191.5 369.5L195.0 375.6L188.0 375.6Z" fill="#fff" stroke="#222" stroke-width="1.0"/>
<path d="M191.1 342.1L194.4 347.7L187.9 347.7Z" fill="#fff" stroke="#555" stroke-width="0.9"/>
<circle cx="192.2" cy="354.2" r="2.8" fill="none" stroke="#000" stroke-width="1.4"/>
<path d="M192.9 358.5L196.4 364.6L189.4 364.6Z" fill="#fff" stroke="#222" stroke-width="1.0"/>
<path d="M192.5 353.5L195.8 359.1L189.3 359.1Z" fill="#fff" stroke="#555" stroke-width="0.9"/>
<circle cx="193.6" cy="361.6" r="2.8" fill="none" stroke="#000" stroke-width="1.4"/>
<path d="M194.3 344.8L197.8 350.9L190.8 350.9Z" fill="#fff" stroke="#222" stroke-width="1.0"/>
<path d="M193.9 353.5L197.1 359.1L190.6 359.1Z" fill="#fff" stroke="#555" stroke-width="0.9"/>
<circle cx="195.0" cy="350.4" r="2.8" fill="none" stroke="#000" stroke-width="1.4"/>
<path d="M195.7 356.2L199.2 362.3L192.2 362.3Z" fill="#fff" stroke="#222" stroke-width="1.0"/>
<path d="M195.3 355.6L198.5 361.2L192.0 361.2Z" fill="#fff" stroke="#555" stroke-width="0.9"/>
<circle cx="196.4" cy="349.4" r="2.8" fill="none" stroke="#000" stroke-width="1.4"/>
<path d="M197.1 350.3L200.6 356.4L193.6 356.4Z" fill="#fff" stroke="#222" stroke-width="1.0"/>
<path d="M196.7 350.3L199.9 355.9L193.4 355.9Z" fill="#fff" stroke="#555" stroke-width="0.9"/>
<circle cx="197.8" cy="347.7" r="2.8" fill="none" stroke="#000" stroke-width="1.4"/>
<path d="M198.5 349.7L202.0 355.8L195.0 355.8Z" fill="#fff" stroke="#222" stroke-width="1.0"/>
<path d="M198.0 349.7L201.3 355.3L194.8 355.3Z" fill="#fff" stroke="#555" stroke-width="0.9"/>
<circle cx="199.2" cy="353.1" r="2.8" fill="none" stroke="#000" stroke-width="1.4"/>
<path d="M199.8 366.0L203.3 372.1L196.3 372.1Z" fill="#fff" stroke="#222" stroke-width="1.0"/>
<path d="M199.4 355.0L202.7 360.6L196.2 360.6Z" fill="#fff" stroke="#555" stroke-width="0.9"/>
<circle cx="200.5" cy="362.4" r="2.8" fill="none" stroke="#000" stroke-width="1.4"/>
<path d="M201.2 359.3L204.7 365.4L197.7 365.4Z" fill="#fff" stroke="#222" stroke-width="1.0"/>
<path d="M200.8 359.7L204.1 365.4L197.6 365.4Z" fill="#fff" stroke="#555" stroke-width="0.9"/>
<circle cx="201.9" cy="355.9" r="2.8" fill="none" stroke="#000" stroke-width="1.4"/>
<path d="M202.6 345.7L206.1 351.8L199.1 351.8Z" fill="#fff" stroke="#222" stroke-width="1.0"/>
<path d="M202.2 351.6L205.5 357.2L199.0 357.2Z" fill="#fff" stroke="#555" stroke-width="0.9"/>
<circle cx="203.3" cy="350.1" r="2.8" fill="none" stroke="#000" stroke-width="1.4"/>
<path d="M204.0 353.7L207.5 359.8L200.5 359.8Z" fill="#fff" stroke="#222" stroke-width="1.0"/>
<path d="M203.6 352.0L206.8 357.6L200.3 357.6Z" fill="#fff" stroke="#555" stroke-width="0.9"/>
<circle cx="204.7" cy="351.2" r="2.8" fill="none" stroke="#000" stroke-width="1.4"/>
<path d="M205.4 355.3L208.9 361.4L201.9 361.4Z" fill="#fff" stroke="#222" stroke-width="1.0"/>
<path d="M205.0 353.9L208.2 359.6L201.7 359.6Z" fill="#fff" stroke="#555" stroke-width="0.9"/>
<circle cx="206.1" cy="355.8" r="2.8" fill="none" stroke="#000" stroke-width="1.4"/>
<path d="M206.8 351.9L210.3 358.0L203.3 358.0Z" fill="#fff" stroke="#222" stroke-width="1.0"/>
<path d="M206.4 344.2L209.6 349.9L203.1 349.9Z" fill="#fff" stroke="#555" stroke-width="0.9"/>
<circle cx="207.5" cy="346.6" r="2.8" fill="none" stroke="#000" stroke-width="1.4"/>
<path d="M208.2 357.8L211.7 363.9L204.7 363.9Z" fill="#fff" stroke="#222" stroke-width="1.0"/>
<path d="M207.7 351.7L211.0 357.4L204.5 357.4Z" fill="#fff" stroke="#555" stroke-width="0.9"/>
<circle cx="208.8" cy="353.4" r="2.8" fill="none" stroke="#000" stroke-width="1.4"/>
<path d="M209.5 355.0L213.0 361.1L206.0 361.1Z" fill="#fff" stroke="#222" stroke-width="1.0"/>
<path d="M209.1 355.8L212.4 361.5L205.9 361.5Z" fill="#fff" stroke="#555" stroke-width="0.9"/>
<circle cx="210.2" cy="344.4" r="2.8" fill="none" stroke="#000" stroke-width="1.4"/>
<path d="M210.9 356.1L214.4 362.2L207.4 362.2Z" fill="#fff" stroke="#222" stroke-width="1.0"/>
<path d="M210.5 355.8L213.8 361.4L207.3 361.4Z" fill="#fff" stroke="#555" stroke-width="0.9"/>
<circle cx="211.6" cy="350.9" r="2.8" fill="none" stroke="#000" stroke-width="1.4"/>
<path d="M212.3 356.4L215.8 362.5L208.8 362.5Z" fill="#fff" stroke="#222" stroke-width="1.0"/>
<path d="M211.9 351.0L215.1 356.7L208.6 356.7Z" fill="#fff" stroke="#555" stroke-width="0.9"/>
<circle cx="213.0" cy="349.9" r="2.8" fill="none" stroke="#000" stroke-width="1.4"/>
<path d="M213.7 349.1L217.2 355.2L210.2 355.2Z" fill="#fff" stroke="#222" stroke-width="1.0"/>
<path d="M213.3 353.7L216.5 359.3L210.0 359.3Z" fill="#fff" stroke="#555" stroke-width="0.9"/>
<circle cx="214.4" cy="350.1" r="2.8" fill="none" stroke="#000" stroke-width="1.4"/>
<path d="M215.1 357.4L218.6 363.5L211.6 363.5Z" fill="#fff" stroke="#222" stroke-width="1.0"/>
<path d="M214.7 348.4L217.9 354.0L211.4 354.0Z" fill="#fff" stroke="#555" stroke-width="0.9"/>
<circle cx="215.8" cy="354.3" r="2.8" fill="none" stroke="#000" stroke-width="1.4"/>
<path d="M216.5 336.9L220.0 343.0L213.0 343.0Z" fill="#fff" stroke="#222" stroke-width="1.0"/>
<path d="M216.1 350.2L219.3 355.8L212.8 355.8Z" fill="#fff" stroke="#555" stroke-width="0.9"/>
<circle cx="217.2" cy="348.7" r="2.8" fill="none" stroke="#000" stroke-width="1.4"/>
<path d="M217.9 352.8L221.4 358.9L214.4 358.9Z" fill="#fff" stroke="#222" stroke-width="1.0"/>
<path d="M217.4 350.4L220.7 356.1L214.2 356.1Z" fill="#fff" stroke="#555" stroke-width="0.9"/>
<circle cx="218.5" cy="352.6" r="2.8" fill="none" stroke="#000" stroke-width="1.4"/>
<path d="M219.2 366.3L222.7 372.4L215.7 372.4Z" fill="#fff" stroke="#222" stroke-width="1.0"/>
<path d="M218.8 352.7L222.1 358.3L215.6 358.3Z" fill="#fff" stroke="#555" stroke-width="0.9"/>
<circle cx="219.9" cy="350.0" r="2.8" fill="none" stroke="#000" stroke-width="1.4"/>
<path d="M220.6 345.6L224.1 351.7L217.1 351.7Z" fill="#fff" stroke="#222" stroke-width="1.0"/>
<path d="M220.2 347.7L223.5 353.4L217.0 353.4Z" fill="#fff" stroke="#555" stroke-width="0.9"/>
<circle cx="221.3" cy="352.7" r="2.8" fill="none" stroke="#000" stroke-width="1.4"/>
<path d="M222.0 366.6L225.5 372.7L218.5 372.7Z" fill="#fff" stroke="#222" stroke-width="1.0"/>
<path d="M221.6 351.9L224.8 357.6L218.3 357.6Z" fill="#fff" stroke="#555" stroke-width="0.9"/>
<circle cx="222.7" cy="347.9" r="2.8" fill="none" stroke="#000" stroke-width="1.4"/>
<path d="M223.4 358.7L226.9 364.8L219.9 364.8Z" fill="#fff" stroke="#222" stroke-width="1.0"/>
<path d="M223.0 349.7L226.2 355.3L219.7 355.3Z" fill="#fff" stroke="#555" stroke-width="0.9"/>
<circle cx="224.1" cy="346.4" r="2.8" fill="none" stroke="#000" stroke-width="1.4"/>
<path d="M224.8 355.5L228.3 361.6L221.3 361.6Z" fill="#fff" stroke="#222" stroke-width="1.0"/>
<path d="M224.4 353.5L227.6 359.2L221.1 359.2Z" fill="#fff" stroke="#555" stroke-width="0.9"/>
<path d="M99.4 358.7L103.4 365.7L95.4 365.7Z" fill="#fff" stroke="#222" stroke-width="1.0"/>
<path d="M222.7 358.7L226.7 365.7L218.7 365.7Z" fill="#fff" stroke="#222" stroke-width="1.0"/>
<path d="M190.8 361.8L194.8 368.8L186.8 368.8Z" fill="#fff" stroke="#222" stroke-width="1.0"/>
<path d="M139.6 357.7L143.6 364.7L135.6 364.7Z" fill="#fff" stroke="#222" stroke-width="1.0"/>
<path d="M178.4 336.2L182.4 343.1L174.4 343.1Z" fill="#fff" stroke="#222" stroke-width="1.0"/>
<path d="M201.9 333.1L205.9 340.1L197.9 340.1Z" fill="#fff" stroke="#222" stroke-width="1.0"/>
<path d="M60.7 333.1L64.7 340.1L56.7 340.1Z" fill="#fff" stroke="#222" stroke-width="1.0"/>
<path d="M111.9 340.3L115.9 347.2L107.9 347.2Z" fill="#fff" stroke="#222" stroke-width="1.0"/>
<path d="M87.0 338.2L91.0 345.2L83.0 345.2Z" fill="#fff" stroke="#222" stroke-width="1.0"/>
<path d="M73.1 362.8L77.1 369.8L69.1 369.8Z" fill="#fff" stroke="#222" stroke-width="1.0"/>
<path d="M77.3 335.1L81.3 342.1L73.3 342.1Z" fill="#fff" stroke="#222" stroke-width="1.0"/>
<path d="M164.5 357.7L168.5 364.7L160.5 364.7Z" fill="#fff" stroke="#222" stroke-width="1.0"/>
<circle cx="123.0" cy="337.7" r="3.4" fill="none" stroke="#000" stroke-width="1.6"/>
<circle cx="193.6" cy="370.1" r="3.4" fill="none" stroke="#000" stroke-width="1.6"/>
<circle cx="177.0" cy="340.4" r="3.4" fill="none" stroke="#000" stroke-width="1.6"/>
<circle cx="224.1" cy="342.4" r="3.4" fill="none" stroke="#000" stroke-width="1.6"/>
<circle cx="91.1" cy="341.4" r="3.4" fill="none" stroke="#000" stroke-width="1.6"/>
<circle cx="70.3" cy="347.5" r="3.4" fill="none" stroke="#000" stroke-width="1.6"/>
<circle cx="105.0" cy="346.5" r="3.4" fill="none" stroke="#000" stroke-width="1.6"/>
<rect x="334.6" y="356.8" width="1.6" height="1.6" fill="#444"/>
<rect x="346.6" y="354.6" width="1.6" height="1.6" fill="#444"/>
<rect x="437.0" y="367.9" width="1.6" height="1.6" fill="#444"/>
<rect x="369.5" y="356.7" width="1.6" height="1.6" fill="#444"/>
<rect x="395.7" y="360.3" width="1.6" height="1.6" fill="#444"/>
<rect x="414.2" y="368.9" width="1.6" height="1.6" fill="#444"/>
<rect x="484.3" y="378.1" width="1.6" height="1.6" fill="#444"/>
<rect x="365.6" y="350.0" width="1.6" height="1.6" fill="#444"/>
<rect x="474.3" y="377.3" width="1.6" height="1.6" fill="#444"/>
<rect x="429.8" y="366.0" width="1.6" height="1.6" fill="#444"/>
<rect x="371.1" y="358.2" width="1.6" height="1.6" fill="#444"/>
<rect x="419.9" y="368.4" width="1.6" height="1.6" fill="#444"/>
<rect x="431.2" y="371.8" width="1.6" height="1.6" fill="#444"/>
<rect x="357.5" y="351.7" width="1.6" height="1.6" fill="#444"/>
<rect x="488.8" y="381.3" width="1.6" height="1.6" fill="#444"/>
<rect x="472.0" y="366.4" width="1.6" height="1.6" fill="#444"/>
<rect x="336.1" y="353.0" width="1.6" height="1.6" fill="#444"/>
<rect x="396.6" y="358.1" width="1.6" height="1.6" fill="#444"/>
<rect x="343.0" y="356.3" width="1.6" height="1.6" fill="#444"/>
<rect x="338.0" y="350.3" width="1.6" height="1.6" fill="#444"/>
<rect x="438.4" y="369.4" width="1.6" height="1.6" fill="#444"/>
<rect x="430.9" y="366.3" width="1.6" height="1.6" fill="#444"/>
<rect x="405.5" y="352.8" width="1.6" height="1.6" fill="#444"/>
<rect x="383.1" y="359.4" width="1.6" height="1.6" fill="#444"/>
<rect x="465.3" y="365.9" width="1.6" height="1.6" fill="#444"/>
<rect x="345.9" y="359.9" width="1.6" height="1.6" fill="#444"/>
<rect x="429.6" y="371.9" width="1.6" height="1.6" fill="#444"/>
<rect x="361.4" y="354.3" width="1.6" height="1.6" fill="#444"/>
<rect x="368.9" y="360.0" width="1.6" height="1.6" fill="#444"/>
<rect x="387.3" y="358.2" width="1.6" height="1.6" fill="#444"/>
<rect x="490.4" y="373.0" width="1.6" height="1.6" fill="#444"/>
<rect x="417.1" y="368.1" width="1.6" height="1.6" fill="#444"/>
<rect x="479.0" y="372.9" width="1.6" height="1.6" fill="#444"/>
<rect x="387.3" y="350.2" width="1.6" height="1.6" fill="#444"/>
<rect x="471.4" y="366.8" width="1.6" height="1.6" fill="#444"/>
<rect x="339.8" y="356.9" width="1.6" height="1.6" fill="#444"/>
<rect x="406.6" y="359.6" width="1.6" height="1.6" fill="#444"/>
<rect x="375.6" y="359.6" width="1.6" height="1.6" fill="#444"/>
<rect x="338.6" y="352.0" width="1.6" height="1.6" fill="#444"/>
<rect x="436.0" y="362.5" width="1.6" height="1.6" fill="#444"/>
<rect x="376.5" y="358.9" width="1.6" height="1.6" fill="#444"/>
<rect x="441.3" y="365.8" width="1.6" height="1.6" fill="#444"/>
<rect x="349.7" y="353.2" width="1.6" height="1.6" fill="#444"/>
<rect x="446.6" y="367.4" width="1.6" height="1.6" fill="#444"/>
<rect x="345.5" y="358.5" width="1.6" height="1.6" fill="#444"/>
<rect x="420.6" y="373.3" width="1.6" height="1.6" fill="#444"/>
<rect x="482.2" y="380.3" width="1.6" height="1.6" fill="#444"/>
<rect x="398.8" y="360.8" width="1.6" height="1.6" fill="#444"/>
<rect x="376.6" y="353.1" width="1.6" height="1.6" fill="#444"/>
<rect x="392.4" y="362.3" width="1.6" height="1.6" fill="#444"/>
<rect x="474.7" y="369.7" width="1.6" height="1.6" fill="#444"/>
<rect x="386.1" y="354.0" width="1.6" height="1.6" fill="#444"/>
<rect x="386.4" y="354.5" width="1.6" height="1.6" fill="#444"/>
<rect x="390.4" y="351.7" width="1.6" height="1.6" fill="#444"/>
<rect x="419.7" y="371.1" width="1.6" height="1.6" fill="#444"/>
<rect x="479.5" y="383.4" width="2.0" height="2.0" fill="#000"/>
<rect x="483.7" y="382.4" width="2.0" height="2.0" fill="#000"/>
<rect x="485.0" y="373.2" width="2.0" height="2.0" fill="#000"/>
<rect x="417.6" y="310.7" width="1.8" height="1.8" fill="#000"/>
<rect x="421.2" y="321.0" width="1.8" height="1.8" fill="#000"/>
<rect x="453.0" y="311.6" width="1.8" height="1.8" fill="#000"/>
<rect x="375.6" y="321.3" width="1.8" height="1.8" fill="#000"/>
<rect x="413.6" y="315.0" width="1.8" height="1.8" fill="#000"/>
<rect x="422.0" y="308.9" width="1.8" height="1.8" fill="#000"/>
<rect x="435.5" y="312.0" width="1.8" height="1.8" fill="#000"/>
<rect x="340.4" y="311.8" width="1.8" height="1.8" fill="#000"/>
<rect x="457.7" y="324.0" width="1.8" height="1.8" fill="#000"/>
<rect x="343.3" y="309.0" width="1.8" height="1.8" fill="#000"/>
<rect x="475.7" y="324.8" width="1.8" height="1.8" fill="#000"/>
<rect x="432.8" y="322.0" width="1.8" height="1.8" fill="#000"/>
<rect x="450.9" y="315.1" width="1.8" height="1.8" fill="#000"/>
<rect x="369.8" y="318.0" width="1.8" height="1.8" fill="#000"/>
<rect x="454.0" y="317.2" width="1.8" height="1.8" fill="#000"/>
<rect x="453.9" y="319.1" width="1.8" height="1.8" fill="#000"/>
<rect x="384.8" y="307.3" width="1.8" height="1.8" fill="#000"/>
<rect x="439.0" y="316.9" width="1.8" height="1.8" fill="#000"/>
<rect x="417.1" y="312.5" width="1.8" height="1.8" fill="#000"/>
<rect x="444.8" y="310.7" width="1.8" height="1.8" fill="#000"/>
<rect x="396.6" y="310.0" width="1.8" height="1.8" fill="#000"/>
<rect x="438.1" y="311.4" width="1.8" height="1.8" fill="#000"/>
<rect x="460.6" y="312.7" width="1.8" height="1.8" fill="#000"/>
<rect x="474.0" y="311.4" width="1.8" height="1.8" fill="#000"/>
<rect x="433.8" y="316.2" width="1.8" height="1.8" fill="#000"/>
<rect x="445.1" y="312.5" width="1.8" height="1.8" fill="#000"/>
<rect x="398.3" y="316.2" width="1.8" height="1.8" fill="#000"/>
<rect x="353.7" y="309.4" width="1.8" height="1.8" fill="#000"/>
<rect x="490.6" y="321.0" width="1.8" height="1.8" fill="#000"/>
<rect x="357.2" y="317.7" width="1.8" height="1.8" fill="#000"/>
<rect x="398.9" y="318.2" width="1.8" height="1.8" fill="#000"/>
<rect x="487.2" y="325.7" width="1.8" height="1.8" fill="#000"/>
<rect x="380.0" y="320.1" width="1.8" height="1.8" fill="#000"/>
<rect x="435.0" y="312.4" width="1.8" height="1.8" fill="#000"/>
<rect x="359.1" y="320.0" width="1.8" height="1.8" fill="#000"/>
<rect x="404.4" y="314.0" width="1.8" height="1.8" fill="#000"/>
<rect x="477.4" y="325.6" width="1.8" height="1.8" fill="#000"/>
<rect x="347.6" y="317.6" width="1.8" height="1.8" fill="#000"/>
<rect x="365.2" y="317.6" width="1.8" height="1.8" fill="#000"/>
<rect x="446.3" y="315.7" width="1.8" height="1.8" fill="#000"/>
<rect x="366.3" y="318.4" width="1.8" height="1.8" fill="#000"/>
<rect x="375.6" y="319.0" width="1.8" height="1.8" fill="#000"/>
<rect x="452.8" y="320.3" width="1.8" height="1.8" fill="#000"/>
<rect x="418.9" y="311.1" width="1.8" height="1.8" fill="#000"/>
<rect x="407.7" y="319.1" width="1.8" height="1.8" fill="#000"/>
<rect x="473.8" y="312.0" width="1.8" height="1.8" fill="#000"/>
<rect x="385.5" y="313.7" width="1.8" height="1.8" fill="#000"/>
<rect x="485.1" y="319.1" width="1.8" height="1.8" fill="#000"/>
<rect x="368.7" y="283.6" width="2.0" height="2.0" fill="#000"/>
<rect x="367.3" y="295.8" width="2.0" height="2.0" fill="#000"/>
<rect x="407.5" y="293.8" width="2.0" height="2.0" fill="#000"/>
<rect x="408.9" y="289.7" width="2.0" height="2.0" fill="#000"/>
<rect x="357.6" y="299.9" width="2.0" height="2.0" fill="#000"/>
<rect x="494.7" y="332.5" width="2.0" height="2.0" fill="#000"/>
<rect x="478.1" y="310.1" width="2.0" height="2.0" fill="#000"/>
<rect x="496.1" y="328.4" width="2.0" height="2.0" fill="#000"/>
<path d="M326.8 342.4L330.8 349.4L322.8 349.4Z" fill="#e4e4e4" stroke="#222" stroke-width="0.9"/>
<path d="M328.2 341.6L332.2 348.6L324.2 348.6Z" fill="#e4e4e4" stroke="#222" stroke-width="0.9"/>
<path d="M329.5 337.8L333.5 344.8L325.5 344.8Z" fill="#e4e4e4" stroke="#222" stroke-width="0.9"/>
<path d="M330.9 343.8L334.9 350.7L326.9 350.7Z" fill="#e4e4e4" stroke="#222" stroke-width="0.9"/>
<path d="M332.3 344.5L336.3 351.5L328.3 351.5Z" fill="#e4e4e4" stroke="#222" stroke-width="0.9"/>
<path d="M333.7 339.8L337.7 346.8L329.7 346.8Z" fill="#e4e4e4" stroke="#222" stroke-width="0.9"/>
<path d="M335.1 344.0L339.1 350.9L331.1 350.9Z" fill="#e4e4e4" stroke="#222" stroke-width="0.9"/>
<path d="M336.5 342.0L340.5 348.9L332.5 348.9Z" fill="#e4e4e4" stroke="#222" stroke-width="0.9"/>
<path d="M337.9 337.8L341.9 344.7L333.9 344.7Z" fill="#e4e4e4" stroke="#222" stroke-width="0.9"/>
<path d="M339.2 341.8L343.2 348.7L335.2 348.7Z" fill="#e4e4e4" stroke="#222" stroke-width="0.9"/>
<path d="M340.6 341.4L344.6 348.4L336.6 348.4Z" fill="#e4e4e4" stroke="#222" stroke-width="0.9"/>
<path d="M342.0 340.9L346.0 347.9L338.0 347.9Z" fill="#e4e4e4" stroke="#222" stroke-width="0.9"/>
<path d="M343.4 343.7L347.4 350.7L339.4 350.7Z" fill="#e4e4e4" stroke="#222" stroke-width="0.9"/>
<path d="M344.8 340.6L348.8 347.6L340.8 347.6Z" fill="#e4e4e4" stroke="#222" stroke-width="0.9"/>
<path d="M346.2 339.8L350.2 346.7L342.2 346.7Z" fill="#e4e4e4" stroke="#222" stroke-width="0.9"/>
<path d="M347.5 344.9L351.5 351.8L343.5 351.8Z" fill="#e4e4e4" stroke="#222" stroke-width="0.9"/>
<path d="M348.9 342.0L352.9 348.9L344.9 348.9Z" fill="#e4e4e4" stroke="#222" stroke-width="0.9"/>
<path d="M350.3 341.6L354.3 348.5L346.3 348.5Z" fill="#e4e4e4" stroke="#222" stroke-width="0.9"/>
<path d="M351.7 339.2L355.7 346.2L347.7 346.2Z" fill="#e4e4e4" stroke="#222" stroke-width="0.9"/>
<path d="M353.1 338.6L357.1 345.6L349.1 345.6Z" fill="#e4e4e4" stroke="#222" stroke-width="0.9"/>
<path d="M354.5 340.9L358.5 347.9L350.5 347.9Z" fill="#e4e4e4" stroke="#222" stroke-width="0.9"/>
<path d="M355.9 335.3L359.9 342.2L351.9 342.2Z" fill="#e4e4e4" stroke="#222" stroke-width="0.9"/>
<path d="M357.2 344.4L361.2 351.4L353.2 351.4Z" fill="#e4e4e4" stroke="#222" stroke-width="0.9"/>
<path d="M358.6 341.1L362.6 348.0L354.6 348.0Z" fill="#e4e4e4" stroke="#222" stroke-width="0.9"/>
<path d="M360.0 338.6L364.0 345.6L356.0 345.6Z" fill="#e4e4e4" stroke="#222" stroke-width="0.9"/>
<path d="M361.4 340.8L365.4 347.8L357.4 347.8Z" fill="#e4e4e4" stroke="#222" stroke-width="0.9"/>
<path d="M362.8 342.3L366.8 349.2L358.8 349.2Z" fill="#e4e4e4" stroke="#222" stroke-width="0.9"/>
<path d="M364.2 341.1L368.2 348.1L360.2 348.1Z" fill="#e4e4e4" stroke="#222" stroke-width="0.9"/>
<path d="M365.6 340.8L369.6 347.8L361.6 347.8Z" fill="#e4e4e4" stroke="#222" stroke-width="0.9"/>
<path d="M366.9 341.0L370.9 348.0L362.9 348.0Z" fill="#e4e4e4" stroke="#222" stroke-width="0.9"/>
<path d="M368.3 338.7L372.3 345.7L364.3 345.7Z" fill="#e4e4e4" stroke="#222" stroke-width="0.9"/>
<path d="M369.7 345.6L373.7 352.5L365.7 352.5Z" fill="#e4e4e4" stroke="#222" stroke-width="0.9"/>
<path d="M371.1 340.5L375.1 347.5L367.1 347.5Z" fill="#e4e4e4" stroke="#222" stroke-width="0.9"/>
<path d="M372.5 342.0L376.5 349.0L368.5 349.0Z" fill="#e4e4e4" stroke="#222" stroke-width="0.9"/>
<path d="M373.9 341.6L377.9 348.5L369.9 348.5Z" fill="#e4e4e4" stroke="#222" stroke-width="0.9"/>
<path d="M375.2 336.9L379.2 343.9L371.2 343.9Z" fill="#e4e4e4" stroke="#222" stroke-width="0.9"/>
<path d="M376.6 338.6L380.6 345.6L372.6 345.6Z" fill="#e4e4e4" stroke="#222" stroke-width="0.9"/>
<path d="M378.0 339.4L382.0 346.4L374.0 346.4Z" fill="#e4e4e4" stroke="#222" stroke-width="0.9"/>
<path d="M379.4 347.7L383.4 354.6L375.4 354.6Z" fill="#e4e4e4" stroke="#222" stroke-width="0.9"/>
<path d="M380.8 339.9L384.8 346.9L376.8 346.9Z" fill="#e4e4e4" stroke="#222" stroke-width="0.9"/>
<path d="M382.2 345.7L386.2 352.7L378.2 352.7Z" fill="#e4e4e4" stroke="#222" stroke-width="0.9"/>
<path d="M383.6 344.0L387.6 351.0L379.6 351.0Z" fill="#e4e4e4" stroke="#222" stroke-width="0.9"/>
<path d="M384.9 342.9L388.9 349.8L380.9 349.8Z" fill="#e4e4e4" stroke="#222" stroke-width="0.9"/>
<path d="M386.3 337.0L390.3 343.9L382.3 343.9Z" fill="#e4e4e4" stroke="#222" stroke-width="0.9"/>
<path d="M387.7 346.5L391.7 353.5L383.7 353.5Z" fill="#e4e4e4" stroke="#222" stroke-width="0.9"/>
<path d="M389.1 338.5L393.1 345.5L385.1 345.5Z" fill="#e4e4e4" stroke="#222" stroke-width="0.9"/>
<path d="M390.5 337.3L394.5 344.3L386.5 344.3Z" fill="#e4e4e4" stroke="#222" stroke-width="0.9"/>
<path d="M391.9 338.8L395.9 345.8L387.9 345.8Z" fill="#e4e4e4" stroke="#222" stroke-width="0.9"/>
<path d="M393.2 340.7L397.2 347.6L389.2 347.6Z" fill="#e4e4e4" stroke="#222" stroke-width="0.9"/>
<path d="M394.6 338.4L398.6 345.4L390.6 345.4Z" fill="#e4e4e4" stroke="#222" stroke-width="0.9"/>
<path d="M396.0 343.2L400.0 350.2L392.0 350.2Z" fill="#e4e4e4" stroke="#222" stroke-width="0.9"/>
<path d="M397.4 342.0L401.4 349.0L393.4 349.0Z" fill="#e4e4e4" stroke="#222" stroke-width="0.9"/>
<path d="M398.8 340.7L402.8 347.7L394.8 347.7Z" fill="#e4e4e4" stroke="#222" stroke-width="0.9"/>
<path d="M400.2 344.0L404.2 350.9L396.2 350.9Z" fill="#e4e4e4" stroke="#222" stroke-width="0.9"/>
<path d="M401.6 342.4L405.6 349.4L397.6 349.4Z" fill="#e4e4e4" stroke="#222" stroke-width="0.9"/>
<path d="M402.9 341.2L406.9 348.1L398.9 348.1Z" fill="#e4e4e4" stroke="#222" stroke-width="0.9"/>
<path d="M404.3 343.2L408.3 350.2L400.3 350.2Z" fill="#e4e4e4" stroke="#222" stroke-width="0.9"/>
<path d="M405.7 339.5L409.7 346.5L401.7 346.5Z" fill="#e4e4e4" stroke="#222" stroke-width="0.9"/>
<path d="M407.1 342.9L411.1 349.9L403.1 349.9Z" fill="#e4e4e4" stroke="#222" stroke-width="0.9"/>
<path d="M408.5 344.9L412.5 351.9L404.5 351.9Z" fill="#e4e4e4" stroke="#222" stroke-width="0.9"/>
<path d="M409.9 343.0L413.9 350.0L405.9 350.0Z" fill="#e4e4e4" stroke="#222" stroke-width="0.9"/>
<path d="M411.3 345.0L415.3 351.9L407.3 351.9Z" fill="#e4e4e4" stroke="#222" stroke-width="0.9"/>
<path d="M412.6 347.4L416.6 354.4L408.6 354.4Z" fill="#e4e4e4" stroke="#222" stroke-width="0.9"/>
<path d="M414.0 344.6L418.0 351.5L410.0 351.5Z" fill="#e4e4e4" stroke="#222" stroke-width="0.9"/>
<path d="M415.4 342.8L419.4 349.7L411.4 349.7Z" fill="#e4e4e4" stroke="#222" stroke-width="0.9"/>
<path d="M416.8 350.0L420.8 356.9L412.8 356.9Z" fill="#e4e4e4" stroke="#222" stroke-width="0.9"/>
<path d="M418.2 350.4L422.2 357.4L414.2 357.4Z" fill="#e4e4e4" stroke="#222" stroke-width="0.9"/>
<path d="M419.6 351.8L423.6 358.8L415.6 358.8Z" fill="#e4e4e4" stroke="#222" stroke-width="0.9"/>
<path d="M420.9 355.7L424.9 362.7L416.9 362.7Z" fill="#e4e4e4" stroke="#222" stroke-width="0.9"/>
<path d="M422.3 349.9L426.3 356.9L418.3 356.9Z" fill="#e4e4e4" stroke="#222" stroke-width="0.9"/>
<path d="M423.7 352.7L427.7 359.6L419.7 359.6Z" fill="#e4e4e4" stroke="#222" stroke-width="0.9"/>
<path d="M425.1 349.6L429.1 356.6L421.1 356.6Z" fill="#e4e4e4" stroke="#222" stroke-width="0.9"/>
<path d="M426.5 353.5L430.5 360.5L422.5 360.5Z" fill="#e4e4e4" stroke="#222" stroke-width="0.9"/>
<path d="M427.9 353.2L431.9 360.1L423.9 360.1Z" fill="#e4e4e4" stroke="#222" stroke-width="0.9"/>
<path d="M429.3 348.6L433.3 355.6L425.3 355.6Z" fill="#e4e4e4" stroke="#222" stroke-width="0.9"/>
<path d="M430.6 353.7L434.6 360.7L426.6 360.7Z" fill="#e4e4e4" stroke="#222" stroke-width="0.9"/>
<path d="M432.0 352.6L436.0 359.5L428.0 359.5Z" fill="#e4e4e4" stroke="#222" stroke-width="0.9"/>
<path d="M433.4 350.1L437.4 357.1L429.4 357.1Z" fill="#e4e4e4" stroke="#222" stroke-width="0.9"/>
<path d="M434.8 354.4L438.8 361.4L430.8 361.4Z" fill="#e4e4e4" stroke="#222" stroke-width="0.9"/>
<path d="M436.2 351.4L440.2 358.3L432.2 358.3Z" fill="#e4e4e4" stroke="#222" stroke-width="0.9"/>
<path d="M437.6 356.1L441.6 363.1L433.6 363.1Z" fill="#e4e4e4" stroke="#222" stroke-width="0.9"/>
<path d="M439.0 354.6L443.0 361.6L435.0 361.6Z" fill="#e4e4e4" stroke="#222" stroke-width="0.9"/>
<path d="M440.3 355.5L444.3 362.5L436.3 362.5Z" fill="#e4e4e4" stroke="#222" stroke-width="0.9"/>
<path d="M441.7 352.0L445.7 359.0L437.7 359.0Z" fill="#e4e4e4" stroke="#222" stroke-width="0.9"/>
<path d="M443.1 355.4L447.1 362.4L439.1 362.4Z" fill="#e4e4e4" stroke="#222" stroke-width="0.9"/>
<path d="M444.5 356.2L448.5 363.2L440.5 363.2Z" fill="#e4e4e4" stroke="#222" stroke-width="0.9"/>
<path d="M445.9 353.2L449.9 360.2L441.9 360.2Z" fill="#e4e4e4" stroke="#222" stroke-width="0.9"/>
<path d="M447.3 350.6L451.3 357.6L443.3 357.6Z" fill="#e4e4e4" stroke="#222" stroke-width="0.9"/>
<path d="M448.6 357.8L452.6 364.8L444.6 364.8Z" fill="#e4e4e4" stroke="#222" stroke-width="0.9"/>
<path d="M450.0 349.4L454.0 356.3L446.0 356.3Z" fill="#e4e4e4" stroke="#222" stroke-width="0.9"/>
<path d="M451.4 359.1L455.4 366.1L447.4 366.1Z" fill="#e4e4e4" stroke="#222" stroke-width="0.9"/>
<path d="M452.8 357.0L456.8 364.0L448.8 364.0Z" fill="#e4e4e4" stroke="#222" stroke-width="0.9"/>
<path d="M454.2 358.0L458.2 365.0L450.2 365.0Z" fill="#e4e4e4" stroke="#222" stroke-width="0.9"/>
<path d="M455.6 351.5L459.6 358.4L451.6 358.4Z" fill="#e4e4e4" stroke="#222" stroke-width="0.9"/>
<path d="M457.0 354.8L461.0 361.7L453.0 361.7Z" fill="#e4e4e4" stroke="#222" stroke-width="0.9"/>
<path d="M458.3 355.4L462.3 362.4L454.3 362.4Z" fill="#e4e4e4" stroke="#222" stroke-width="0.9"/>
<path d="M459.7 353.1L463.7 360.1L455.7 360.1Z" fill="#e4e4e4" stroke="#222" stroke-width="0.9"/>
<path d="M461.1 354.4L465.1 361.3L457.1 361.3Z" fill="#e4e4e4" stroke="#222" stroke-width="0.9"/>
<path d="M462.5 357.2L466.5 364.2L458.5 364.2Z" fill="#e4e4e4" stroke="#222" stroke-width="0.9"/>
<path d="M463.9 358.6L467.9 365.6L459.9 365.6Z" fill="#e4e4e4" stroke="#222" stroke-width="0.9"/>
<path d="M465.3 361.3L469.3 368.3L461.3 368.3Z" fill="#e4e4e4" stroke="#222" stroke-width="0.9"/>
<path d="M466.7 354.5L470.7 361.5L462.7 361.5Z" fill="#e4e4e4" stroke="#222" stroke-width="0.9"/>
<path d="M468.0 358.6L472.0 365.6L464.0 365.6Z" fill="#e4e4e4" stroke="#222" stroke-width="0.9"/>
<path d="M469.4 358.5L473.4 365.4L465.4 365.4Z" fill="#e4e4e4" stroke="#222" stroke-width="0.9"/>
<path d="M470.8 357.8L474.8 364.8L466.8 364.8Z" fill="#e4e4e4" stroke="#222" stroke-width="0.9"/>
<path d="M472.2 356.7L476.2 363.7L468.2 363.7Z" fill="#e4e4e4" stroke="#222" stroke-width="0.9"/>
<path d="M473.6 356.5L477.6 363.5L469.6 363.5Z" fill="#e4e4e4" stroke="#222" stroke-width="0.9"/>
<path d="M475.0 356.7L479.0 363.7L471.0 363.7Z" fill="#e4e4e4" stroke="#222" stroke-width="0.9"/>
<path d="M476.4 353.5L480.4 360.5L472.4 360.5Z" fill="#e4e4e4" stroke="#222" stroke-width="0.9"/>
<path d="M477.7 356.4L481.7 363.4L473.7 363.4Z" fill="#e4e4e4" stroke="#222" stroke-width="0.9"/>
<path d="M479.1 362.1L483.1 369.1L475.1 369.1Z" fill="#e4e4e4" stroke="#222" stroke-width="0.9"/>
<path d="M480.5 358.1L484.5 365.0L476.5 365.0Z" fill="#e4e4e4" stroke="#222" stroke-width="0.9"/>
<path d="M481.9 362.4L485.9 369.3L477.9 369.3Z" fill="#e4e4e4" stroke="#222" stroke-width="0.9"/>
<path d="M483.3 363.5L487.3 370.4L479.3 370.4Z" fill="#e4e4e4" stroke="#222" stroke-width="0.9"/>
<path d="M484.7 358.9L488.7 365.9L480.7 365.9Z" fill="#e4e4e4" stroke="#222" stroke-width="0.9"/>
<path d="M486.0 362.6L490.0 369.6L482.0 369.6Z" fill="#e4e4e4" stroke="#222" stroke-width="0.9"/>
<path d="M487.4 361.8L491.4 368.8L483.4 368.8Z" fill="#e4e4e4" stroke="#222" stroke-width="0.9"/>
<path d="M488.8 358.3L492.8 365.3L484.8 365.3Z" fill="#e4e4e4" stroke="#222" stroke-width="0.9"/>
<path d="M490.2 358.2L494.2 365.2L486.2 365.2Z" fill="#e4e4e4" stroke="#222" stroke-width="0.9"/>
<path d="M491.6 360.6L495.6 367.6L487.6 367.6Z" fill="#e4e4e4" stroke="#222" stroke-width="0.9"/>
<circle cx="326.8" cy="340.5" r="3.3" fill="none" stroke="#000" stroke-width="1.7"/>
<circle cx="328.2" cy="341.5" r="3.3" fill="none" stroke="#000" stroke-width="1.7"/>
<circle cx="329.5" cy="337.4" r="3.3" fill="none" stroke="#000" stroke-width="1.7"/>
<circle cx="330.9" cy="338.4" r="3.3" fill="none" stroke="#000" stroke-width="1.7"/>
<circle cx="332.3" cy="336.2" r="3.3" fill="none" stroke="#000" stroke-width="1.7"/>
<circle cx="333.7" cy="335.3" r="3.3" fill="none" stroke="#000" stroke-width="1.7"/>
<circle cx="335.1" cy="334.7" r="3.3" fill="none" stroke="#000" stroke-width="1.7"/>
<circle cx="336.5" cy="332.5" r="3.3" fill="none" stroke="#000" stroke-width="1.7"/>
<circle cx="337.9" cy="332.8" r="3.3" fill="none" stroke="#000" stroke-width="1.7"/>
<circle cx="339.2" cy="332.5" r="3.3" fill="none" stroke="#000" stroke-width="1.7"/>
<circle cx="340.6" cy="332.6" r="3.3" fill="none" stroke="#000" stroke-width="1.7"/>
<circle cx="342.0" cy="330.5" r="3.3" fill="none" stroke="#000" stroke-width="1.7"/>
<circle cx="343.4" cy="330.5" r="3.3" fill="none" stroke="#000" stroke-width="1.7"/>
<circle cx="344.8" cy="332.4" r="3.3" fill="none" stroke="#000" stroke-width="1.7"/>
<circle cx="346.2" cy="330.6" r="3.3" fill="none" stroke="#000" stroke-width="1.7"/>
<circle cx="347.5" cy="330.2" r="3.3" fill="none" stroke="#000" stroke-width="1.7"/>
<circle cx="348.9" cy="329.2" r="3.3" fill="none" stroke="#000" stroke-width="1.7"/>
<circle cx="350.3" cy="332.1" r="3.3" fill="none" stroke="#000" stroke-width="1.7"/>
<circle cx="351.7" cy="331.3" r="3.3" fill="none" stroke="#000" stroke-width="1.7"/>
<circle cx="353.1" cy="331.2" r="3.3" fill="none" stroke="#000" stroke-width="1.7"/>
<circle cx="354.5" cy="332.0" r="3.3" fill="none" stroke="#000" stroke-width="1.7"/>
<circle cx="355.9" cy="332.0" r="3.3" fill="none" stroke="#000" stroke-width="1.7"/>
<circle cx="357.2" cy="333.2" r="3.3" fill="none" stroke="#000" stroke-width="1.7"/>
<circle cx="358.6" cy="335.9" r="3.3" fill="none" stroke="#000" stroke-width="1.7"/>
<circle cx="360.0" cy="335.1" r="3.3" fill="none" stroke="#000" stroke-width="1.7"/>
<circle cx="361.4" cy="334.2" r="3.3" fill="none" stroke="#000" stroke-width="1.7"/>
<circle cx="362.8" cy="334.2" r="3.3" fill="none" stroke="#000" stroke-width="1.7"/>
<circle cx="364.2" cy="335.2" r="3.3" fill="none" stroke="#000" stroke-width="1.7"/>
<circle cx="365.6" cy="333.3" r="3.3" fill="none" stroke="#000" stroke-width="1.7"/>
<circle cx="366.9" cy="335.2" r="3.3" fill="none" stroke="#000" stroke-width="1.7"/>
<circle cx="368.3" cy="334.7" r="3.3" fill="none" stroke="#000" stroke-width="1.7"/>
<circle cx="369.7" cy="334.5" r="3.3" fill="none" stroke="#000" stroke-width="1.7"/>
<circle cx="371.1" cy="335.0" r="3.3" fill="none" stroke="#000" stroke-width="1.7"/>
<circle cx="372.5" cy="333.8" r="3.3" fill="none" stroke="#000" stroke-width="1.7"/>
<circle cx="373.9" cy="335.5" r="3.3" fill="none" stroke="#000" stroke-width="1.7"/>
<circle cx="375.2" cy="336.1" r="3.3" fill="none" stroke="#000" stroke-width="1.7"/>
<circle cx="376.6" cy="334.5" r="3.3" fill="none" stroke="#000" stroke-width="1.7"/>
<circle cx="378.0" cy="335.9" r="3.3" fill="none" stroke="#000" stroke-width="1.7"/>
<circle cx="379.4" cy="336.0" r="3.3" fill="none" stroke="#000" stroke-width="1.7"/>
<circle cx="380.8" cy="335.4" r="3.3" fill="none" stroke="#000" stroke-width="1.7"/>
<circle cx="382.2" cy="335.0" r="3.3" fill="none" stroke="#000" stroke-width="1.7"/>
<circle cx="383.6" cy="335.6" r="3.3" fill="none" stroke="#000" stroke-width="1.7"/>
<circle cx="384.9" cy="334.5" r="3.3" fill="none" stroke="#000" stroke-width="1.7"/>
<circle cx="386.3" cy="336.2" r="3.3" fill="none" stroke="#000" stroke-width="1.7"/>
<circle cx="387.7" cy="336.7" r="3.3" fill="none" stroke="#000" stroke-width="1.7"/>
<circle cx="389.1" cy="336.0" r="3.3" fill="none" stroke="#000" stroke-width="1.7"/>
<circle cx="390.5" cy="335.7" r="3.3" fill="none" stroke="#000" stroke-width="1.7"/>
<circle cx="391.9" cy="333.3" r="3.3" fill="none" stroke="#000" stroke-width="1.7"/>
<circle cx="393.2" cy="333.6" r="3.3" fill="none" stroke="#000" stroke-width="1.7"/>
<circle cx="394.6" cy="335.6" r="3.3" fill="none" stroke="#000" stroke-width="1.7"/>
<circle cx="396.0" cy="335.9" r="3.3" fill="none" stroke="#000" stroke-width="1.7"/>
<circle cx="397.4" cy="335.8" r="3.3" fill="none" stroke="#000" stroke-width="1.7"/>
<circle cx="398.8" cy="335.1" r="3.3" fill="none" stroke="#000" stroke-width="1.7"/>
<circle cx="400.2" cy="336.3" r="3.3" fill="none" stroke="#000" stroke-width="1.7"/>
<circle cx="401.6" cy="335.2" r="3.3" fill="none" stroke="#000" stroke-width="1.7"/>
<circle cx="402.9" cy="336.6" r="3.3" fill="none" stroke="#000" stroke-width="1.7"/>
<circle cx="404.3" cy="338.1" r="3.3" fill="none" stroke="#000" stroke-width="1.7"/>
<circle cx="405.7" cy="337.5" r="3.3" fill="none" stroke="#000" stroke-width="1.7"/>
<circle cx="407.1" cy="336.5" r="3.3" fill="none" stroke="#000" stroke-width="1.7"/>
<circle cx="408.5" cy="336.1" r="3.3" fill="none" stroke="#000" stroke-width="1.7"/>
<circle cx="409.9" cy="337.3" r="3.3" fill="none" stroke="#000" stroke-width="1.7"/>
<circle cx="411.3" cy="338.2" r="3.3" fill="none" stroke="#000" stroke-width="1.7"/>
<circle cx="412.6" cy="337.8" r="3.3" fill="none" stroke="#000" stroke-width="1.7"/>
<circle cx="414.0" cy="337.1" r="3.3" fill="none" stroke="#000" stroke-width="1.7"/>
<circle cx="415.4" cy="339.2" r="3.3" fill="none" stroke="#000" stroke-width="1.7"/>
<circle cx="416.8" cy="341.9" r="3.3" fill="none" stroke="#000" stroke-width="1.7"/>
<circle cx="418.2" cy="342.7" r="3.3" fill="none" stroke="#000" stroke-width="1.7"/>
<circle cx="419.6" cy="341.5" r="3.3" fill="none" stroke="#000" stroke-width="1.7"/>
<circle cx="420.9" cy="343.8" r="3.3" fill="none" stroke="#000" stroke-width="1.7"/>
<circle cx="422.3" cy="344.7" r="3.3" fill="none" stroke="#000" stroke-width="1.7"/>
<circle cx="423.7" cy="345.2" r="3.3" fill="none" stroke="#000" stroke-width="1.7"/>
<circle cx="425.1" cy="344.7" r="3.3" fill="none" stroke="#000" stroke-width="1.7"/>
<circle cx="426.5" cy="343.0" r="3.3" fill="none" stroke="#000" stroke-width="1.7"/>
<circle cx="427.9" cy="343.6" r="3.3" fill="none" stroke="#000" stroke-width="1.7"/>
<circle cx="429.3" cy="344.2" r="3.3" fill="none" stroke="#000" stroke-width="1.7"/>
<circle cx="430.6" cy="343.6" r="3.3" fill="none" stroke="#000" stroke-width="1.7"/>
<circle cx="432.0" cy="344.7" r="3.3" fill="none" stroke="#000" stroke-width="1.7"/>
<circle cx="433.4" cy="342.8" r="3.3" fill="none" stroke="#000" stroke-width="1.7"/>
<circle cx="434.8" cy="343.1" r="3.3" fill="none" stroke="#000" stroke-width="1.7"/>
<circle cx="436.2" cy="342.7" r="3.3" fill="none" stroke="#000" stroke-width="1.7"/>
<circle cx="437.6" cy="344.0" r="3.3" fill="none" stroke="#000" stroke-width="1.7"/>
<circle cx="439.0" cy="342.7" r="3.3" fill="none" stroke="#000" stroke-width="1.7"/>
<circle cx="440.3" cy="344.8" r="3.3" fill="none" stroke="#000" stroke-width="1.7"/>
<circle cx="441.7" cy="342.9" r="3.3" fill="none" stroke="#000" stroke-width="1.7"/>
<circle cx="443.1" cy="342.8" r="3.3" fill="none" stroke="#000" stroke-width="1.7"/>
<circle cx="444.5" cy="344.0" r="3.3" fill="none" stroke="#000" stroke-width="1.7"/>
<circle cx="445.9" cy="342.9" r="3.3" fill="none" stroke="#000" stroke-width="1.7"/>
<circle cx="447.3" cy="342.6" r="3.3" fill="none" stroke="#000" stroke-width="1.7"/>
<circle cx="448.6" cy="345.6" r="3.3" fill="none" stroke="#000" stroke-width="1.7"/>
<circle cx="450.0" cy="345.6" r="3.3" fill="none" stroke="#000" stroke-width="1.7"/>
<circle cx="451.4" cy="346.3" r="3.3" fill="none" stroke="#000" stroke-width="1.7"/>
<circle cx="452.8" cy="344.6" r="3.3" fill="none" stroke="#000" stroke-width="1.7"/>
<circle cx="454.2" cy="346.1" r="3.3" fill="none" stroke="#000" stroke-width="1.7"/>
<circle cx="455.6" cy="347.3" r="3.3" fill="none" stroke="#000" stroke-width="1.7"/>
<circle cx="457.0" cy="345.9" r="3.3" fill="none" stroke="#000" stroke-width="1.7"/>
<circle cx="458.3" cy="347.3" r="3.3" fill="none" stroke="#000" stroke-width="1.7"/>
<circle cx="459.7" cy="344.4" r="3.3" fill="none" stroke="#000" stroke-width="1.7"/>
<circle cx="461.1" cy="346.6" r="3.3" fill="none" stroke="#000" stroke-width="1.7"/>
<circle cx="462.5" cy="346.1" r="3.3" fill="none" stroke="#000" stroke-width="1.7"/>
<circle cx="463.9" cy="347.9" r="3.3" fill="none" stroke="#000" stroke-width="1.7"/>
<circle cx="465.3" cy="348.5" r="3.3" fill="none" stroke="#000" stroke-width="1.7"/>
<circle cx="466.7" cy="347.1" r="3.3" fill="none" stroke="#000" stroke-width="1.7"/>
<circle cx="468.0" cy="346.9" r="3.3" fill="none" stroke="#000" stroke-width="1.7"/>
<circle cx="469.4" cy="349.0" r="3.3" fill="none" stroke="#000" stroke-width="1.7"/>
<circle cx="470.8" cy="349.6" r="3.3" fill="none" stroke="#000" stroke-width="1.7"/>
<circle cx="472.2" cy="349.0" r="3.3" fill="none" stroke="#000" stroke-width="1.7"/>
<circle cx="473.6" cy="348.4" r="3.3" fill="none" stroke="#000" stroke-width="1.7"/>
<circle cx="475.0" cy="350.0" r="3.3" fill="none" stroke="#000" stroke-width="1.7"/>
<circle cx="476.4" cy="348.2" r="3.3" fill="none" stroke="#000" stroke-width="1.7"/>
<circle cx="477.7" cy="349.6" r="3.3" fill="none" stroke="#000" stroke-width="1.7"/>
<circle cx="479.1" cy="349.3" r="3.3" fill="none" stroke="#000" stroke-width="1.7"/>
<circle cx="480.5" cy="352.0" r="3.3" fill="none" stroke="#000" stroke-width="1.7"/>
<circle cx="481.9" cy="352.8" r="3.3" fill="none" stroke="#000" stroke-width="1.7"/>
<circle cx="483.3" cy="352.8" r="3.3" fill="none" stroke="#000" stroke-width="1.7"/>
<circle cx="484.7" cy="352.7" r="3.3" fill="none" stroke="#000" stroke-width="1.7"/>
<circle cx="486.0" cy="351.4" r="3.3" fill="none" stroke="#000" stroke-width="1.7"/>
<circle cx="487.4" cy="352.6" r="3.3" fill="none" stroke="#000" stroke-width="1.7"/>
<circle cx="488.8" cy="353.2" r="3.3" fill="none" stroke="#000" stroke-width="1.7"/>
<circle cx="490.2" cy="355.0" r="3.3" fill="none" stroke="#000" stroke-width="1.7"/>
<circle cx="491.6" cy="353.5" r="3.3" fill="none" stroke="#000" stroke-width="1.7"/>
<rect x="56.7" y="615.3" width="1.6" height="1.6" fill="#000"/>
<rect x="57.1" y="608.8" width="1.6" height="1.6" fill="#000"/>
<rect x="57.7" y="617.2" width="1.6" height="1.6" fill="#000"/>
<rect x="58.1" y="612.2" width="1.6" height="1.6" fill="#000"/>
<rect x="58.6" y="622.0" width="1.6" height="1.6" fill="#000"/>
<rect x="59.3" y="598.2" width="1.6" height="1.6" fill="#000"/>
<rect x="59.9" y="598.2" width="1.6" height="1.6" fill="#000"/>
<rect x="60.4" y="597.9" width="1.6" height="1.6" fill="#000"/>
<rect x="60.9" y="597.9" width="1.6" height="1.6" fill="#000"/>
<rect x="61.5" y="593.1" width="1.6" height="1.6" fill="#000"/>
<rect x="61.9" y="594.3" width="1.6" height="1.6" fill="#000"/>
<rect x="62.3" y="599.3" width="1.6" height="1.6" fill="#000"/>
<rect x="63.0" y="625.4" width="1.6" height="1.6" fill="#000"/>
<rect x="63.5" y="605.5" width="1.6" height="1.6" fill="#000"/>
<rect x="64.0" y="618.0" width="1.6" height="1.6" fill="#000"/>
<rect x="64.6" y="587.1" width="1.6" height="1.6" fill="#000"/>
<rect x="65.2" y="605.3" width="1.6" height="1.6" fill="#000"/>
<rect x="65.7" y="623.3" width="1.6" height="1.6" fill="#000"/>
<rect x="66.1" y="598.0" width="1.6" height="1.6" fill="#000"/>
<rect x="66.6" y="609.6" width="1.6" height="1.6" fill="#000"/>
<rect x="67.3" y="600.7" width="1.6" height="1.6" fill="#000"/>
<rect x="67.9" y="619.9" width="1.6" height="1.6" fill="#000"/>
<rect x="68.3" y="603.1" width="1.6" height="1.6" fill="#000"/>
<rect x="69.0" y="621.9" width="1.6" height="1.6" fill="#000"/>
<rect x="69.7" y="617.6" width="1.6" height="1.6" fill="#000"/>
<rect x="70.3" y="623.8" width="1.6" height="1.6" fill="#000"/>
<rect x="70.9" y="605.1" width="1.6" height="1.6" fill="#000"/>
<rect x="71.4" y="612.3" width="1.6" height="1.6" fill="#000"/>
<rect x="71.8" y="608.2" width="1.6" height="1.6" fill="#000"/>
<rect x="72.2" y="626.8" width="1.6" height="1.6" fill="#000"/>
<rect x="72.8" y="619.8" width="1.6" height="1.6" fill="#000"/>
<rect x="73.5" y="608.1" width="1.6" height="1.6" fill="#000"/>
<rect x="74.2" y="624.6" width="1.6" height="1.6" fill="#000"/>
<rect x="74.8" y="606.1" width="1.6" height="1.6" fill="#000"/>
<rect x="75.3" y="626.5" width="1.6" height="1.6" fill="#000"/>
<rect x="75.8" y="618.2" width="1.6" height="1.6" fill="#000"/>
<rect x="76.4" y="621.2" width="1.6" height="1.6" fill="#000"/>
<rect x="76.8" y="619.7" width="1.6" height="1.6" fill="#000"/>
<rect x="77.5" y="606.7" width="1.6" height="1.6" fill="#000"/>
<rect x="78.0" y="608.7" width="1.6" height="1.6" fill="#000"/>
<rect x="78.7" y="609.7" width="1.6" height="1.6" fill="#000"/>
<rect x="79.1" y="616.4" width="1.6" height="1.6" fill="#000"/>
<rect x="79.8" y="607.4" width="1.6" height="1.6" fill="#000"/>
<rect x="80.3" y="607.7" width="1.6" height="1.6" fill="#000"/>
<rect x="80.7" y="601.2" width="1.6" height="1.6" fill="#000"/>
<rect x="81.2" y="609.8" width="1.6" height="1.6" fill="#000"/>
<rect x="81.8" y="625.3" width="1.6" height="1.6" fill="#000"/>
<rect x="82.4" y="615.5" width="1.6" height="1.6" fill="#000"/>
<rect x="82.8" y="603.8" width="1.6" height="1.6" fill="#000"/>
<rect x="83.2" y="615.1" width="1.6" height="1.6" fill="#000"/>
<rect x="83.9" y="616.0" width="1.6" height="1.6" fill="#000"/>
<rect x="84.4" y="608.3" width="1.6" height="1.6" fill="#000"/>
<rect x="84.8" y="601.6" width="1.6" height="1.6" fill="#000"/>
<rect x="85.5" y="624.0" width="1.6" height="1.6" fill="#000"/>
<rect x="86.1" y="603.8" width="1.6" height="1.6" fill="#000"/>
<rect x="86.6" y="600.6" width="1.6" height="1.6" fill="#000"/>
<rect x="87.1" y="616.5" width="1.6" height="1.6" fill="#000"/>
<rect x="87.7" y="605.2" width="1.6" height="1.6" fill="#000"/>
<rect x="88.2" y="605.2" width="1.6" height="1.6" fill="#000"/>
<rect x="88.8" y="608.3" width="1.6" height="1.6" fill="#000"/>
<rect x="89.4" y="603.0" width="1.6" height="1.6" fill="#000"/>
<rect x="90.0" y="608.8" width="1.6" height="1.6" fill="#000"/>
<rect x="90.7" y="617.1" width="1.6" height="1.6" fill="#000"/>
<rect x="91.4" y="617.5" width="1.6" height="1.6" fill="#000"/>
<rect x="92.0" y="615.7" width="1.6" height="1.6" fill="#000"/>
<rect x="92.5" y="606.3" width="1.6" height="1.6" fill="#000"/>
<rect x="93.2" y="606.5" width="1.6" height="1.6" fill="#000"/>
<rect x="93.6" y="611.3" width="1.6" height="1.6" fill="#000"/>
<rect x="94.1" y="610.1" width="1.6" height="1.6" fill="#000"/>
<rect x="94.6" y="622.7" width="1.6" height="1.6" fill="#000"/>
<rect x="95.2" y="608.9" width="1.6" height="1.6" fill="#000"/>
<rect x="95.8" y="607.4" width="1.6" height="1.6" fill="#000"/>
<rect x="96.2" y="619.0" width="1.6" height="1.6" fill="#000"/>
<rect x="96.6" y="612.8" width="1.6" height="1.6" fill="#000"/>
<rect x="97.1" y="613.9" width="1.6" height="1.6" fill="#000"/>
<rect x="97.6" y="609.6" width="1.6" height="1.6" fill="#000"/>
<rect x="98.0" y="608.7" width="1.6" height="1.6" fill="#000"/>
<rect x="98.6" y="613.2" width="1.6" height="1.6" fill="#000"/>
<rect x="99.2" y="618.0" width="1.6" height="1.6" fill="#000"/>
<rect x="99.6" y="616.9" width="1.6" height="1.6" fill="#000"/>
<rect x="100.0" y="616.9" width="1.6" height="1.6" fill="#000"/>
<rect x="100.6" y="614.3" width="1.6" height="1.6" fill="#000"/>
<rect x="101.1" y="613.7" width="1.6" height="1.6" fill="#000"/>
<rect x="101.5" y="611.5" width="1.6" height="1.6" fill="#000"/>
<rect x="101.9" y="618.2" width="1.6" height="1.6" fill="#000"/>
<rect x="102.4" y="613.1" width="1.6" height="1.6" fill="#000"/>
<rect x="103.0" y="612.5" width="1.6" height="1.6" fill="#000"/>
<rect x="103.4" y="616.4" width="1.6" height="1.6" fill="#000"/>
<rect x="103.9" y="619.1" width="1.6" height="1.6" fill="#000"/>
<rect x="104.6" y="622.7" width="1.6" height="1.6" fill="#000"/>
<rect x="105.2" y="613.7" width="1.6" height="1.6" fill="#000"/>
<rect x="105.9" y="620.5" width="1.6" height="1.6" fill="#000"/>
<rect x="106.5" y="614.3" width="1.6" height="1.6" fill="#000"/>
<rect x="106.8" y="619.3" width="1.6" height="1.6" fill="#000"/>
<rect x="107.5" y="620.4" width="1.6" height="1.6" fill="#000"/>
<rect x="108.1" y="617.7" width="1.6" height="1.6" fill="#000"/>
<rect x="108.6" y="621.3" width="1.6" height="1.6" fill="#000"/>
<rect x="109.0" y="609.3" width="1.6" height="1.6" fill="#000"/>
<rect x="109.6" y="610.8" width="1.6" height="1.6" fill="#000"/>
<rect x="110.1" y="616.7" width="1.6" height="1.6" fill="#000"/>
<rect x="110.6" y="616.4" width="1.6" height="1.6" fill="#000"/>
<rect x="111.2" y="606.2" width="1.6" height="1.6" fill="#000"/>
<rect x="111.7" y="613.8" width="1.6" height="1.6" fill="#000"/>
<rect x="112.4" y="608.5" width="1.6" height="1.6" fill="#000"/>
<rect x="112.8" y="611.5" width="1.6" height="1.6" fill="#000"/>
<rect x="113.4" y="620.1" width="1.6" height="1.6" fill="#000"/>
<rect x="113.9" y="605.5" width="1.6" height="1.6" fill="#000"/>
<rect x="114.6" y="606.4" width="1.6" height="1.6" fill="#000"/>
<rect x="115.3" y="608.0" width="1.6" height="1.6" fill="#000"/>
<rect x="115.8" y="600.7" width="1.6" height="1.6" fill="#000"/>
<rect x="116.3" y="601.0" width="1.6" height="1.6" fill="#000"/>
<rect x="116.7" y="609.0" width="1.6" height="1.6" fill="#000"/>
<rect x="117.2" y="604.1" width="1.6" height="1.6" fill="#000"/>
<rect x="117.6" y="612.0" width="1.6" height="1.6" fill="#000"/>
<rect x="118.0" y="604.7" width="1.6" height="1.6" fill="#000"/>
<rect x="118.5" y="604.6" width="1.6" height="1.6" fill="#000"/>
<rect x="119.3" y="598.9" width="1.6" height="1.6" fill="#000"/>
<rect x="119.9" y="609.7" width="1.6" height="1.6" fill="#000"/>
<rect x="120.4" y="614.6" width="1.6" height="1.6" fill="#000"/>
<rect x="121.1" y="601.8" width="1.6" height="1.6" fill="#000"/>
<rect x="121.5" y="617.1" width="1.6" height="1.6" fill="#000"/>
<rect x="122.0" y="601.9" width="1.6" height="1.6" fill="#000"/>
<rect x="122.5" y="579.7" width="1.6" height="1.6" fill="#000"/>
<rect x="123.1" y="597.7" width="1.6" height="1.6" fill="#000"/>
<rect x="123.6" y="602.3" width="1.6" height="1.6" fill="#000"/>
<rect x="124.3" y="589.2" width="1.6" height="1.6" fill="#000"/>
<rect x="125.0" y="574.4" width="1.6" height="1.6" fill="#000"/>
<rect x="125.7" y="612.1" width="1.6" height="1.6" fill="#000"/>
<rect x="126.2" y="586.6" width="1.6" height="1.6" fill="#000"/>
<rect x="126.6" y="569.9" width="1.6" height="1.6" fill="#000"/>
<rect x="127.1" y="574.9" width="1.6" height="1.6" fill="#000"/>
<rect x="127.6" y="607.1" width="1.6" height="1.6" fill="#000"/>
<rect x="128.1" y="596.3" width="1.6" height="1.6" fill="#000"/>
<rect x="128.5" y="600.9" width="1.6" height="1.6" fill="#000"/>
<rect x="129.1" y="609.1" width="1.6" height="1.6" fill="#000"/>
<rect x="129.6" y="592.0" width="1.6" height="1.6" fill="#000"/>
<rect x="130.2" y="602.4" width="1.6" height="1.6" fill="#000"/>
<rect x="130.8" y="597.0" width="1.6" height="1.6" fill="#000"/>
<rect x="131.4" y="584.8" width="1.6" height="1.6" fill="#000"/>
<rect x="131.8" y="598.5" width="1.6" height="1.6" fill="#000"/>
<rect x="132.3" y="582.5" width="1.6" height="1.6" fill="#000"/>
<rect x="132.8" y="591.1" width="1.6" height="1.6" fill="#000"/>
<rect x="133.5" y="596.7" width="1.6" height="1.6" fill="#000"/>
<rect x="134.0" y="591.7" width="1.6" height="1.6" fill="#000"/>
<rect x="134.4" y="607.7" width="1.6" height="1.6" fill="#000"/>
<rect x="134.8" y="581.5" width="1.6" height="1.6" fill="#000"/>
<rect x="135.4" y="575.7" width="1.6" height="1.6" fill="#000"/>
<rect x="136.1" y="593.3" width="1.6" height="1.6" fill="#000"/>
<rect x="136.7" y="576.0" width="1.6" height="1.6" fill="#000"/>
<rect x="137.2" y="583.4" width="1.6" height="1.6" fill="#000"/>
<rect x="137.8" y="578.8" width="1.6" height="1.6" fill="#000"/>
<rect x="138.5" y="601.5" width="1.6" height="1.6" fill="#000"/>
<rect x="139.1" y="609.7" width="1.6" height="1.6" fill="#000"/>
<rect x="139.6" y="598.6" width="1.6" height="1.6" fill="#000"/>
<rect x="140.0" y="599.4" width="1.6" height="1.6" fill="#000"/>
<rect x="140.5" y="596.7" width="1.6" height="1.6" fill="#000"/>
<rect x="141.0" y="608.8" width="1.6" height="1.6" fill="#000"/>
<rect x="141.5" y="598.6" width="1.6" height="1.6" fill="#000"/>
<rect x="141.9" y="594.2" width="1.6" height="1.6" fill="#000"/>
<rect x="142.4" y="614.0" width="1.6" height="1.6" fill="#000"/>
<rect x="142.8" y="601.9" width="1.6" height="1.6" fill="#000"/>
<rect x="143.3" y="598.1" width="1.6" height="1.6" fill="#000"/>
<rect x="143.9" y="599.5" width="1.6" height="1.6" fill="#000"/>
<rect x="144.5" y="621.0" width="1.6" height="1.6" fill="#000"/>
<rect x="145.0" y="605.8" width="1.6" height="1.6" fill="#000"/>
<rect x="145.4" y="605.0" width="1.6" height="1.6" fill="#000"/>
<rect x="145.8" y="602.9" width="1.6" height="1.6" fill="#000"/>
<rect x="146.4" y="604.2" width="1.6" height="1.6" fill="#000"/>
<rect x="146.9" y="611.0" width="1.6" height="1.6" fill="#000"/>
<rect x="147.3" y="608.4" width="1.6" height="1.6" fill="#000"/>
<rect x="148.0" y="603.5" width="1.6" height="1.6" fill="#000"/>
<rect x="148.4" y="601.9" width="1.6" height="1.6" fill="#000"/>
<rect x="148.9" y="606.7" width="1.6" height="1.6" fill="#000"/>
<rect x="149.5" y="597.8" width="1.6" height="1.6" fill="#000"/>
<rect x="150.0" y="605.5" width="1.6" height="1.6" fill="#000"/>
<rect x="150.7" y="602.5" width="1.6" height="1.6" fill="#000"/>
<rect x="151.3" y="605.9" width="1.6" height="1.6" fill="#000"/>
<rect x="151.8" y="610.3" width="1.6" height="1.6" fill="#000"/>
<rect x="152.3" y="601.9" width="1.6" height="1.6" fill="#000"/>
<rect x="153.0" y="611.2" width="1.6" height="1.6" fill="#000"/>
<rect x="153.7" y="624.1" width="1.6" height="1.6" fill="#000"/>
<rect x="154.1" y="608.2" width="1.6" height="1.6" fill="#000"/>
<rect x="154.6" y="611.8" width="1.6" height="1.6" fill="#000"/>
<rect x="155.3" y="618.7" width="1.6" height="1.6" fill="#000"/>
<rect x="155.7" y="615.9" width="1.6" height="1.6" fill="#000"/>
<rect x="156.3" y="615.8" width="1.6" height="1.6" fill="#000"/>
<rect x="156.7" y="607.2" width="1.6" height="1.6" fill="#000"/>
<rect x="157.2" y="615.7" width="1.6" height="1.6" fill="#000"/>
<rect x="157.8" y="604.8" width="1.6" height="1.6" fill="#000"/>
<rect x="158.3" y="605.3" width="1.6" height="1.6" fill="#000"/>
<rect x="158.9" y="600.8" width="1.6" height="1.6" fill="#000"/>
<rect x="159.6" y="612.9" width="1.6" height="1.6" fill="#000"/>
<rect x="160.1" y="599.5" width="1.6" height="1.6" fill="#000"/>
<rect x="160.6" y="603.0" width="1.6" height="1.6" fill="#000"/>
<rect x="161.2" y="604.3" width="1.6" height="1.6" fill="#000"/>
<rect x="162.0" y="602.2" width="1.6" height="1.6" fill="#000"/>
<rect x="162.4" y="606.9" width="1.6" height="1.6" fill="#000"/>
<rect x="162.9" y="608.7" width="1.6" height="1.6" fill="#000"/>
<rect x="163.4" y="616.3" width="1.6" height="1.6" fill="#000"/>
<rect x="164.1" y="610.3" width="1.6" height="1.6" fill="#000"/>
<rect x="164.5" y="617.9" width="1.6" height="1.6" fill="#000"/>
<rect x="165.0" y="620.5" width="1.6" height="1.6" fill="#000"/>
<rect x="165.6" y="622.5" width="1.6" height="1.6" fill="#000"/>
<rect x="166.0" y="625.2" width="1.6" height="1.6" fill="#000"/>
<rect x="166.4" y="609.1" width="1.6" height="1.6" fill="#000"/>
<rect x="166.8" y="614.2" width="1.6" height="1.6" fill="#000"/>
<rect x="167.4" y="614.2" width="1.6" height="1.6" fill="#000"/>
<rect x="167.9" y="608.1" width="1.6" height="1.6" fill="#000"/>
<rect x="168.6" y="626.1" width="1.6" height="1.6" fill="#000"/>
<rect x="169.0" y="614.0" width="1.6" height="1.6" fill="#000"/>
<rect x="169.7" y="615.7" width="1.6" height="1.6" fill="#000"/>
<rect x="170.3" y="618.6" width="1.6" height="1.6" fill="#000"/>
<rect x="170.9" y="616.4" width="1.6" height="1.6" fill="#000"/>
<rect x="171.4" y="607.6" width="1.6" height="1.6" fill="#000"/>
<rect x="172.1" y="605.9" width="1.6" height="1.6" fill="#000"/>
<rect x="172.7" y="613.1" width="1.6" height="1.6" fill="#000"/>
<rect x="173.3" y="608.4" width="1.6" height="1.6" fill="#000"/>
<rect x="174.0" y="604.6" width="1.6" height="1.6" fill="#000"/>
<rect x="174.4" y="612.9" width="1.6" height="1.6" fill="#000"/>
<rect x="175.0" y="616.6" width="1.6" height="1.6" fill="#000"/>
<rect x="175.5" y="626.8" width="1.6" height="1.6" fill="#000"/>
<rect x="176.0" y="600.3" width="1.6" height="1.6" fill="#000"/>
<rect x="176.8" y="618.9" width="1.6" height="1.6" fill="#000"/>
<rect x="177.4" y="608.9" width="1.6" height="1.6" fill="#000"/>
<rect x="178.0" y="608.6" width="1.6" height="1.6" fill="#000"/>
<rect x="178.7" y="593.8" width="1.6" height="1.6" fill="#000"/>
<rect x="179.1" y="598.8" width="1.6" height="1.6" fill="#000"/>
<rect x="179.5" y="622.2" width="1.6" height="1.6" fill="#000"/>
<rect x="180.0" y="596.7" width="1.6" height="1.6" fill="#000"/>
<rect x="180.7" y="615.9" width="1.6" height="1.6" fill="#000"/>
<rect x="181.2" y="622.3" width="1.6" height="1.6" fill="#000"/>
<rect x="181.8" y="600.1" width="1.6" height="1.6" fill="#000"/>
<rect x="182.3" y="605.2" width="1.6" height="1.6" fill="#000"/>
<rect x="182.9" y="588.1" width="1.6" height="1.6" fill="#000"/>
<rect x="183.4" y="600.4" width="1.6" height="1.6" fill="#000"/>
<rect x="184.0" y="587.8" width="1.6" height="1.6" fill="#000"/>
<rect x="184.7" y="598.3" width="1.6" height="1.6" fill="#000"/>
<rect x="185.3" y="591.7" width="1.6" height="1.6" fill="#000"/>
<rect x="186.0" y="608.0" width="1.6" height="1.6" fill="#000"/>
<rect x="186.4" y="610.4" width="1.6" height="1.6" fill="#000"/>
<rect x="187.2" y="602.9" width="1.6" height="1.6" fill="#000"/>
<rect x="187.7" y="609.5" width="1.6" height="1.6" fill="#000"/>
<rect x="188.2" y="617.4" width="1.6" height="1.6" fill="#000"/>
<rect x="188.8" y="608.1" width="1.6" height="1.6" fill="#000"/>
<rect x="189.4" y="602.7" width="1.6" height="1.6" fill="#000"/>
<rect x="189.8" y="596.7" width="1.6" height="1.6" fill="#000"/>
<rect x="190.3" y="604.6" width="1.6" height="1.6" fill="#000"/>
<rect x="190.7" y="613.8" width="1.6" height="1.6" fill="#000"/>
<rect x="191.4" y="604.8" width="1.6" height="1.6" fill="#000"/>
<rect x="191.8" y="609.5" width="1.6" height="1.6" fill="#000"/>
<rect x="192.3" y="592.9" width="1.6" height="1.6" fill="#000"/>
<rect x="192.8" y="596.4" width="1.6" height="1.6" fill="#000"/>
<rect x="193.3" y="605.9" width="1.6" height="1.6" fill="#000"/>
<rect x="194.0" y="607.6" width="1.6" height="1.6" fill="#000"/>
<rect x="194.4" y="605.7" width="1.6" height="1.6" fill="#000"/>
<rect x="195.0" y="606.1" width="1.6" height="1.6" fill="#000"/>
<rect x="195.5" y="603.6" width="1.6" height="1.6" fill="#000"/>
<rect x="196.2" y="602.7" width="1.6" height="1.6" fill="#000"/>
<rect x="196.7" y="604.2" width="1.6" height="1.6" fill="#000"/>
<rect x="197.3" y="614.3" width="1.6" height="1.6" fill="#000"/>
<rect x="197.7" y="614.4" width="1.6" height="1.6" fill="#000"/>
<rect x="198.1" y="617.2" width="1.6" height="1.6" fill="#000"/>
<rect x="198.6" y="604.4" width="1.6" height="1.6" fill="#000"/>
<rect x="199.1" y="607.6" width="1.6" height="1.6" fill="#000"/>
<rect x="199.5" y="613.2" width="1.6" height="1.6" fill="#000"/>
<rect x="200.2" y="620.5" width="1.6" height="1.6" fill="#000"/>
<rect x="200.7" y="602.7" width="1.6" height="1.6" fill="#000"/>
<rect x="201.4" y="603.5" width="1.6" height="1.6" fill="#000"/>
<rect x="201.9" y="602.3" width="1.6" height="1.6" fill="#000"/>
<rect x="202.6" y="602.5" width="1.6" height="1.6" fill="#000"/>
<rect x="203.3" y="615.9" width="1.6" height="1.6" fill="#000"/>
<rect x="204.0" y="608.2" width="1.6" height="1.6" fill="#000"/>
<rect x="204.7" y="611.4" width="1.6" height="1.6" fill="#000"/>
<rect x="205.4" y="619.7" width="1.6" height="1.6" fill="#000"/>
<rect x="206.0" y="611.8" width="1.6" height="1.6" fill="#000"/>
<rect x="206.5" y="608.2" width="1.6" height="1.6" fill="#000"/>
<rect x="207.1" y="600.1" width="1.6" height="1.6" fill="#000"/>
<rect x="207.6" y="602.7" width="1.6" height="1.6" fill="#000"/>
<rect x="208.1" y="610.0" width="1.6" height="1.6" fill="#000"/>
<rect x="208.8" y="608.7" width="1.6" height="1.6" fill="#000"/>
<rect x="209.2" y="608.3" width="1.6" height="1.6" fill="#000"/>
<rect x="209.8" y="611.3" width="1.6" height="1.6" fill="#000"/>
<rect x="210.5" y="603.3" width="1.6" height="1.6" fill="#000"/>
<rect x="211.1" y="611.6" width="1.6" height="1.6" fill="#000"/>
<rect x="211.5" y="612.3" width="1.6" height="1.6" fill="#000"/>
<rect x="212.0" y="602.7" width="1.6" height="1.6" fill="#000"/>
<rect x="212.4" y="600.1" width="1.6" height="1.6" fill="#000"/>
<rect x="212.9" y="603.9" width="1.6" height="1.6" fill="#000"/>
<rect x="213.4" y="587.0" width="1.6" height="1.6" fill="#000"/>
<rect x="213.9" y="587.0" width="1.6" height="1.6" fill="#000"/>
<rect x="214.4" y="588.4" width="1.6" height="1.6" fill="#000"/>
<rect x="214.8" y="582.7" width="1.6" height="1.6" fill="#000"/>
<rect x="215.3" y="584.4" width="1.6" height="1.6" fill="#000"/>
<rect x="215.7" y="599.2" width="1.6" height="1.6" fill="#000"/>
<rect x="216.4" y="608.1" width="1.6" height="1.6" fill="#000"/>
<rect x="216.8" y="594.0" width="1.6" height="1.6" fill="#000"/>
<rect x="217.6" y="604.2" width="1.6" height="1.6" fill="#000"/>
<rect x="218.0" y="603.7" width="1.6" height="1.6" fill="#000"/>
<rect x="218.7" y="611.2" width="1.6" height="1.6" fill="#000"/>
<rect x="219.3" y="604.9" width="1.6" height="1.6" fill="#000"/>
<rect x="219.9" y="610.0" width="1.6" height="1.6" fill="#000"/>
<rect x="220.5" y="597.8" width="1.6" height="1.6" fill="#000"/>
<rect x="221.2" y="603.4" width="1.6" height="1.6" fill="#000"/>
<rect x="221.8" y="605.6" width="1.6" height="1.6" fill="#000"/>
<rect x="222.2" y="602.9" width="1.6" height="1.6" fill="#000"/>
<rect x="56.8" y="663.2" width="1.5" height="1.5" fill="#444"/>
<rect x="57.7" y="664.2" width="1.5" height="1.5" fill="#444"/>
<rect x="58.5" y="667.6" width="1.5" height="1.5" fill="#444"/>
<rect x="59.3" y="662.3" width="1.5" height="1.5" fill="#444"/>
<rect x="60.2" y="671.5" width="1.5" height="1.5" fill="#444"/>
<rect x="61.1" y="665.5" width="1.5" height="1.5" fill="#444"/>
<rect x="62.0" y="662.9" width="1.5" height="1.5" fill="#444"/>
<rect x="63.0" y="672.0" width="1.5" height="1.5" fill="#444"/>
<rect x="63.8" y="654.2" width="1.5" height="1.5" fill="#444"/>
<rect x="64.8" y="670.2" width="1.5" height="1.5" fill="#444"/>
<rect x="65.7" y="654.3" width="1.5" height="1.5" fill="#444"/>
<rect x="66.5" y="657.5" width="1.5" height="1.5" fill="#444"/>
<rect x="67.1" y="654.3" width="1.5" height="1.5" fill="#444"/>
<rect x="68.0" y="673.0" width="1.5" height="1.5" fill="#444"/>
<rect x="69.0" y="663.4" width="1.5" height="1.5" fill="#444"/>
<rect x="70.1" y="658.8" width="1.5" height="1.5" fill="#444"/>
<rect x="71.0" y="667.2" width="1.5" height="1.5" fill="#444"/>
<rect x="72.1" y="677.4" width="1.5" height="1.5" fill="#444"/>
<rect x="73.2" y="662.2" width="1.5" height="1.5" fill="#444"/>
<rect x="73.9" y="659.6" width="1.5" height="1.5" fill="#444"/>
<rect x="74.7" y="667.2" width="1.5" height="1.5" fill="#444"/>
<rect x="75.7" y="675.7" width="1.5" height="1.5" fill="#444"/>
<rect x="76.4" y="664.5" width="1.5" height="1.5" fill="#444"/>
<rect x="77.0" y="667.0" width="1.5" height="1.5" fill="#444"/>
<rect x="78.0" y="668.9" width="1.5" height="1.5" fill="#444"/>
<rect x="78.7" y="660.1" width="1.5" height="1.5" fill="#444"/>
<rect x="79.7" y="660.8" width="1.5" height="1.5" fill="#444"/>
<rect x="80.5" y="656.8" width="1.5" height="1.5" fill="#444"/>
<rect x="81.5" y="675.5" width="1.5" height="1.5" fill="#444"/>
<rect x="82.3" y="675.9" width="1.5" height="1.5" fill="#444"/>
<rect x="82.9" y="670.5" width="1.5" height="1.5" fill="#444"/>
<rect x="83.9" y="658.3" width="1.5" height="1.5" fill="#444"/>
<rect x="84.5" y="672.8" width="1.5" height="1.5" fill="#444"/>
<rect x="85.3" y="657.7" width="1.5" height="1.5" fill="#444"/>
<rect x="86.2" y="656.4" width="1.5" height="1.5" fill="#444"/>
<rect x="86.8" y="654.3" width="1.5" height="1.5" fill="#444"/>
<rect x="87.4" y="662.2" width="1.5" height="1.5" fill="#444"/>
<rect x="88.5" y="660.0" width="1.5" height="1.5" fill="#444"/>
<rect x="89.1" y="661.3" width="1.5" height="1.5" fill="#444"/>
<rect x="89.9" y="673.3" width="1.5" height="1.5" fill="#444"/>
<rect x="90.7" y="668.8" width="1.5" height="1.5" fill="#444"/>
<rect x="91.6" y="669.7" width="1.5" height="1.5" fill="#444"/>
<rect x="92.4" y="661.2" width="1.5" height="1.5" fill="#444"/>
<rect x="93.1" y="672.9" width="1.5" height="1.5" fill="#444"/>
<rect x="94.0" y="666.6" width="1.5" height="1.5" fill="#444"/>
<rect x="94.7" y="673.7" width="1.5" height="1.5" fill="#444"/>
<rect x="95.7" y="663.7" width="1.5" height="1.5" fill="#444"/>
<rect x="96.5" y="672.8" width="1.5" height="1.5" fill="#444"/>
<rect x="97.6" y="662.0" width="1.5" height="1.5" fill="#444"/>
<rect x="98.5" y="670.1" width="1.5" height="1.5" fill="#444"/>
<rect x="99.3" y="669.2" width="1.5" height="1.5" fill="#444"/>
<rect x="99.9" y="663.9" width="1.5" height="1.5" fill="#444"/>
<rect x="100.7" y="659.0" width="1.5" height="1.5" fill="#444"/>
<rect x="101.5" y="668.5" width="1.5" height="1.5" fill="#444"/>
<rect x="102.3" y="655.7" width="1.5" height="1.5" fill="#444"/>
<rect x="103.0" y="662.4" width="1.5" height="1.5" fill="#444"/>
<rect x="103.7" y="665.8" width="1.5" height="1.5" fill="#444"/>
<rect x="104.4" y="657.7" width="1.5" height="1.5" fill="#444"/>
<rect x="105.1" y="658.3" width="1.5" height="1.5" fill="#444"/>
<rect x="106.1" y="669.5" width="1.5" height="1.5" fill="#444"/>
<rect x="107.1" y="671.4" width="1.5" height="1.5" fill="#444"/>
<rect x="108.1" y="665.8" width="1.5" height="1.5" fill="#444"/>
<rect x="108.9" y="679.2" width="1.5" height="1.5" fill="#444"/>
<rect x="109.7" y="674.6" width="1.5" height="1.5" fill="#444"/>
<rect x="110.5" y="655.4" width="1.5" height="1.5" fill="#444"/>
<rect x="111.2" y="663.5" width="1.5" height="1.5" fill="#444"/>
<rect x="112.1" y="676.1" width="1.5" height="1.5" fill="#444"/>
<rect x="112.9" y="678.9" width="1.5" height="1.5" fill="#444"/>
<rect x="113.9" y="676.3" width="1.5" height="1.5" fill="#444"/>
<rect x="114.7" y="674.2" width="1.5" height="1.5" fill="#444"/>
<rect x="115.7" y="659.0" width="1.5" height="1.5" fill="#444"/>
<rect x="116.6" y="668.3" width="1.5" height="1.5" fill="#444"/>
<rect x="117.2" y="657.4" width="1.5" height="1.5" fill="#444"/>
<rect x="117.8" y="673.1" width="1.5" height="1.5" fill="#444"/>
<rect x="118.6" y="662.7" width="1.5" height="1.5" fill="#444"/>
<rect x="119.5" y="673.2" width="1.5" height="1.5" fill="#444"/>
<rect x="120.5" y="655.6" width="1.5" height="1.5" fill="#444"/>
<rect x="121.1" y="664.9" width="1.5" height="1.5" fill="#444"/>
<rect x="121.9" y="672.0" width="1.5" height="1.5" fill="#444"/>
<rect x="122.7" y="672.9" width="1.5" height="1.5" fill="#444"/>
<rect x="123.6" y="665.2" width="1.5" height="1.5" fill="#444"/>
<rect x="124.7" y="654.7" width="1.5" height="1.5" fill="#444"/>
<rect x="125.8" y="670.1" width="1.5" height="1.5" fill="#444"/>
<rect x="126.8" y="663.5" width="1.5" height="1.5" fill="#444"/>
<rect x="127.8" y="654.1" width="1.5" height="1.5" fill="#444"/>
<rect x="128.4" y="667.8" width="1.5" height="1.5" fill="#444"/>
<rect x="129.1" y="663.0" width="1.5" height="1.5" fill="#444"/>
<rect x="129.8" y="654.3" width="1.5" height="1.5" fill="#444"/>
<rect x="130.5" y="669.4" width="1.5" height="1.5" fill="#444"/>
<rect x="131.1" y="668.7" width="1.5" height="1.5" fill="#444"/>
<rect x="132.1" y="674.3" width="1.5" height="1.5" fill="#444"/>
<rect x="132.7" y="662.6" width="1.5" height="1.5" fill="#444"/>
<rect x="133.6" y="660.3" width="1.5" height="1.5" fill="#444"/>
<rect x="134.3" y="658.6" width="1.5" height="1.5" fill="#444"/>
<rect x="135.2" y="659.5" width="1.5" height="1.5" fill="#444"/>
<rect x="135.9" y="666.6" width="1.5" height="1.5" fill="#444"/>
<rect x="136.4" y="657.5" width="1.5" height="1.5" fill="#444"/>
<rect x="137.5" y="656.7" width="1.5" height="1.5" fill="#444"/>
<rect x="138.1" y="669.6" width="1.5" height="1.5" fill="#444"/>
<rect x="138.9" y="665.7" width="1.5" height="1.5" fill="#444"/>
<rect x="139.5" y="659.5" width="1.5" height="1.5" fill="#444"/>
<rect x="140.2" y="666.5" width="1.5" height="1.5" fill="#444"/>
<rect x="140.9" y="665.2" width="1.5" height="1.5" fill="#444"/>
<rect x="141.5" y="675.6" width="1.5" height="1.5" fill="#444"/>
<rect x="142.3" y="671.8" width="1.5" height="1.5" fill="#444"/>
<rect x="143.3" y="673.1" width="1.5" height="1.5" fill="#444"/>
<rect x="144.1" y="677.0" width="1.5" height="1.5" fill="#444"/>
<rect x="144.8" y="668.7" width="1.5" height="1.5" fill="#444"/>
<rect x="145.6" y="668.6" width="1.5" height="1.5" fill="#444"/>
<rect x="146.6" y="676.8" width="1.5" height="1.5" fill="#444"/>
<rect x="147.7" y="676.1" width="1.5" height="1.5" fill="#444"/>
<rect x="148.8" y="667.5" width="1.5" height="1.5" fill="#444"/>
<rect x="149.5" y="665.3" width="1.5" height="1.5" fill="#444"/>
<rect x="150.6" y="655.1" width="1.5" height="1.5" fill="#444"/>
<rect x="151.3" y="679.8" width="1.5" height="1.5" fill="#444"/>
<rect x="152.0" y="659.6" width="1.5" height="1.5" fill="#444"/>
<rect x="152.9" y="662.8" width="1.5" height="1.5" fill="#444"/>
<rect x="153.6" y="668.2" width="1.5" height="1.5" fill="#444"/>
<rect x="154.1" y="679.0" width="1.5" height="1.5" fill="#444"/>
<rect x="154.9" y="655.1" width="1.5" height="1.5" fill="#444"/>
<rect x="155.8" y="659.0" width="1.5" height="1.5" fill="#444"/>
<rect x="156.3" y="672.1" width="1.5" height="1.5" fill="#444"/>
<rect x="156.9" y="676.5" width="1.5" height="1.5" fill="#444"/>
<rect x="157.5" y="656.7" width="1.5" height="1.5" fill="#444"/>
<rect x="158.3" y="670.5" width="1.5" height="1.5" fill="#444"/>
<rect x="159.2" y="657.9" width="1.5" height="1.5" fill="#444"/>
<rect x="160.3" y="668.5" width="1.5" height="1.5" fill="#444"/>
<rect x="161.1" y="657.4" width="1.5" height="1.5" fill="#444"/>
<rect x="161.9" y="676.9" width="1.5" height="1.5" fill="#444"/>
<rect x="162.8" y="677.7" width="1.5" height="1.5" fill="#444"/>
<rect x="163.6" y="672.6" width="1.5" height="1.5" fill="#444"/>
<rect x="164.4" y="674.4" width="1.5" height="1.5" fill="#444"/>
<rect x="165.2" y="671.6" width="1.5" height="1.5" fill="#444"/>
<rect x="165.8" y="659.5" width="1.5" height="1.5" fill="#444"/>
<rect x="166.4" y="669.0" width="1.5" height="1.5" fill="#444"/>
<rect x="167.2" y="672.5" width="1.5" height="1.5" fill="#444"/>
<rect x="167.9" y="679.7" width="1.5" height="1.5" fill="#444"/>
<rect x="168.6" y="674.4" width="1.5" height="1.5" fill="#444"/>
<rect x="169.5" y="676.2" width="1.5" height="1.5" fill="#444"/>
<rect x="170.4" y="669.3" width="1.5" height="1.5" fill="#444"/>
<rect x="171.0" y="671.3" width="1.5" height="1.5" fill="#444"/>
<rect x="172.1" y="679.7" width="1.5" height="1.5" fill="#444"/>
<rect x="172.9" y="655.2" width="1.5" height="1.5" fill="#444"/>
<rect x="173.7" y="665.5" width="1.5" height="1.5" fill="#444"/>
<rect x="174.5" y="672.9" width="1.5" height="1.5" fill="#444"/>
<rect x="175.3" y="665.5" width="1.5" height="1.5" fill="#444"/>
<rect x="176.1" y="667.7" width="1.5" height="1.5" fill="#444"/>
<rect x="176.9" y="660.8" width="1.5" height="1.5" fill="#444"/>
<rect x="177.5" y="676.2" width="1.5" height="1.5" fill="#444"/>
<rect x="178.2" y="672.4" width="1.5" height="1.5" fill="#444"/>
<rect x="179.2" y="668.6" width="1.5" height="1.5" fill="#444"/>
<rect x="180.2" y="669.0" width="1.5" height="1.5" fill="#444"/>
<rect x="180.9" y="662.4" width="1.5" height="1.5" fill="#444"/>
<rect x="181.5" y="654.4" width="1.5" height="1.5" fill="#444"/>
<rect x="182.5" y="670.9" width="1.5" height="1.5" fill="#444"/>
<rect x="183.2" y="658.9" width="1.5" height="1.5" fill="#444"/>
<rect x="184.2" y="663.6" width="1.5" height="1.5" fill="#444"/>
<rect x="184.8" y="660.5" width="1.5" height="1.5" fill="#444"/>
<rect x="185.4" y="664.2" width="1.5" height="1.5" fill="#444"/>
<rect x="186.2" y="656.1" width="1.5" height="1.5" fill="#444"/>
<rect x="187.2" y="677.7" width="1.5" height="1.5" fill="#444"/>
<rect x="188.2" y="661.0" width="1.5" height="1.5" fill="#444"/>
<rect x="189.1" y="678.3" width="1.5" height="1.5" fill="#444"/>
<rect x="190.1" y="669.9" width="1.5" height="1.5" fill="#444"/>
<rect x="191.0" y="654.5" width="1.5" height="1.5" fill="#444"/>
<rect x="192.0" y="677.8" width="1.5" height="1.5" fill="#444"/>
<rect x="193.0" y="669.7" width="1.5" height="1.5" fill="#444"/>
<rect x="194.0" y="671.4" width="1.5" height="1.5" fill="#444"/>
<rect x="194.8" y="670.0" width="1.5" height="1.5" fill="#444"/>
<rect x="195.4" y="673.1" width="1.5" height="1.5" fill="#444"/>
<rect x="196.4" y="678.7" width="1.5" height="1.5" fill="#444"/>
<rect x="197.0" y="659.1" width="1.5" height="1.5" fill="#444"/>
<rect x="197.9" y="667.4" width="1.5" height="1.5" fill="#444"/>
<rect x="198.5" y="678.2" width="1.5" height="1.5" fill="#444"/>
<rect x="199.2" y="655.4" width="1.5" height="1.5" fill="#444"/>
<rect x="200.1" y="656.4" width="1.5" height="1.5" fill="#444"/>
<rect x="200.8" y="670.9" width="1.5" height="1.5" fill="#444"/>
<rect x="201.6" y="658.9" width="1.5" height="1.5" fill="#444"/>
<rect x="202.2" y="657.8" width="1.5" height="1.5" fill="#444"/>
<rect x="203.0" y="679.2" width="1.5" height="1.5" fill="#444"/>
<rect x="203.8" y="671.6" width="1.5" height="1.5" fill="#444"/>
<rect x="204.8" y="656.2" width="1.5" height="1.5" fill="#444"/>
<rect x="205.6" y="663.1" width="1.5" height="1.5" fill="#444"/>
<rect x="206.4" y="660.5" width="1.5" height="1.5" fill="#444"/>
<rect x="207.0" y="661.6" width="1.5" height="1.5" fill="#444"/>
<rect x="207.6" y="665.9" width="1.5" height="1.5" fill="#444"/>
<rect x="208.3" y="672.0" width="1.5" height="1.5" fill="#444"/>
<rect x="208.9" y="671.8" width="1.5" height="1.5" fill="#444"/>
<rect x="209.8" y="667.5" width="1.5" height="1.5" fill="#444"/>
<rect x="210.6" y="666.0" width="1.5" height="1.5" fill="#444"/>
<rect x="211.6" y="671.4" width="1.5" height="1.5" fill="#444"/>
<rect x="212.4" y="668.3" width="1.5" height="1.5" fill="#444"/>
<rect x="213.5" y="672.0" width="1.5" height="1.5" fill="#444"/>
<rect x="214.5" y="674.3" width="1.5" height="1.5" fill="#444"/>
<rect x="215.2" y="661.8" width="1.5" height="1.5" fill="#444"/>
<rect x="216.0" y="674.1" width="1.5" height="1.5" fill="#444"/>
<rect x="216.6" y="659.2" width="1.5" height="1.5" fill="#444"/>
<rect x="217.4" y="662.3" width="1.5" height="1.5" fill="#444"/>
<rect x="218.2" y="665.1" width="1.5" height="1.5" fill="#444"/>
<rect x="219.0" y="654.7" width="1.5" height="1.5" fill="#444"/>
<rect x="220.1" y="669.7" width="1.5" height="1.5" fill="#444"/>
<rect x="220.9" y="675.5" width="1.5" height="1.5" fill="#444"/>
<rect x="221.9" y="678.4" width="1.5" height="1.5" fill="#444"/>
<path d="M57.5 644.7L60.8 650.4L54.3 650.4Z" fill="#eee" stroke="#333" stroke-width="0.9"/>
<path d="M59.4 646.3L62.6 651.9L56.1 651.9Z" fill="#eee" stroke="#333" stroke-width="0.9"/>
<path d="M61.2 648.9L64.5 654.5L58.0 654.5Z" fill="#eee" stroke="#333" stroke-width="0.9"/>
<path d="M62.1 649.2L65.1 654.4L59.1 654.4Z" fill="#f4f4f4" stroke="#555" stroke-width="0.8"/>
<path d="M63.0 638.7L66.3 644.3L59.8 644.3Z" fill="#eee" stroke="#333" stroke-width="0.9"/>
<path d="M64.9 647.5L68.1 653.1L61.6 653.1Z" fill="#eee" stroke="#333" stroke-width="0.9"/>
<path d="M65.8 647.2L68.8 652.4L62.8 652.4Z" fill="#f4f4f4" stroke="#555" stroke-width="0.8"/>
<path d="M66.7 648.2L70.0 653.8L63.5 653.8Z" fill="#eee" stroke="#333" stroke-width="0.9"/>
<path d="M67.6 654.1L70.6 659.4L64.6 659.4Z" fill="#f4f4f4" stroke="#555" stroke-width="0.8"/>
<path d="M68.6 646.6L71.8 652.2L65.3 652.2Z" fill="#eee" stroke="#333" stroke-width="0.9"/>
<path d="M69.5 647.3L72.5 652.5L66.5 652.5Z" fill="#f4f4f4" stroke="#555" stroke-width="0.8"/>
<path d="M70.4 650.8L73.7 656.4L67.2 656.4Z" fill="#eee" stroke="#333" stroke-width="0.9"/>
<path d="M72.2 639.8L75.5 645.4L69.0 645.4Z" fill="#eee" stroke="#333" stroke-width="0.9"/>
<path d="M73.2 651.2L76.2 656.4L70.2 656.4Z" fill="#f4f4f4" stroke="#555" stroke-width="0.8"/>
<path d="M74.1 639.1L77.3 644.8L70.8 644.8Z" fill="#eee" stroke="#333" stroke-width="0.9"/>
<path d="M75.0 650.1L78.0 655.3L72.0 655.3Z" fill="#f4f4f4" stroke="#555" stroke-width="0.8"/>
<path d="M75.9 641.2L79.2 646.9L72.7 646.9Z" fill="#eee" stroke="#333" stroke-width="0.9"/>
<path d="M76.8 653.8L79.8 659.0L73.8 659.0Z" fill="#f4f4f4" stroke="#555" stroke-width="0.8"/>
<path d="M77.8 645.3L81.0 651.0L74.5 651.0Z" fill="#eee" stroke="#333" stroke-width="0.9"/>
<path d="M79.6 644.5L82.8 650.2L76.3 650.2Z" fill="#eee" stroke="#333" stroke-width="0.9"/>
<path d="M80.5 648.8L83.5 654.0L77.5 654.0Z" fill="#f4f4f4" stroke="#555" stroke-width="0.8"/>
<path d="M81.4 642.3L84.7 648.0L78.2 648.0Z" fill="#eee" stroke="#333" stroke-width="0.9"/>
<path d="M82.4 651.6L85.4 656.8L79.4 656.8Z" fill="#f4f4f4" stroke="#555" stroke-width="0.8"/>
<path d="M83.3 645.0L86.5 650.7L80.0 650.7Z" fill="#eee" stroke="#333" stroke-width="0.9"/>
<path d="M84.2 648.8L87.2 654.0L81.2 654.0Z" fill="#f4f4f4" stroke="#555" stroke-width="0.8"/>
<path d="M85.1 640.5L88.4 646.2L81.9 646.2Z" fill="#eee" stroke="#333" stroke-width="0.9"/>
<path d="M87.0 641.0L90.2 646.6L83.7 646.6Z" fill="#eee" stroke="#333" stroke-width="0.9"/>
<path d="M88.8 638.5L92.1 644.1L85.6 644.1Z" fill="#eee" stroke="#333" stroke-width="0.9"/>
<path d="M90.6 651.8L93.9 657.5L87.4 657.5Z" fill="#eee" stroke="#333" stroke-width="0.9"/>
<path d="M92.5 647.2L95.7 652.8L89.2 652.8Z" fill="#eee" stroke="#333" stroke-width="0.9"/>
<path d="M94.3 639.1L97.6 644.8L91.1 644.8Z" fill="#eee" stroke="#333" stroke-width="0.9"/>
<path d="M95.2 651.8L98.2 657.0L92.2 657.0Z" fill="#f4f4f4" stroke="#555" stroke-width="0.8"/>
<path d="M96.2 636.2L99.4 641.9L92.9 641.9Z" fill="#eee" stroke="#333" stroke-width="0.9"/>
<path d="M97.1 644.2L100.1 649.4L94.1 649.4Z" fill="#f4f4f4" stroke="#555" stroke-width="0.8"/>
<path d="M98.0 644.7L101.2 650.3L94.8 650.3Z" fill="#eee" stroke="#333" stroke-width="0.9"/>
<path d="M98.9 651.2L101.9 656.4L95.9 656.4Z" fill="#f4f4f4" stroke="#555" stroke-width="0.8"/>
<path d="M99.8 649.9L103.1 655.6L96.6 655.6Z" fill="#eee" stroke="#333" stroke-width="0.9"/>
<path d="M101.7 640.5L104.9 646.2L98.4 646.2Z" fill="#eee" stroke="#333" stroke-width="0.9"/>
<path d="M103.5 648.8L106.8 654.5L100.3 654.5Z" fill="#eee" stroke="#333" stroke-width="0.9"/>
<path d="M104.4 649.6L107.4 654.8L101.4 654.8Z" fill="#f4f4f4" stroke="#555" stroke-width="0.8"/>
<path d="M105.4 643.5L108.6 649.1L102.1 649.1Z" fill="#eee" stroke="#333" stroke-width="0.9"/>
<path d="M107.2 646.0L110.5 651.6L104.0 651.6Z" fill="#eee" stroke="#333" stroke-width="0.9"/>
<path d="M109.0 637.4L112.3 643.0L105.8 643.0Z" fill="#eee" stroke="#333" stroke-width="0.9"/>
<path d="M110.0 643.5L113.0 648.7L107.0 648.7Z" fill="#f4f4f4" stroke="#555" stroke-width="0.8"/>
<path d="M110.9 647.3L114.1 652.9L107.6 652.9Z" fill="#eee" stroke="#333" stroke-width="0.9"/>
<path d="M112.7 646.2L116.0 651.8L109.5 651.8Z" fill="#eee" stroke="#333" stroke-width="0.9"/>
<path d="M113.6 646.7L116.6 651.9L110.6 651.9Z" fill="#f4f4f4" stroke="#555" stroke-width="0.8"/>
<path d="M114.6 646.4L117.8 652.1L111.3 652.1Z" fill="#eee" stroke="#333" stroke-width="0.9"/>
<path d="M116.4 644.4L119.7 650.1L113.2 650.1Z" fill="#eee" stroke="#333" stroke-width="0.9"/>
<path d="M118.2 644.9L121.5 650.6L115.0 650.6Z" fill="#eee" stroke="#333" stroke-width="0.9"/>
<path d="M120.1 648.6L123.3 654.2L116.8 654.2Z" fill="#eee" stroke="#333" stroke-width="0.9"/>
<path d="M121.9 652.8L125.2 658.5L118.7 658.5Z" fill="#eee" stroke="#333" stroke-width="0.9"/>
<path d="M123.8 640.9L127.0 646.5L120.5 646.5Z" fill="#eee" stroke="#333" stroke-width="0.9"/>
<path d="M124.7 645.2L127.7 650.4L121.7 650.4Z" fill="#f4f4f4" stroke="#555" stroke-width="0.8"/>
<path d="M125.6 649.2L128.9 654.8L122.4 654.8Z" fill="#eee" stroke="#333" stroke-width="0.9"/>
<path d="M126.5 648.6L129.5 653.8L123.5 653.8Z" fill="#f4f4f4" stroke="#555" stroke-width="0.8"/>
<path d="M127.4 643.3L130.7 648.9L124.2 648.9Z" fill="#eee" stroke="#333" stroke-width="0.9"/>
<path d="M128.4 640.9L131.4 646.2L125.4 646.2Z" fill="#f4f4f4" stroke="#555" stroke-width="0.8"/>
<path d="M129.3 647.0L132.5 652.7L126.0 652.7Z" fill="#eee" stroke="#333" stroke-width="0.9"/>
<path d="M130.2 647.7L133.2 652.9L127.2 652.9Z" fill="#f4f4f4" stroke="#555" stroke-width="0.8"/>
<path d="M131.1 655.7L134.4 661.3L127.9 661.3Z" fill="#eee" stroke="#333" stroke-width="0.9"/>
<path d="M133.0 649.3L136.2 654.9L129.7 654.9Z" fill="#eee" stroke="#333" stroke-width="0.9"/>
<path d="M133.9 649.2L136.9 654.4L130.9 654.4Z" fill="#f4f4f4" stroke="#555" stroke-width="0.8"/>
<path d="M134.8 641.8L138.1 647.5L131.6 647.5Z" fill="#eee" stroke="#333" stroke-width="0.9"/>
<path d="M136.6 634.9L139.9 640.6L133.4 640.6Z" fill="#eee" stroke="#333" stroke-width="0.9"/>
<path d="M138.5 649.6L141.7 655.2L135.2 655.2Z" fill="#eee" stroke="#333" stroke-width="0.9"/>
<path d="M140.3 639.3L143.6 644.9L137.1 644.9Z" fill="#eee" stroke="#333" stroke-width="0.9"/>
<path d="M141.2 656.4L144.2 661.6L138.2 661.6Z" fill="#f4f4f4" stroke="#555" stroke-width="0.8"/>
<path d="M142.2 650.9L145.4 656.5L138.9 656.5Z" fill="#eee" stroke="#333" stroke-width="0.9"/>
<path d="M144.0 645.0L147.2 650.7L140.8 650.7Z" fill="#eee" stroke="#333" stroke-width="0.9"/>
<path d="M145.8 652.6L149.1 658.3L142.6 658.3Z" fill="#eee" stroke="#333" stroke-width="0.9"/>
<path d="M146.8 655.0L149.8 660.2L143.8 660.2Z" fill="#f4f4f4" stroke="#555" stroke-width="0.8"/>
<path d="M147.7 655.7L150.9 661.4L144.4 661.4Z" fill="#eee" stroke="#333" stroke-width="0.9"/>
<path d="M148.6 649.3L151.6 654.5L145.6 654.5Z" fill="#f4f4f4" stroke="#555" stroke-width="0.8"/>
<path d="M149.5 639.0L152.8 644.7L146.3 644.7Z" fill="#eee" stroke="#333" stroke-width="0.9"/>
<path d="M151.4 640.0L154.6 645.6L148.1 645.6Z" fill="#eee" stroke="#333" stroke-width="0.9"/>
<path d="M152.3 639.2L155.3 644.4L149.3 644.4Z" fill="#f4f4f4" stroke="#555" stroke-width="0.8"/>
<path d="M153.2 643.8L156.4 649.5L149.9 649.5Z" fill="#eee" stroke="#333" stroke-width="0.9"/>
<path d="M155.0 650.7L158.3 656.4L151.8 656.4Z" fill="#eee" stroke="#333" stroke-width="0.9"/>
<path d="M156.9 646.0L160.1 651.7L153.6 651.7Z" fill="#eee" stroke="#333" stroke-width="0.9"/>
<path d="M158.7 643.8L162.0 649.5L155.5 649.5Z" fill="#eee" stroke="#333" stroke-width="0.9"/>
<path d="M160.6 645.3L163.8 651.0L157.3 651.0Z" fill="#eee" stroke="#333" stroke-width="0.9"/>
<path d="M162.4 643.2L165.7 648.9L159.2 648.9Z" fill="#eee" stroke="#333" stroke-width="0.9"/>
<path d="M163.3 652.0L166.3 657.2L160.3 657.2Z" fill="#f4f4f4" stroke="#555" stroke-width="0.8"/>
<path d="M164.2 645.8L167.5 651.4L161.0 651.4Z" fill="#eee" stroke="#333" stroke-width="0.9"/>
<path d="M166.1 644.8L169.3 650.4L162.8 650.4Z" fill="#eee" stroke="#333" stroke-width="0.9"/>
<path d="M167.0 652.8L170.0 658.0L164.0 658.0Z" fill="#f4f4f4" stroke="#555" stroke-width="0.8"/>
<path d="M167.9 647.9L171.2 653.6L164.7 653.6Z" fill="#eee" stroke="#333" stroke-width="0.9"/>
<path d="M168.8 650.2L171.8 655.4L165.8 655.4Z" fill="#f4f4f4" stroke="#555" stroke-width="0.8"/>
<path d="M169.8 649.4L173.0 655.1L166.5 655.1Z" fill="#eee" stroke="#333" stroke-width="0.9"/>
<path d="M170.7 645.7L173.7 650.9L167.7 650.9Z" fill="#f4f4f4" stroke="#555" stroke-width="0.8"/>
<path d="M171.6 647.1L174.9 652.7L168.4 652.7Z" fill="#eee" stroke="#333" stroke-width="0.9"/>
<path d="M172.5 648.0L175.5 653.2L169.5 653.2Z" fill="#f4f4f4" stroke="#555" stroke-width="0.8"/>
<path d="M173.4 640.6L176.7 646.3L170.2 646.3Z" fill="#eee" stroke="#333" stroke-width="0.9"/>
<path d="M175.3 646.9L178.5 652.5L172.0 652.5Z" fill="#eee" stroke="#333" stroke-width="0.9"/>
<path d="M177.1 642.7L180.4 648.4L173.9 648.4Z" fill="#eee" stroke="#333" stroke-width="0.9"/>
<path d="M178.0 651.4L181.0 656.6L175.0 656.6Z" fill="#f4f4f4" stroke="#555" stroke-width="0.8"/>
<path d="M179.0 645.8L182.2 651.5L175.7 651.5Z" fill="#eee" stroke="#333" stroke-width="0.9"/>
<path d="M180.8 644.2L184.1 649.8L177.6 649.8Z" fill="#eee" stroke="#333" stroke-width="0.9"/>
<path d="M181.7 644.7L184.7 650.0L178.7 650.0Z" fill="#f4f4f4" stroke="#555" stroke-width="0.8"/>
<path d="M182.6 648.5L185.9 654.2L179.4 654.2Z" fill="#eee" stroke="#333" stroke-width="0.9"/>
<path d="M184.5 639.5L187.7 645.2L181.2 645.2Z" fill="#eee" stroke="#333" stroke-width="0.9"/>
<path d="M186.3 647.0L189.6 652.6L183.1 652.6Z" fill="#eee" stroke="#333" stroke-width="0.9"/>
<path d="M188.2 645.8L191.4 651.4L184.9 651.4Z" fill="#eee" stroke="#333" stroke-width="0.9"/>
<path d="M189.1 646.9L192.1 652.1L186.1 652.1Z" fill="#f4f4f4" stroke="#555" stroke-width="0.8"/>
<path d="M190.0 641.2L193.2 646.8L186.8 646.8Z" fill="#eee" stroke="#333" stroke-width="0.9"/>
<path d="M191.8 648.0L195.1 653.7L188.6 653.7Z" fill="#eee" stroke="#333" stroke-width="0.9"/>
<path d="M193.7 642.5L196.9 648.2L190.4 648.2Z" fill="#eee" stroke="#333" stroke-width="0.9"/>
<path d="M195.5 647.0L198.8 652.7L192.3 652.7Z" fill="#eee" stroke="#333" stroke-width="0.9"/>
<path d="M197.4 643.9L200.6 649.6L194.1 649.6Z" fill="#eee" stroke="#333" stroke-width="0.9"/>
<path d="M199.2 649.2L202.5 654.8L196.0 654.8Z" fill="#eee" stroke="#333" stroke-width="0.9"/>
<path d="M200.1 640.8L203.1 646.0L197.1 646.0Z" fill="#f4f4f4" stroke="#555" stroke-width="0.8"/>
<path d="M201.0 646.6L204.3 652.3L197.8 652.3Z" fill="#eee" stroke="#333" stroke-width="0.9"/>
<path d="M202.9 640.0L206.1 645.6L199.6 645.6Z" fill="#eee" stroke="#333" stroke-width="0.9"/>
<path d="M203.8 647.5L206.8 652.8L200.8 652.8Z" fill="#f4f4f4" stroke="#555" stroke-width="0.8"/>
<path d="M204.7 646.0L208.0 651.6L201.5 651.6Z" fill="#eee" stroke="#333" stroke-width="0.9"/>
<path d="M205.6 649.1L208.6 654.3L202.6 654.3Z" fill="#f4f4f4" stroke="#555" stroke-width="0.8"/>
<path d="M206.6 644.3L209.8 650.0L203.3 650.0Z" fill="#eee" stroke="#333" stroke-width="0.9"/>
<path d="M208.4 643.6L211.7 649.3L205.2 649.3Z" fill="#eee" stroke="#333" stroke-width="0.9"/>
<path d="M210.2 643.2L213.5 648.8L207.0 648.8Z" fill="#eee" stroke="#333" stroke-width="0.9"/>
<path d="M212.1 641.9L215.3 647.6L208.8 647.6Z" fill="#eee" stroke="#333" stroke-width="0.9"/>
<path d="M213.9 646.9L217.2 652.6L210.7 652.6Z" fill="#eee" stroke="#333" stroke-width="0.9"/>
<path d="M214.8 650.4L217.8 655.6L211.8 655.6Z" fill="#f4f4f4" stroke="#555" stroke-width="0.8"/>
<path d="M215.8 655.1L219.0 660.7L212.5 660.7Z" fill="#eee" stroke="#333" stroke-width="0.9"/>
<path d="M216.7 643.2L219.7 648.4L213.7 648.4Z" fill="#f4f4f4" stroke="#555" stroke-width="0.8"/>
<path d="M217.6 640.7L220.8 646.3L214.3 646.3Z" fill="#eee" stroke="#333" stroke-width="0.9"/>
<path d="M219.4 646.8L222.7 652.5L216.2 652.5Z" fill="#eee" stroke="#333" stroke-width="0.9"/>
<path d="M220.4 659.2L223.4 664.4L217.4 664.4Z" fill="#f4f4f4" stroke="#555" stroke-width="0.8"/>
<path d="M221.3 646.8L224.5 652.5L218.0 652.5Z" fill="#eee" stroke="#333" stroke-width="0.9"/>
<path d="M222.2 646.2L225.2 651.4L219.2 651.4Z" fill="#f4f4f4" stroke="#555" stroke-width="0.8"/>
<path d="M223.1 643.9L226.4 649.5L219.9 649.5Z" fill="#eee" stroke="#333" stroke-width="0.9"/>
<path d="M224.0 648.5L227.0 653.8L221.0 653.8Z" fill="#f4f4f4" stroke="#555" stroke-width="0.8"/>
<circle cx="57.5" cy="633.6" r="2.5" fill="none" stroke="#000" stroke-width="1.6"/>
<circle cx="59.4" cy="634.6" r="2.5" fill="none" stroke="#000" stroke-width="1.6"/>
<circle cx="61.2" cy="640.6" r="2.5" fill="none" stroke="#000" stroke-width="1.6"/>
<circle cx="63.0" cy="633.4" r="2.5" fill="none" stroke="#000" stroke-width="1.6"/>
<circle cx="64.9" cy="647.6" r="2.5" fill="none" stroke="#000" stroke-width="1.6"/>
<circle cx="68.6" cy="642.8" r="2.5" fill="none" stroke="#000" stroke-width="1.6"/>
<circle cx="72.2" cy="641.9" r="2.5" fill="none" stroke="#000" stroke-width="1.6"/>
<circle cx="74.1" cy="653.8" r="2.5" fill="none" stroke="#000" stroke-width="1.6"/>
<circle cx="75.9" cy="644.4" r="2.5" fill="none" stroke="#000" stroke-width="1.6"/>
<circle cx="77.8" cy="634.3" r="2.5" fill="none" stroke="#000" stroke-width="1.6"/>
<circle cx="79.6" cy="633.7" r="2.5" fill="none" stroke="#000" stroke-width="1.6"/>
<circle cx="81.4" cy="639.7" r="2.5" fill="none" stroke="#000" stroke-width="1.6"/>
<circle cx="83.3" cy="641.2" r="2.5" fill="none" stroke="#000" stroke-width="1.6"/>
<circle cx="85.1" cy="635.9" r="2.5" fill="none" stroke="#000" stroke-width="1.6"/>
<circle cx="87.0" cy="626.6" r="2.5" fill="none" stroke="#000" stroke-width="1.6"/>
<circle cx="88.8" cy="632.8" r="2.5" fill="none" stroke="#000" stroke-width="1.6"/>
<circle cx="92.5" cy="629.8" r="2.5" fill="none" stroke="#000" stroke-width="1.6"/>
<circle cx="94.3" cy="626.0" r="2.5" fill="none" stroke="#000" stroke-width="1.6"/>
<circle cx="98.0" cy="631.3" r="2.5" fill="none" stroke="#000" stroke-width="1.6"/>
<circle cx="99.8" cy="638.9" r="2.5" fill="none" stroke="#000" stroke-width="1.6"/>
<circle cx="101.7" cy="632.4" r="2.5" fill="none" stroke="#000" stroke-width="1.6"/>
<circle cx="103.5" cy="631.8" r="2.5" fill="none" stroke="#000" stroke-width="1.6"/>
<circle cx="107.2" cy="636.0" r="2.5" fill="none" stroke="#000" stroke-width="1.6"/>
<circle cx="109.0" cy="635.7" r="2.5" fill="none" stroke="#000" stroke-width="1.6"/>
<circle cx="110.9" cy="634.3" r="2.5" fill="none" stroke="#000" stroke-width="1.6"/>
<circle cx="112.7" cy="627.8" r="2.5" fill="none" stroke="#000" stroke-width="1.6"/>
<circle cx="114.6" cy="637.9" r="2.5" fill="none" stroke="#000" stroke-width="1.6"/>
<circle cx="116.4" cy="629.0" r="2.5" fill="none" stroke="#000" stroke-width="1.6"/>
<circle cx="118.2" cy="627.9" r="2.5" fill="none" stroke="#000" stroke-width="1.6"/>
<circle cx="120.1" cy="632.0" r="2.5" fill="none" stroke="#000" stroke-width="1.6"/>
<circle cx="121.9" cy="626.6" r="2.5" fill="none" stroke="#000" stroke-width="1.6"/>
<circle cx="123.8" cy="629.9" r="2.5" fill="none" stroke="#000" stroke-width="1.6"/>
<circle cx="125.6" cy="627.4" r="2.5" fill="none" stroke="#000" stroke-width="1.6"/>
<circle cx="127.4" cy="621.6" r="2.5" fill="none" stroke="#000" stroke-width="1.6"/>
<circle cx="129.3" cy="625.5" r="2.5" fill="none" stroke="#000" stroke-width="1.6"/>
<circle cx="131.1" cy="622.6" r="2.5" fill="none" stroke="#000" stroke-width="1.6"/>
<circle cx="133.0" cy="615.1" r="2.5" fill="none" stroke="#000" stroke-width="1.6"/>
<circle cx="134.8" cy="617.7" r="2.5" fill="none" stroke="#000" stroke-width="1.6"/>
<circle cx="136.6" cy="634.8" r="2.5" fill="none" stroke="#000" stroke-width="1.6"/>
<circle cx="138.5" cy="625.0" r="2.5" fill="none" stroke="#000" stroke-width="1.6"/>
<circle cx="140.3" cy="621.4" r="2.5" fill="none" stroke="#000" stroke-width="1.6"/>
<circle cx="142.2" cy="629.8" r="2.5" fill="none" stroke="#000" stroke-width="1.6"/>
<circle cx="144.0" cy="636.2" r="2.5" fill="none" stroke="#000" stroke-width="1.6"/>
<circle cx="147.7" cy="638.1" r="2.5" fill="none" stroke="#000" stroke-width="1.6"/>
<circle cx="149.5" cy="643.3" r="2.5" fill="none" stroke="#000" stroke-width="1.6"/>
<circle cx="151.4" cy="646.0" r="2.5" fill="none" stroke="#000" stroke-width="1.6"/>
<circle cx="153.2" cy="627.9" r="2.5" fill="none" stroke="#000" stroke-width="1.6"/>
<circle cx="155.0" cy="632.0" r="2.5" fill="none" stroke="#000" stroke-width="1.6"/>
<circle cx="156.9" cy="636.3" r="2.5" fill="none" stroke="#000" stroke-width="1.6"/>
<circle cx="158.7" cy="642.1" r="2.5" fill="none" stroke="#000" stroke-width="1.6"/>
<circle cx="160.6" cy="645.0" r="2.5" fill="none" stroke="#000" stroke-width="1.6"/>
<circle cx="162.4" cy="636.8" r="2.5" fill="none" stroke="#000" stroke-width="1.6"/>
<circle cx="164.2" cy="643.7" r="2.5" fill="none" stroke="#000" stroke-width="1.6"/>
<circle cx="166.1" cy="638.5" r="2.5" fill="none" stroke="#000" stroke-width="1.6"/>
<circle cx="167.9" cy="640.5" r="2.5" fill="none" stroke="#000" stroke-width="1.6"/>
<circle cx="169.8" cy="635.4" r="2.5" fill="none" stroke="#000" stroke-width="1.6"/>
<circle cx="171.6" cy="633.1" r="2.5" fill="none" stroke="#000" stroke-width="1.6"/>
<circle cx="173.4" cy="651.2" r="2.5" fill="none" stroke="#000" stroke-width="1.6"/>
<circle cx="175.3" cy="634.7" r="2.5" fill="none" stroke="#000" stroke-width="1.6"/>
<circle cx="177.1" cy="644.7" r="2.5" fill="none" stroke="#000" stroke-width="1.6"/>
<circle cx="179.0" cy="632.1" r="2.5" fill="none" stroke="#000" stroke-width="1.6"/>
<circle cx="180.8" cy="627.4" r="2.5" fill="none" stroke="#000" stroke-width="1.6"/>
<circle cx="182.6" cy="633.5" r="2.5" fill="none" stroke="#000" stroke-width="1.6"/>
<circle cx="184.5" cy="633.6" r="2.5" fill="none" stroke="#000" stroke-width="1.6"/>
<circle cx="186.3" cy="629.6" r="2.5" fill="none" stroke="#000" stroke-width="1.6"/>
<circle cx="188.2" cy="637.0" r="2.5" fill="none" stroke="#000" stroke-width="1.6"/>
<circle cx="190.0" cy="629.7" r="2.5" fill="none" stroke="#000" stroke-width="1.6"/>
<circle cx="191.8" cy="630.2" r="2.5" fill="none" stroke="#000" stroke-width="1.6"/>
<circle cx="193.7" cy="618.3" r="2.5" fill="none" stroke="#000" stroke-width="1.6"/>
<circle cx="195.5" cy="630.3" r="2.5" fill="none" stroke="#000" stroke-width="1.6"/>
<circle cx="197.4" cy="632.3" r="2.5" fill="none" stroke="#000" stroke-width="1.6"/>
<circle cx="199.2" cy="637.7" r="2.5" fill="none" stroke="#000" stroke-width="1.6"/>
<circle cx="201.0" cy="623.7" r="2.5" fill="none" stroke="#000" stroke-width="1.6"/>
<circle cx="204.7" cy="624.0" r="2.5" fill="none" stroke="#000" stroke-width="1.6"/>
<circle cx="206.6" cy="627.8" r="2.5" fill="none" stroke="#000" stroke-width="1.6"/>
<circle cx="208.4" cy="640.8" r="2.5" fill="none" stroke="#000" stroke-width="1.6"/>
<circle cx="210.2" cy="634.1" r="2.5" fill="none" stroke="#000" stroke-width="1.6"/>
<circle cx="212.1" cy="634.6" r="2.5" fill="none" stroke="#000" stroke-width="1.6"/>
<circle cx="213.9" cy="626.6" r="2.5" fill="none" stroke="#000" stroke-width="1.6"/>
<circle cx="215.8" cy="629.0" r="2.5" fill="none" stroke="#000" stroke-width="1.6"/>
<circle cx="217.6" cy="634.4" r="2.5" fill="none" stroke="#000" stroke-width="1.6"/>
<circle cx="219.4" cy="636.4" r="2.5" fill="none" stroke="#000" stroke-width="1.6"/>
<circle cx="221.3" cy="630.4" r="2.5" fill="none" stroke="#000" stroke-width="1.6"/>
<circle cx="223.1" cy="624.7" r="2.5" fill="none" stroke="#000" stroke-width="1.6"/>
<rect x="328.8" y="681.6" width="1.4" height="1.4" fill="#777"/>
<rect x="330.5" y="675.9" width="1.4" height="1.4" fill="#777"/>
<rect x="331.8" y="676.1" width="1.4" height="1.4" fill="#777"/>
<rect x="333.7" y="687.7" width="1.4" height="1.4" fill="#777"/>
<rect x="335.7" y="681.4" width="1.4" height="1.4" fill="#777"/>
<rect x="337.7" y="678.3" width="1.4" height="1.4" fill="#777"/>
<rect x="339.0" y="687.3" width="1.4" height="1.4" fill="#777"/>
<rect x="340.4" y="683.3" width="1.4" height="1.4" fill="#777"/>
<rect x="341.4" y="676.2" width="1.4" height="1.4" fill="#777"/>
<rect x="342.9" y="683.3" width="1.4" height="1.4" fill="#777"/>
<rect x="344.7" y="687.3" width="1.4" height="1.4" fill="#777"/>
<rect x="345.8" y="681.0" width="1.4" height="1.4" fill="#777"/>
<rect x="347.0" y="685.6" width="1.4" height="1.4" fill="#777"/>
<rect x="348.0" y="690.6" width="1.4" height="1.4" fill="#777"/>
<rect x="349.3" y="681.6" width="1.4" height="1.4" fill="#777"/>
<rect x="351.3" y="679.3" width="1.4" height="1.4" fill="#777"/>
<rect x="352.6" y="683.5" width="1.4" height="1.4" fill="#777"/>
<rect x="353.8" y="682.1" width="1.4" height="1.4" fill="#777"/>
<rect x="355.8" y="688.5" width="1.4" height="1.4" fill="#777"/>
<rect x="357.2" y="677.8" width="1.4" height="1.4" fill="#777"/>
<rect x="359.0" y="680.1" width="1.4" height="1.4" fill="#777"/>
<rect x="360.6" y="672.8" width="1.4" height="1.4" fill="#777"/>
<rect x="362.5" y="685.3" width="1.4" height="1.4" fill="#777"/>
<rect x="364.0" y="671.3" width="1.4" height="1.4" fill="#777"/>
<rect x="365.5" y="686.2" width="1.4" height="1.4" fill="#777"/>
<rect x="367.3" y="688.4" width="1.4" height="1.4" fill="#777"/>
<rect x="368.4" y="679.1" width="1.4" height="1.4" fill="#777"/>
<rect x="369.6" y="675.9" width="1.4" height="1.4" fill="#777"/>
<rect x="371.3" y="683.1" width="1.4" height="1.4" fill="#777"/>
<rect x="373.1" y="676.8" width="1.4" height="1.4" fill="#777"/>
<rect x="374.8" y="680.2" width="1.4" height="1.4" fill="#777"/>
<rect x="376.2" y="686.6" width="1.4" height="1.4" fill="#777"/>
<rect x="377.6" y="670.7" width="1.4" height="1.4" fill="#777"/>
<rect x="379.5" y="687.1" width="1.4" height="1.4" fill="#777"/>
<rect x="380.5" y="683.1" width="1.4" height="1.4" fill="#777"/>
<rect x="382.2" y="679.8" width="1.4" height="1.4" fill="#777"/>
<rect x="383.3" y="679.9" width="1.4" height="1.4" fill="#777"/>
<rect x="384.8" y="673.8" width="1.4" height="1.4" fill="#777"/>
<rect x="386.2" y="675.4" width="1.4" height="1.4" fill="#777"/>
<rect x="387.9" y="675.9" width="1.4" height="1.4" fill="#777"/>
<rect x="388.8" y="674.0" width="1.4" height="1.4" fill="#777"/>
<rect x="389.9" y="686.1" width="1.4" height="1.4" fill="#777"/>
<rect x="391.3" y="686.6" width="1.4" height="1.4" fill="#777"/>
<rect x="392.3" y="679.6" width="1.4" height="1.4" fill="#777"/>
<rect x="393.8" y="684.7" width="1.4" height="1.4" fill="#777"/>
<rect x="395.8" y="670.6" width="1.4" height="1.4" fill="#777"/>
<rect x="397.2" y="675.4" width="1.4" height="1.4" fill="#777"/>
<rect x="398.5" y="667.9" width="1.4" height="1.4" fill="#777"/>
<rect x="399.5" y="680.4" width="1.4" height="1.4" fill="#777"/>
<rect x="400.7" y="669.8" width="1.4" height="1.4" fill="#777"/>
<rect x="402.2" y="678.1" width="1.4" height="1.4" fill="#777"/>
<rect x="403.5" y="669.1" width="1.4" height="1.4" fill="#777"/>
<rect x="404.7" y="670.8" width="1.4" height="1.4" fill="#777"/>
<rect x="406.4" y="677.0" width="1.4" height="1.4" fill="#777"/>
<rect x="407.8" y="677.1" width="1.4" height="1.4" fill="#777"/>
<rect x="409.2" y="679.2" width="1.4" height="1.4" fill="#777"/>
<rect x="410.8" y="677.2" width="1.4" height="1.4" fill="#777"/>
<rect x="412.0" y="670.4" width="1.4" height="1.4" fill="#777"/>
<rect x="413.5" y="675.8" width="1.4" height="1.4" fill="#777"/>
<rect x="415.4" y="675.9" width="1.4" height="1.4" fill="#777"/>
<rect x="416.7" y="667.5" width="1.4" height="1.4" fill="#777"/>
<rect x="418.7" y="669.4" width="1.4" height="1.4" fill="#777"/>
<rect x="420.1" y="671.4" width="1.4" height="1.4" fill="#777"/>
<rect x="421.8" y="678.2" width="1.4" height="1.4" fill="#777"/>
<rect x="423.5" y="665.8" width="1.4" height="1.4" fill="#777"/>
<rect x="425.2" y="670.9" width="1.4" height="1.4" fill="#777"/>
<rect x="426.6" y="671.0" width="1.4" height="1.4" fill="#777"/>
<rect x="427.7" y="668.7" width="1.4" height="1.4" fill="#777"/>
<rect x="429.2" y="664.7" width="1.4" height="1.4" fill="#777"/>
<rect x="430.5" y="669.5" width="1.4" height="1.4" fill="#777"/>
<rect x="431.5" y="674.9" width="1.4" height="1.4" fill="#777"/>
<rect x="433.2" y="677.6" width="1.4" height="1.4" fill="#777"/>
<rect x="434.8" y="678.2" width="1.4" height="1.4" fill="#777"/>
<rect x="436.2" y="663.7" width="1.4" height="1.4" fill="#777"/>
<rect x="437.3" y="665.1" width="1.4" height="1.4" fill="#777"/>
<rect x="438.3" y="671.1" width="1.4" height="1.4" fill="#777"/>
<rect x="440.2" y="666.2" width="1.4" height="1.4" fill="#777"/>
<rect x="441.5" y="670.6" width="1.4" height="1.4" fill="#777"/>
<rect x="443.2" y="667.2" width="1.4" height="1.4" fill="#777"/>
<rect x="445.0" y="670.4" width="1.4" height="1.4" fill="#777"/>
<rect x="446.2" y="668.0" width="1.4" height="1.4" fill="#777"/>
<rect x="447.7" y="670.8" width="1.4" height="1.4" fill="#777"/>
<rect x="449.7" y="678.1" width="1.4" height="1.4" fill="#777"/>
<rect x="451.5" y="674.5" width="1.4" height="1.4" fill="#777"/>
<rect x="453.2" y="662.7" width="1.4" height="1.4" fill="#777"/>
<rect x="454.4" y="669.6" width="1.4" height="1.4" fill="#777"/>
<rect x="455.9" y="670.8" width="1.4" height="1.4" fill="#777"/>
<rect x="457.0" y="668.3" width="1.4" height="1.4" fill="#777"/>
<rect x="458.9" y="667.4" width="1.4" height="1.4" fill="#777"/>
<rect x="460.2" y="664.6" width="1.4" height="1.4" fill="#777"/>
<rect x="461.6" y="676.7" width="1.4" height="1.4" fill="#777"/>
<rect x="463.2" y="670.7" width="1.4" height="1.4" fill="#777"/>
<rect x="464.7" y="660.7" width="1.4" height="1.4" fill="#777"/>
<rect x="466.2" y="661.2" width="1.4" height="1.4" fill="#777"/>
<rect x="467.5" y="664.7" width="1.4" height="1.4" fill="#777"/>
<rect x="468.5" y="673.1" width="1.4" height="1.4" fill="#777"/>
<rect x="470.2" y="665.7" width="1.4" height="1.4" fill="#777"/>
<rect x="472.0" y="671.2" width="1.4" height="1.4" fill="#777"/>
<rect x="473.3" y="671.5" width="1.4" height="1.4" fill="#777"/>
<rect x="474.8" y="677.6" width="1.4" height="1.4" fill="#777"/>
<rect x="476.1" y="665.7" width="1.4" height="1.4" fill="#777"/>
<rect x="477.2" y="672.0" width="1.4" height="1.4" fill="#777"/>
<rect x="479.1" y="660.2" width="1.4" height="1.4" fill="#777"/>
<rect x="480.3" y="674.1" width="1.4" height="1.4" fill="#777"/>
<rect x="481.3" y="675.7" width="1.4" height="1.4" fill="#777"/>
<rect x="483.1" y="663.4" width="1.4" height="1.4" fill="#777"/>
<rect x="484.3" y="667.9" width="1.4" height="1.4" fill="#777"/>
<rect x="486.0" y="676.3" width="1.4" height="1.4" fill="#777"/>
<rect x="487.8" y="660.6" width="1.4" height="1.4" fill="#777"/>
<rect x="489.0" y="663.4" width="1.4" height="1.4" fill="#777"/>
<rect x="490.7" y="670.0" width="1.4" height="1.4" fill="#777"/>
<rect x="492.6" y="672.0" width="1.4" height="1.4" fill="#777"/>
<rect x="494.0" y="670.1" width="1.4" height="1.4" fill="#777"/>
<rect x="328.7" y="591.3" width="1.6" height="1.6" fill="#000"/>
<rect x="329.7" y="586.3" width="1.6" height="1.6" fill="#000"/>
<rect x="330.4" y="596.7" width="1.6" height="1.6" fill="#000"/>
<rect x="331.5" y="604.6" width="1.6" height="1.6" fill="#000"/>
<rect x="332.4" y="590.8" width="1.6" height="1.6" fill="#000"/>
<rect x="333.4" y="609.5" width="1.6" height="1.6" fill="#000"/>
<rect x="334.4" y="608.2" width="1.6" height="1.6" fill="#000"/>
<rect x="335.5" y="607.9" width="1.6" height="1.6" fill="#000"/>
<rect x="336.2" y="584.9" width="1.6" height="1.6" fill="#000"/>
<rect x="336.8" y="590.4" width="1.6" height="1.6" fill="#000"/>
<rect x="337.7" y="588.6" width="1.6" height="1.6" fill="#000"/>
<rect x="338.9" y="597.3" width="1.6" height="1.6" fill="#000"/>
<rect x="339.5" y="584.9" width="1.6" height="1.6" fill="#000"/>
<rect x="340.1" y="606.6" width="1.6" height="1.6" fill="#000"/>
<rect x="341.1" y="605.2" width="1.6" height="1.6" fill="#000"/>
<rect x="341.9" y="598.4" width="1.6" height="1.6" fill="#000"/>
<rect x="342.7" y="607.3" width="1.6" height="1.6" fill="#000"/>
<rect x="343.4" y="613.9" width="1.6" height="1.6" fill="#000"/>
<rect x="344.3" y="606.7" width="1.6" height="1.6" fill="#000"/>
<rect x="345.4" y="601.0" width="1.6" height="1.6" fill="#000"/>
<rect x="346.2" y="589.1" width="1.6" height="1.6" fill="#000"/>
<rect x="347.1" y="595.6" width="1.6" height="1.6" fill="#000"/>
<rect x="348.0" y="602.6" width="1.6" height="1.6" fill="#000"/>
<rect x="348.9" y="601.0" width="1.6" height="1.6" fill="#000"/>
<rect x="349.8" y="591.9" width="1.6" height="1.6" fill="#000"/>
<rect x="350.5" y="613.7" width="1.6" height="1.6" fill="#000"/>
<rect x="351.0" y="591.7" width="1.6" height="1.6" fill="#000"/>
<rect x="351.8" y="608.9" width="1.6" height="1.6" fill="#000"/>
<rect x="352.9" y="594.9" width="1.6" height="1.6" fill="#000"/>
<rect x="353.9" y="601.4" width="1.6" height="1.6" fill="#000"/>
<rect x="354.8" y="589.3" width="1.6" height="1.6" fill="#000"/>
<rect x="355.9" y="589.8" width="1.6" height="1.6" fill="#000"/>
<rect x="357.1" y="598.9" width="1.6" height="1.6" fill="#000"/>
<rect x="357.9" y="589.9" width="1.6" height="1.6" fill="#000"/>
<rect x="359.1" y="612.2" width="1.6" height="1.6" fill="#000"/>
<rect x="359.6" y="610.1" width="1.6" height="1.6" fill="#000"/>
<rect x="360.6" y="611.2" width="1.6" height="1.6" fill="#000"/>
<rect x="361.7" y="602.0" width="1.6" height="1.6" fill="#000"/>
<rect x="362.7" y="597.8" width="1.6" height="1.6" fill="#000"/>
<rect x="363.5" y="588.8" width="1.6" height="1.6" fill="#000"/>
<rect x="364.2" y="601.6" width="1.6" height="1.6" fill="#000"/>
<rect x="365.0" y="597.9" width="1.6" height="1.6" fill="#000"/>
<rect x="365.5" y="608.1" width="1.6" height="1.6" fill="#000"/>
<rect x="366.2" y="612.3" width="1.6" height="1.6" fill="#000"/>
<rect x="367.0" y="587.1" width="1.6" height="1.6" fill="#000"/>
<rect x="367.6" y="596.3" width="1.6" height="1.6" fill="#000"/>
<rect x="368.7" y="593.8" width="1.6" height="1.6" fill="#000"/>
<rect x="369.3" y="613.4" width="1.6" height="1.6" fill="#000"/>
<rect x="369.9" y="590.7" width="1.6" height="1.6" fill="#000"/>
<rect x="370.8" y="587.1" width="1.6" height="1.6" fill="#000"/>
<rect x="371.5" y="590.8" width="1.6" height="1.6" fill="#000"/>
<rect x="372.5" y="596.9" width="1.6" height="1.6" fill="#000"/>
<rect x="373.0" y="598.3" width="1.6" height="1.6" fill="#000"/>
<rect x="374.1" y="607.2" width="1.6" height="1.6" fill="#000"/>
<rect x="374.8" y="600.3" width="1.6" height="1.6" fill="#000"/>
<rect x="375.5" y="606.4" width="1.6" height="1.6" fill="#000"/>
<rect x="376.5" y="612.5" width="1.6" height="1.6" fill="#000"/>
<rect x="377.2" y="606.1" width="1.6" height="1.6" fill="#000"/>
<rect x="378.2" y="586.5" width="1.6" height="1.6" fill="#000"/>
<rect x="379.2" y="603.5" width="1.6" height="1.6" fill="#000"/>
<rect x="380.0" y="612.7" width="1.6" height="1.6" fill="#000"/>
<rect x="380.8" y="592.2" width="1.6" height="1.6" fill="#000"/>
<rect x="382.0" y="603.8" width="1.6" height="1.6" fill="#000"/>
<rect x="382.7" y="597.5" width="1.6" height="1.6" fill="#000"/>
<rect x="383.3" y="600.1" width="1.6" height="1.6" fill="#000"/>
<rect x="384.4" y="598.3" width="1.6" height="1.6" fill="#000"/>
<rect x="385.0" y="583.0" width="1.6" height="1.6" fill="#000"/>
<rect x="385.6" y="609.0" width="1.6" height="1.6" fill="#000"/>
<rect x="386.7" y="596.7" width="1.6" height="1.6" fill="#000"/>
<rect x="387.8" y="583.5" width="1.6" height="1.6" fill="#000"/>
<rect x="388.4" y="592.2" width="1.6" height="1.6" fill="#000"/>
<rect x="389.5" y="592.0" width="1.6" height="1.6" fill="#000"/>
<rect x="390.6" y="597.3" width="1.6" height="1.6" fill="#000"/>
<rect x="391.2" y="611.1" width="1.6" height="1.6" fill="#000"/>
<rect x="391.9" y="611.2" width="1.6" height="1.6" fill="#000"/>
<rect x="392.8" y="609.6" width="1.6" height="1.6" fill="#000"/>
<rect x="393.7" y="603.7" width="1.6" height="1.6" fill="#000"/>
<rect x="394.6" y="599.9" width="1.6" height="1.6" fill="#000"/>
<rect x="395.5" y="613.2" width="1.6" height="1.6" fill="#000"/>
<rect x="396.2" y="582.8" width="1.6" height="1.6" fill="#000"/>
<rect x="397.1" y="603.2" width="1.6" height="1.6" fill="#000"/>
<rect x="398.3" y="610.6" width="1.6" height="1.6" fill="#000"/>
<rect x="399.3" y="603.8" width="1.6" height="1.6" fill="#000"/>
<rect x="400.4" y="613.2" width="1.6" height="1.6" fill="#000"/>
<rect x="401.2" y="593.0" width="1.6" height="1.6" fill="#000"/>
<rect x="402.2" y="588.1" width="1.6" height="1.6" fill="#000"/>
<rect x="403.0" y="590.1" width="1.6" height="1.6" fill="#000"/>
<rect x="403.6" y="586.5" width="1.6" height="1.6" fill="#000"/>
<rect x="404.7" y="604.1" width="1.6" height="1.6" fill="#000"/>
<rect x="405.9" y="588.8" width="1.6" height="1.6" fill="#000"/>
<rect x="407.0" y="586.0" width="1.6" height="1.6" fill="#000"/>
<rect x="408.0" y="587.1" width="1.6" height="1.6" fill="#000"/>
<rect x="408.8" y="598.3" width="1.6" height="1.6" fill="#000"/>
<rect x="409.8" y="612.6" width="1.6" height="1.6" fill="#000"/>
<rect x="410.6" y="605.2" width="1.6" height="1.6" fill="#000"/>
<rect x="411.2" y="601.6" width="1.6" height="1.6" fill="#000"/>
<rect x="412.4" y="606.9" width="1.6" height="1.6" fill="#000"/>
<rect x="413.4" y="608.9" width="1.6" height="1.6" fill="#000"/>
<rect x="414.1" y="598.5" width="1.6" height="1.6" fill="#000"/>
<rect x="414.7" y="588.9" width="1.6" height="1.6" fill="#000"/>
<rect x="415.4" y="586.2" width="1.6" height="1.6" fill="#000"/>
<rect x="416.0" y="594.0" width="1.6" height="1.6" fill="#000"/>
<rect x="416.8" y="593.8" width="1.6" height="1.6" fill="#000"/>
<rect x="418.0" y="602.4" width="1.6" height="1.6" fill="#000"/>
<rect x="418.8" y="605.5" width="1.6" height="1.6" fill="#000"/>
<rect x="419.7" y="594.9" width="1.6" height="1.6" fill="#000"/>
<rect x="420.7" y="586.9" width="1.6" height="1.6" fill="#000"/>
<rect x="421.7" y="588.0" width="1.6" height="1.6" fill="#000"/>
<rect x="422.3" y="593.6" width="1.6" height="1.6" fill="#000"/>
<rect x="423.3" y="591.4" width="1.6" height="1.6" fill="#000"/>
<rect x="423.9" y="601.3" width="1.6" height="1.6" fill="#000"/>
<rect x="424.9" y="598.8" width="1.6" height="1.6" fill="#000"/>
<rect x="425.7" y="611.1" width="1.6" height="1.6" fill="#000"/>
<rect x="426.2" y="590.7" width="1.6" height="1.6" fill="#000"/>
<rect x="426.8" y="599.2" width="1.6" height="1.6" fill="#000"/>
<rect x="427.8" y="590.9" width="1.6" height="1.6" fill="#000"/>
<rect x="428.4" y="595.3" width="1.6" height="1.6" fill="#000"/>
<rect x="429.5" y="598.6" width="1.6" height="1.6" fill="#000"/>
<rect x="430.6" y="595.1" width="1.6" height="1.6" fill="#000"/>
<rect x="431.4" y="592.3" width="1.6" height="1.6" fill="#000"/>
<rect x="432.2" y="614.0" width="1.6" height="1.6" fill="#000"/>
<rect x="432.9" y="597.3" width="1.6" height="1.6" fill="#000"/>
<rect x="433.8" y="612.7" width="1.6" height="1.6" fill="#000"/>
<rect x="434.8" y="595.0" width="1.6" height="1.6" fill="#000"/>
<rect x="435.8" y="606.1" width="1.6" height="1.6" fill="#000"/>
<rect x="436.7" y="591.5" width="1.6" height="1.6" fill="#000"/>
<rect x="437.9" y="600.6" width="1.6" height="1.6" fill="#000"/>
<rect x="438.7" y="604.2" width="1.6" height="1.6" fill="#000"/>
<rect x="439.3" y="585.1" width="1.6" height="1.6" fill="#000"/>
<rect x="439.9" y="610.1" width="1.6" height="1.6" fill="#000"/>
<rect x="440.9" y="592.6" width="1.6" height="1.6" fill="#000"/>
<rect x="441.6" y="603.9" width="1.6" height="1.6" fill="#000"/>
<rect x="442.3" y="614.0" width="1.6" height="1.6" fill="#000"/>
<rect x="443.2" y="610.6" width="1.6" height="1.6" fill="#000"/>
<rect x="444.3" y="585.1" width="1.6" height="1.6" fill="#000"/>
<rect x="445.0" y="601.7" width="1.6" height="1.6" fill="#000"/>
<rect x="445.6" y="587.8" width="1.6" height="1.6" fill="#000"/>
<rect x="446.2" y="592.2" width="1.6" height="1.6" fill="#000"/>
<rect x="446.8" y="595.8" width="1.6" height="1.6" fill="#000"/>
<rect x="447.9" y="591.9" width="1.6" height="1.6" fill="#000"/>
<rect x="448.5" y="597.2" width="1.6" height="1.6" fill="#000"/>
<rect x="449.3" y="588.3" width="1.6" height="1.6" fill="#000"/>
<rect x="450.2" y="612.3" width="1.6" height="1.6" fill="#000"/>
<rect x="451.4" y="596.8" width="1.6" height="1.6" fill="#000"/>
<rect x="452.4" y="588.7" width="1.6" height="1.6" fill="#000"/>
<rect x="453.0" y="600.0" width="1.6" height="1.6" fill="#000"/>
<rect x="453.9" y="587.4" width="1.6" height="1.6" fill="#000"/>
<rect x="454.6" y="598.7" width="1.6" height="1.6" fill="#000"/>
<rect x="455.3" y="593.2" width="1.6" height="1.6" fill="#000"/>
<rect x="456.0" y="602.4" width="1.6" height="1.6" fill="#000"/>
<rect x="457.1" y="601.2" width="1.6" height="1.6" fill="#000"/>
<rect x="457.7" y="609.5" width="1.6" height="1.6" fill="#000"/>
<rect x="458.5" y="596.0" width="1.6" height="1.6" fill="#000"/>
<rect x="459.3" y="609.3" width="1.6" height="1.6" fill="#000"/>
<rect x="460.3" y="610.7" width="1.6" height="1.6" fill="#000"/>
<rect x="461.2" y="596.9" width="1.6" height="1.6" fill="#000"/>
<rect x="462.2" y="589.4" width="1.6" height="1.6" fill="#000"/>
<rect x="463.0" y="595.9" width="1.6" height="1.6" fill="#000"/>
<rect x="463.8" y="603.9" width="1.6" height="1.6" fill="#000"/>
<rect x="464.6" y="604.3" width="1.6" height="1.6" fill="#000"/>
<rect x="465.6" y="595.1" width="1.6" height="1.6" fill="#000"/>
<rect x="466.4" y="596.1" width="1.6" height="1.6" fill="#000"/>
<rect x="467.2" y="611.5" width="1.6" height="1.6" fill="#000"/>
<rect x="468.3" y="605.7" width="1.6" height="1.6" fill="#000"/>
<rect x="469.0" y="610.3" width="1.6" height="1.6" fill="#000"/>
<rect x="470.1" y="612.0" width="1.6" height="1.6" fill="#000"/>
<rect x="471.1" y="607.9" width="1.6" height="1.6" fill="#000"/>
<rect x="471.9" y="600.9" width="1.6" height="1.6" fill="#000"/>
<rect x="472.6" y="602.3" width="1.6" height="1.6" fill="#000"/>
<rect x="473.7" y="613.5" width="1.6" height="1.6" fill="#000"/>
<rect x="474.7" y="605.1" width="1.6" height="1.6" fill="#000"/>
<rect x="475.4" y="612.1" width="1.6" height="1.6" fill="#000"/>
<rect x="476.3" y="613.9" width="1.6" height="1.6" fill="#000"/>
<rect x="477.2" y="587.9" width="1.6" height="1.6" fill="#000"/>
<rect x="478.0" y="586.7" width="1.6" height="1.6" fill="#000"/>
<rect x="479.2" y="589.7" width="1.6" height="1.6" fill="#000"/>
<rect x="479.8" y="586.4" width="1.6" height="1.6" fill="#000"/>
<rect x="480.4" y="611.7" width="1.6" height="1.6" fill="#000"/>
<rect x="481.1" y="586.2" width="1.6" height="1.6" fill="#000"/>
<rect x="482.2" y="587.2" width="1.6" height="1.6" fill="#000"/>
<rect x="483.2" y="600.9" width="1.6" height="1.6" fill="#000"/>
<rect x="484.1" y="609.9" width="1.6" height="1.6" fill="#000"/>
<rect x="485.0" y="599.7" width="1.6" height="1.6" fill="#000"/>
<rect x="486.0" y="598.2" width="1.6" height="1.6" fill="#000"/>
<rect x="487.0" y="611.7" width="1.6" height="1.6" fill="#000"/>
<rect x="487.6" y="609.8" width="1.6" height="1.6" fill="#000"/>
<rect x="488.4" y="601.9" width="1.6" height="1.6" fill="#000"/>
<rect x="489.3" y="606.4" width="1.6" height="1.6" fill="#000"/>
<rect x="490.1" y="590.3" width="1.6" height="1.6" fill="#000"/>
<rect x="490.6" y="582.8" width="1.6" height="1.6" fill="#000"/>
<rect x="491.2" y="606.7" width="1.6" height="1.6" fill="#000"/>
<rect x="492.1" y="595.4" width="1.6" height="1.6" fill="#000"/>
<rect x="493.0" y="608.6" width="1.6" height="1.6" fill="#000"/>
<rect x="493.7" y="595.2" width="1.6" height="1.6" fill="#000"/>
<path d="M329.5 657.6L332.9 663.5L326.1 663.5Z" fill="#dcdcdc" stroke="#222" stroke-width="0.9"/>
<path d="M331.4 655.0L334.8 660.9L328.0 660.9Z" fill="#dcdcdc" stroke="#222" stroke-width="0.9"/>
<path d="M333.2 657.2L336.6 663.1L329.8 663.1Z" fill="#dcdcdc" stroke="#222" stroke-width="0.9"/>
<path d="M335.0 656.3L338.4 662.2L331.6 662.2Z" fill="#dcdcdc" stroke="#222" stroke-width="0.9"/>
<path d="M336.9 650.9L340.3 656.8L333.5 656.8Z" fill="#dcdcdc" stroke="#222" stroke-width="0.9"/>
<path d="M338.7 655.0L342.1 661.0L335.3 661.0Z" fill="#dcdcdc" stroke="#222" stroke-width="0.9"/>
<path d="M340.6 654.9L344.0 660.8L337.2 660.8Z" fill="#dcdcdc" stroke="#222" stroke-width="0.9"/>
<path d="M342.4 652.1L345.8 658.1L339.0 658.1Z" fill="#dcdcdc" stroke="#222" stroke-width="0.9"/>
<path d="M344.2 649.9L347.6 655.8L340.8 655.8Z" fill="#dcdcdc" stroke="#222" stroke-width="0.9"/>
<path d="M346.1 658.5L349.5 664.4L342.7 664.4Z" fill="#dcdcdc" stroke="#222" stroke-width="0.9"/>
<path d="M347.9 650.7L351.3 656.6L344.5 656.6Z" fill="#dcdcdc" stroke="#222" stroke-width="0.9"/>
<path d="M349.8 648.6L353.2 654.5L346.4 654.5Z" fill="#dcdcdc" stroke="#222" stroke-width="0.9"/>
<path d="M351.6 649.7L355.0 655.6L348.2 655.6Z" fill="#dcdcdc" stroke="#222" stroke-width="0.9"/>
<path d="M353.4 656.9L356.8 662.9L350.0 662.9Z" fill="#dcdcdc" stroke="#222" stroke-width="0.9"/>
<path d="M355.3 651.3L358.7 657.2L351.9 657.2Z" fill="#dcdcdc" stroke="#222" stroke-width="0.9"/>
<path d="M357.1 650.2L360.5 656.1L353.7 656.1Z" fill="#dcdcdc" stroke="#222" stroke-width="0.9"/>
<path d="M359.0 650.2L362.4 656.2L355.6 656.2Z" fill="#dcdcdc" stroke="#222" stroke-width="0.9"/>
<path d="M360.8 649.4L364.2 655.3L357.4 655.3Z" fill="#dcdcdc" stroke="#222" stroke-width="0.9"/>
<path d="M362.6 646.5L366.0 652.5L359.2 652.5Z" fill="#dcdcdc" stroke="#222" stroke-width="0.9"/>
<path d="M364.5 653.8L367.9 659.7L361.1 659.7Z" fill="#dcdcdc" stroke="#222" stroke-width="0.9"/>
<path d="M366.3 651.8L369.7 657.7L362.9 657.7Z" fill="#dcdcdc" stroke="#222" stroke-width="0.9"/>
<path d="M368.2 650.3L371.6 656.2L364.8 656.2Z" fill="#dcdcdc" stroke="#222" stroke-width="0.9"/>
<path d="M370.0 651.4L373.4 657.4L366.6 657.4Z" fill="#dcdcdc" stroke="#222" stroke-width="0.9"/>
<path d="M371.8 648.8L375.2 654.8L368.4 654.8Z" fill="#dcdcdc" stroke="#222" stroke-width="0.9"/>
<path d="M373.7 652.4L377.1 658.4L370.3 658.4Z" fill="#dcdcdc" stroke="#222" stroke-width="0.9"/>
<path d="M375.5 653.1L378.9 659.0L372.1 659.0Z" fill="#dcdcdc" stroke="#222" stroke-width="0.9"/>
<path d="M377.4 649.5L380.8 655.4L374.0 655.4Z" fill="#dcdcdc" stroke="#222" stroke-width="0.9"/>
<path d="M379.2 652.4L382.6 658.3L375.8 658.3Z" fill="#dcdcdc" stroke="#222" stroke-width="0.9"/>
<path d="M381.0 652.9L384.4 658.8L377.6 658.8Z" fill="#dcdcdc" stroke="#222" stroke-width="0.9"/>
<path d="M382.9 650.0L386.3 655.9L379.5 655.9Z" fill="#dcdcdc" stroke="#222" stroke-width="0.9"/>
<path d="M384.7 653.0L388.1 658.9L381.3 658.9Z" fill="#dcdcdc" stroke="#222" stroke-width="0.9"/>
<path d="M386.6 649.6L390.0 655.6L383.2 655.6Z" fill="#dcdcdc" stroke="#222" stroke-width="0.9"/>
<path d="M388.4 653.5L391.8 659.4L385.0 659.4Z" fill="#dcdcdc" stroke="#222" stroke-width="0.9"/>
<path d="M390.2 655.9L393.6 661.8L386.8 661.8Z" fill="#dcdcdc" stroke="#222" stroke-width="0.9"/>
<path d="M392.1 654.3L395.5 660.2L388.7 660.2Z" fill="#dcdcdc" stroke="#222" stroke-width="0.9"/>
<path d="M393.9 650.6L397.3 656.5L390.5 656.5Z" fill="#dcdcdc" stroke="#222" stroke-width="0.9"/>
<path d="M395.8 653.3L399.2 659.2L392.4 659.2Z" fill="#dcdcdc" stroke="#222" stroke-width="0.9"/>
<path d="M397.6 653.6L401.0 659.5L394.2 659.5Z" fill="#dcdcdc" stroke="#222" stroke-width="0.9"/>
<path d="M399.4 655.5L402.8 661.4L396.0 661.4Z" fill="#dcdcdc" stroke="#222" stroke-width="0.9"/>
<path d="M401.3 651.8L404.7 657.8L397.9 657.8Z" fill="#dcdcdc" stroke="#222" stroke-width="0.9"/>
<path d="M403.1 651.9L406.5 657.8L399.7 657.8Z" fill="#dcdcdc" stroke="#222" stroke-width="0.9"/>
<path d="M405.0 652.3L408.4 658.2L401.6 658.2Z" fill="#dcdcdc" stroke="#222" stroke-width="0.9"/>
<path d="M406.8 657.1L410.2 663.1L403.4 663.1Z" fill="#dcdcdc" stroke="#222" stroke-width="0.9"/>
<path d="M408.6 649.0L412.0 654.9L405.2 654.9Z" fill="#dcdcdc" stroke="#222" stroke-width="0.9"/>
<path d="M410.5 650.8L413.9 656.7L407.1 656.7Z" fill="#dcdcdc" stroke="#222" stroke-width="0.9"/>
<path d="M412.3 651.2L415.7 657.1L408.9 657.1Z" fill="#dcdcdc" stroke="#222" stroke-width="0.9"/>
<path d="M414.2 651.2L417.6 657.1L410.8 657.1Z" fill="#dcdcdc" stroke="#222" stroke-width="0.9"/>
<path d="M416.0 647.7L419.4 653.6L412.6 653.6Z" fill="#dcdcdc" stroke="#222" stroke-width="0.9"/>
<path d="M417.8 650.2L421.2 656.1L414.4 656.1Z" fill="#dcdcdc" stroke="#222" stroke-width="0.9"/>
<path d="M419.7 648.4L423.1 654.3L416.3 654.3Z" fill="#dcdcdc" stroke="#222" stroke-width="0.9"/>
<path d="M421.5 653.4L424.9 659.3L418.1 659.3Z" fill="#dcdcdc" stroke="#222" stroke-width="0.9"/>
<path d="M423.4 651.9L426.8 657.8L420.0 657.8Z" fill="#dcdcdc" stroke="#222" stroke-width="0.9"/>
<path d="M425.2 650.4L428.6 656.3L421.8 656.3Z" fill="#dcdcdc" stroke="#222" stroke-width="0.9"/>
<path d="M427.0 648.2L430.4 654.1L423.6 654.1Z" fill="#dcdcdc" stroke="#222" stroke-width="0.9"/>
<path d="M428.9 648.7L432.3 654.6L425.5 654.6Z" fill="#dcdcdc" stroke="#222" stroke-width="0.9"/>
<path d="M430.7 648.7L434.1 654.6L427.3 654.6Z" fill="#dcdcdc" stroke="#222" stroke-width="0.9"/>
<path d="M432.6 648.7L436.0 654.6L429.2 654.6Z" fill="#dcdcdc" stroke="#222" stroke-width="0.9"/>
<path d="M434.4 650.5L437.8 656.4L431.0 656.4Z" fill="#dcdcdc" stroke="#222" stroke-width="0.9"/>
<path d="M436.2 649.8L439.6 655.7L432.8 655.7Z" fill="#dcdcdc" stroke="#222" stroke-width="0.9"/>
<path d="M438.1 653.6L441.5 659.5L434.7 659.5Z" fill="#dcdcdc" stroke="#222" stroke-width="0.9"/>
<path d="M439.9 648.4L443.3 654.3L436.5 654.3Z" fill="#dcdcdc" stroke="#222" stroke-width="0.9"/>
<path d="M441.8 649.3L445.2 655.2L438.4 655.2Z" fill="#dcdcdc" stroke="#222" stroke-width="0.9"/>
<path d="M443.6 652.0L447.0 657.9L440.2 657.9Z" fill="#dcdcdc" stroke="#222" stroke-width="0.9"/>
<path d="M445.4 646.9L448.8 652.8L442.0 652.8Z" fill="#dcdcdc" stroke="#222" stroke-width="0.9"/>
<path d="M447.3 651.2L450.7 657.1L443.9 657.1Z" fill="#dcdcdc" stroke="#222" stroke-width="0.9"/>
<path d="M449.1 653.4L452.5 659.3L445.7 659.3Z" fill="#dcdcdc" stroke="#222" stroke-width="0.9"/>
<path d="M451.0 653.8L454.4 659.8L447.6 659.8Z" fill="#dcdcdc" stroke="#222" stroke-width="0.9"/>
<path d="M452.8 651.3L456.2 657.3L449.4 657.3Z" fill="#dcdcdc" stroke="#222" stroke-width="0.9"/>
<path d="M454.6 655.9L458.0 661.8L451.2 661.8Z" fill="#dcdcdc" stroke="#222" stroke-width="0.9"/>
<path d="M456.5 650.6L459.9 656.5L453.1 656.5Z" fill="#dcdcdc" stroke="#222" stroke-width="0.9"/>
<path d="M458.3 651.4L461.7 657.3L454.9 657.3Z" fill="#dcdcdc" stroke="#222" stroke-width="0.9"/>
<path d="M460.2 646.3L463.6 652.2L456.8 652.2Z" fill="#dcdcdc" stroke="#222" stroke-width="0.9"/>
<path d="M462.0 647.5L465.4 653.4L458.6 653.4Z" fill="#dcdcdc" stroke="#222" stroke-width="0.9"/>
<path d="M463.8 651.6L467.2 657.5L460.4 657.5Z" fill="#dcdcdc" stroke="#222" stroke-width="0.9"/>
<path d="M465.7 644.2L469.1 650.2L462.3 650.2Z" fill="#dcdcdc" stroke="#222" stroke-width="0.9"/>
<path d="M467.5 650.8L470.9 656.7L464.1 656.7Z" fill="#dcdcdc" stroke="#222" stroke-width="0.9"/>
<path d="M469.4 645.5L472.8 651.5L466.0 651.5Z" fill="#dcdcdc" stroke="#222" stroke-width="0.9"/>
<path d="M471.2 642.2L474.6 648.1L467.8 648.1Z" fill="#dcdcdc" stroke="#222" stroke-width="0.9"/>
<path d="M473.0 646.9L476.4 652.8L469.6 652.8Z" fill="#dcdcdc" stroke="#222" stroke-width="0.9"/>
<path d="M474.9 643.5L478.3 649.4L471.5 649.4Z" fill="#dcdcdc" stroke="#222" stroke-width="0.9"/>
<path d="M476.7 645.6L480.1 651.5L473.3 651.5Z" fill="#dcdcdc" stroke="#222" stroke-width="0.9"/>
<path d="M478.6 645.1L482.0 651.1L475.2 651.1Z" fill="#dcdcdc" stroke="#222" stroke-width="0.9"/>
<path d="M480.4 650.3L483.8 656.2L477.0 656.2Z" fill="#dcdcdc" stroke="#222" stroke-width="0.9"/>
<path d="M482.2 643.8L485.6 649.7L478.8 649.7Z" fill="#dcdcdc" stroke="#222" stroke-width="0.9"/>
<path d="M484.1 645.6L487.5 651.5L480.7 651.5Z" fill="#dcdcdc" stroke="#222" stroke-width="0.9"/>
<path d="M485.9 645.8L489.3 651.8L482.5 651.8Z" fill="#dcdcdc" stroke="#222" stroke-width="0.9"/>
<path d="M487.8 640.0L491.2 645.9L484.4 645.9Z" fill="#dcdcdc" stroke="#222" stroke-width="0.9"/>
<path d="M489.6 646.2L493.0 652.1L486.2 652.1Z" fill="#dcdcdc" stroke="#222" stroke-width="0.9"/>
<path d="M491.4 645.1L494.8 651.1L488.0 651.1Z" fill="#dcdcdc" stroke="#222" stroke-width="0.9"/>
<path d="M493.3 645.5L496.7 651.4L489.9 651.4Z" fill="#dcdcdc" stroke="#222" stroke-width="0.9"/>
<path d="M495.1 647.0L498.5 652.9L491.7 652.9Z" fill="#dcdcdc" stroke="#222" stroke-width="0.9"/>
<circle cx="329.5" cy="635.2" r="2.4" fill="none" stroke="#000" stroke-width="1.6"/>
<circle cx="331.4" cy="643.4" r="2.4" fill="none" stroke="#000" stroke-width="1.6"/>
<circle cx="333.2" cy="630.1" r="2.4" fill="none" stroke="#000" stroke-width="1.6"/>
<circle cx="335.0" cy="637.5" r="2.4" fill="none" stroke="#000" stroke-width="1.6"/>
<circle cx="336.9" cy="633.9" r="2.4" fill="none" stroke="#000" stroke-width="1.6"/>
<circle cx="338.7" cy="625.9" r="2.4" fill="none" stroke="#000" stroke-width="1.6"/>
<circle cx="340.6" cy="626.9" r="2.4" fill="none" stroke="#000" stroke-width="1.6"/>
<circle cx="342.4" cy="628.3" r="2.4" fill="none" stroke="#000" stroke-width="1.6"/>
<circle cx="344.2" cy="630.9" r="2.4" fill="none" stroke="#000" stroke-width="1.6"/>
<circle cx="346.1" cy="627.3" r="2.4" fill="none" stroke="#000" stroke-width="1.6"/>
<circle cx="347.9" cy="626.1" r="2.4" fill="none" stroke="#000" stroke-width="1.6"/>
<circle cx="349.8" cy="623.7" r="2.4" fill="none" stroke="#000" stroke-width="1.6"/>
<circle cx="351.6" cy="625.8" r="2.4" fill="none" stroke="#000" stroke-width="1.6"/>
<circle cx="353.4" cy="630.2" r="2.4" fill="none" stroke="#000" stroke-width="1.6"/>
<circle cx="355.3" cy="627.6" r="2.4" fill="none" stroke="#000" stroke-width="1.6"/>
<circle cx="357.1" cy="629.1" r="2.4" fill="none" stroke="#000" stroke-width="1.6"/>
<circle cx="359.0" cy="627.4" r="2.4" fill="none" stroke="#000" stroke-width="1.6"/>
<circle cx="360.8" cy="620.9" r="2.4" fill="none" stroke="#000" stroke-width="1.6"/>
<circle cx="362.6" cy="625.7" r="2.4" fill="none" stroke="#000" stroke-width="1.6"/>
<circle cx="364.5" cy="628.6" r="2.4" fill="none" stroke="#000" stroke-width="1.6"/>
<circle cx="366.3" cy="623.2" r="2.4" fill="none" stroke="#000" stroke-width="1.6"/>
<circle cx="368.2" cy="628.9" r="2.4" fill="none" stroke="#000" stroke-width="1.6"/>
<circle cx="370.0" cy="625.2" r="2.4" fill="none" stroke="#000" stroke-width="1.6"/>
<circle cx="371.8" cy="624.6" r="2.4" fill="none" stroke="#000" stroke-width="1.6"/>
<circle cx="373.7" cy="626.7" r="2.4" fill="none" stroke="#000" stroke-width="1.6"/>
<circle cx="375.5" cy="628.3" r="2.4" fill="none" stroke="#000" stroke-width="1.6"/>
<circle cx="377.4" cy="626.4" r="2.4" fill="none" stroke="#000" stroke-width="1.6"/>
<circle cx="379.2" cy="624.3" r="2.4" fill="none" stroke="#000" stroke-width="1.6"/>
<circle cx="381.0" cy="627.7" r="2.4" fill="none" stroke="#000" stroke-width="1.6"/>
<circle cx="382.9" cy="621.6" r="2.4" fill="none" stroke="#000" stroke-width="1.6"/>
<circle cx="384.7" cy="628.0" r="2.4" fill="none" stroke="#000" stroke-width="1.6"/>
<circle cx="386.6" cy="631.5" r="2.4" fill="none" stroke="#000" stroke-width="1.6"/>
<circle cx="388.4" cy="626.4" r="2.4" fill="none" stroke="#000" stroke-width="1.6"/>
<circle cx="390.2" cy="630.3" r="2.4" fill="none" stroke="#000" stroke-width="1.6"/>
<circle cx="392.1" cy="629.9" r="2.4" fill="none" stroke="#000" stroke-width="1.6"/>
<circle cx="393.9" cy="625.1" r="2.4" fill="none" stroke="#000" stroke-width="1.6"/>
<circle cx="395.8" cy="626.6" r="2.4" fill="none" stroke="#000" stroke-width="1.6"/>
<circle cx="397.6" cy="634.3" r="2.4" fill="none" stroke="#000" stroke-width="1.6"/>
<circle cx="399.4" cy="631.6" r="2.4" fill="none" stroke="#000" stroke-width="1.6"/>
<circle cx="401.3" cy="633.2" r="2.4" fill="none" stroke="#000" stroke-width="1.6"/>
<circle cx="403.1" cy="624.9" r="2.4" fill="none" stroke="#000" stroke-width="1.6"/>
<circle cx="405.0" cy="635.8" r="2.4" fill="none" stroke="#000" stroke-width="1.6"/>
<circle cx="406.8" cy="629.5" r="2.4" fill="none" stroke="#000" stroke-width="1.6"/>
<circle cx="408.6" cy="625.3" r="2.4" fill="none" stroke="#000" stroke-width="1.6"/>
<circle cx="410.5" cy="635.3" r="2.4" fill="none" stroke="#000" stroke-width="1.6"/>
<circle cx="412.3" cy="629.5" r="2.4" fill="none" stroke="#000" stroke-width="1.6"/>
<circle cx="414.2" cy="633.6" r="2.4" fill="none" stroke="#000" stroke-width="1.6"/>
<circle cx="416.0" cy="632.4" r="2.4" fill="none" stroke="#000" stroke-width="1.6"/>
<circle cx="417.8" cy="627.2" r="2.4" fill="none" stroke="#000" stroke-width="1.6"/>
<circle cx="419.7" cy="632.0" r="2.4" fill="none" stroke="#000" stroke-width="1.6"/>
<circle cx="421.5" cy="630.3" r="2.4" fill="none" stroke="#000" stroke-width="1.6"/>
<circle cx="423.4" cy="625.3" r="2.4" fill="none" stroke="#000" stroke-width="1.6"/>
<circle cx="425.2" cy="634.5" r="2.4" fill="none" stroke="#000" stroke-width="1.6"/>
<circle cx="427.0" cy="622.7" r="2.4" fill="none" stroke="#000" stroke-width="1.6"/>
<circle cx="428.9" cy="626.4" r="2.4" fill="none" stroke="#000" stroke-width="1.6"/>
<circle cx="430.7" cy="631.8" r="2.4" fill="none" stroke="#000" stroke-width="1.6"/>
<circle cx="432.6" cy="631.4" r="2.4" fill="none" stroke="#000" stroke-width="1.6"/>
<circle cx="434.4" cy="627.3" r="2.4" fill="none" stroke="#000" stroke-width="1.6"/>
<circle cx="436.2" cy="628.9" r="2.4" fill="none" stroke="#000" stroke-width="1.6"/>
<circle cx="438.1" cy="631.6" r="2.4" fill="none" stroke="#000" stroke-width="1.6"/>
<circle cx="439.9" cy="627.7" r="2.4" fill="none" stroke="#000" stroke-width="1.6"/>
<circle cx="441.8" cy="626.3" r="2.4" fill="none" stroke="#000" stroke-width="1.6"/>
<circle cx="443.6" cy="628.9" r="2.4" fill="none" stroke="#000" stroke-width="1.6"/>
<circle cx="445.4" cy="630.1" r="2.4" fill="none" stroke="#000" stroke-width="1.6"/>
<circle cx="447.3" cy="629.0" r="2.4" fill="none" stroke="#000" stroke-width="1.6"/>
<circle cx="449.1" cy="628.2" r="2.4" fill="none" stroke="#000" stroke-width="1.6"/>
<circle cx="451.0" cy="632.3" r="2.4" fill="none" stroke="#000" stroke-width="1.6"/>
<circle cx="452.8" cy="628.5" r="2.4" fill="none" stroke="#000" stroke-width="1.6"/>
<circle cx="454.6" cy="631.5" r="2.4" fill="none" stroke="#000" stroke-width="1.6"/>
<circle cx="456.5" cy="628.4" r="2.4" fill="none" stroke="#000" stroke-width="1.6"/>
<circle cx="458.3" cy="629.2" r="2.4" fill="none" stroke="#000" stroke-width="1.6"/>
<circle cx="460.2" cy="628.2" r="2.4" fill="none" stroke="#000" stroke-width="1.6"/>
<circle cx="462.0" cy="623.7" r="2.4" fill="none" stroke="#000" stroke-width="1.6"/>
<circle cx="463.8" cy="625.2" r="2.4" fill="none" stroke="#000" stroke-width="1.6"/>
<circle cx="465.7" cy="634.0" r="2.4" fill="none" stroke="#000" stroke-width="1.6"/>
<circle cx="467.5" cy="630.2" r="2.4" fill="none" stroke="#000" stroke-width="1.6"/>
<circle cx="469.4" cy="628.8" r="2.4" fill="none" stroke="#000" stroke-width="1.6"/>
<circle cx="471.2" cy="631.9" r="2.4" fill="none" stroke="#000" stroke-width="1.6"/>
<circle cx="473.0" cy="635.9" r="2.4" fill="none" stroke="#000" stroke-width="1.6"/>
<circle cx="474.9" cy="622.9" r="2.4" fill="none" stroke="#000" stroke-width="1.6"/>
<circle cx="476.7" cy="627.4" r="2.4" fill="none" stroke="#000" stroke-width="1.6"/>
<circle cx="478.6" cy="631.3" r="2.4" fill="none" stroke="#000" stroke-width="1.6"/>
<circle cx="480.4" cy="630.6" r="2.4" fill="none" stroke="#000" stroke-width="1.6"/>
<circle cx="482.2" cy="633.6" r="2.4" fill="none" stroke="#000" stroke-width="1.6"/>
<circle cx="484.1" cy="630.0" r="2.4" fill="none" stroke="#000" stroke-width="1.6"/>
<circle cx="485.9" cy="624.7" r="2.4" fill="none" stroke="#000" stroke-width="1.6"/>
<circle cx="487.8" cy="627.5" r="2.4" fill="none" stroke="#000" stroke-width="1.6"/>
<circle cx="489.6" cy="631.7" r="2.4" fill="none" stroke="#000" stroke-width="1.6"/>
<circle cx="491.4" cy="635.5" r="2.4" fill="none" stroke="#000" stroke-width="1.6"/>
<circle cx="493.3" cy="641.8" r="2.4" fill="none" stroke="#000" stroke-width="1.6"/>
<circle cx="495.1" cy="642.6" r="2.4" fill="none" stroke="#000" stroke-width="1.6"/>
<circle cx="76.3" cy="429.8" r="3.1" fill="none" stroke="#000" stroke-width="2.3"/>
<path d="M76.3 445.8 L81.6 452.3 L71 452.3 Z" fill="none" stroke="#000" stroke-width="1.3"/>
<text x="92.5" y="436" font-size="18.5" text-anchor="start" font-weight="normal" stroke="#000" stroke-width="0.3" >control</text>
<text x="93.5" y="455.5" font-size="18.3" text-anchor="start" font-weight="normal" stroke="#000" stroke-width="0.3" >inhibitor cocktail</text>
</svg>
</body></html>
